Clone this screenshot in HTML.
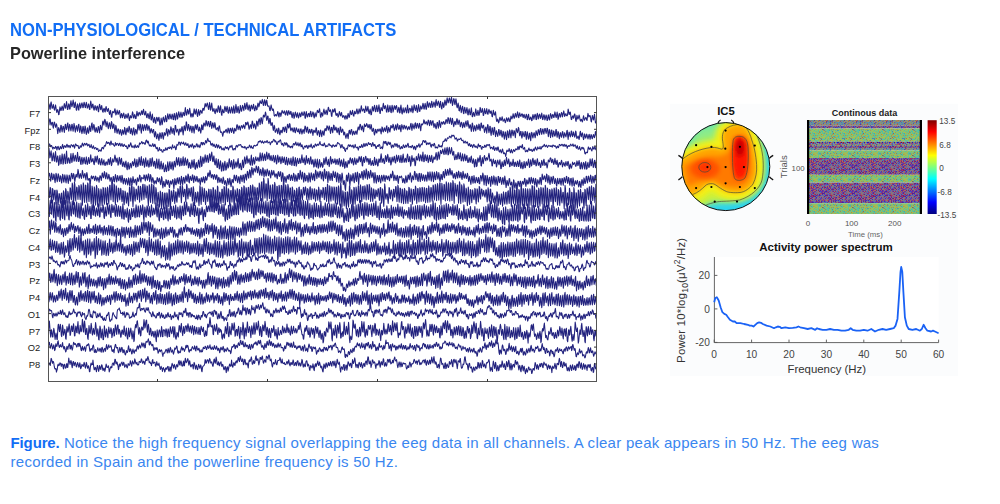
<!DOCTYPE html><html><head><meta charset="utf-8"><style>
*{margin:0;padding:0;box-sizing:border-box}
html,body{width:1000px;height:504px;background:#fff;overflow:hidden;font-family:"Liberation Sans",sans-serif}
.abs{position:absolute;white-space:nowrap}
#t1{left:10.3px;top:19.5px;font-size:17.6px;line-height:20px;font-weight:bold;color:#126ef5;transform:scaleX(0.944);transform-origin:0 0}
#t2{left:10.4px;top:44px;font-size:17px;line-height:20px;font-weight:bold;color:#262626;transform:scaleX(0.96);transform-origin:0 0}
#cap{left:10.6px;top:433px;font-size:15px;line-height:19.3px;color:#3a86f0;letter-spacing:0.27px}
#cap b{color:#126ef5;letter-spacing:-0.15px}
svg{position:absolute;left:0;top:0}
</style></head><body>
<div class="abs" id="t1">NON-PHYSIOLOGICAL / TECHNICAL ARTIFACTS</div><div class="abs" id="t2">Powerline interference</div><div class="abs" id="cap"><b>Figure.</b> Notice the high frequency signal overlapping the eeg data in all channels. A clear peak appears in 50 Hz. The eeg was<br>recorded in Spain and the powerline frequency is 50 Hz.</div>
<svg width="1000" height="504" viewBox="0 0 1000 504" font-family="Liberation Sans, sans-serif"><rect x="48.5" y="96.5" width="548.0" height="285.0" fill="#fff"/><clipPath id="ck"><rect x="48.5" y="96.5" width="548.0" height="285.0"/></clipPath><g clip-path="url(#ck)"><g transform="translate(48.5,0) scale(0.44,0.1)" fill="none" stroke="#22227e" stroke-width="1.05" stroke-linejoin="round"><path vector-effect="non-scaling-stroke" d="M0 1043l1 -5 1 13 1 39 1 3 1 -59 1 -15 1 27 1 37 1 -1 1 -19 1 -19 1 29 1 22 1 6 1 -33 1 -19 1 27 1 33 1 16 1 -21 1 -9 1 18 1 35 1 -4 1 -41 1 -35 1 13 1 26 1 -5 1 -25 1 -16 1 16 1 28 1 -8 1 -35 1 -26 1 16 1 30 1 -2 1 -35 1 -30 1 32 1 47 1 0 1 -33 1 -23 1 10 1 43 1 -2 1 -53 1 -29 1 29 1 32 1 -10 1 -30 1 -28 1 25 1 50 1 -1 1 -39 1 -14 1 35 1 42 1 5 1 -39 1 -26 1 18 1 40 1 5 1 -52 1 -19 1 21 1 30 1 -10 1 -29 1 -14 1 16 1 34 1 -3 1 -36 1 -17 1 19 1 30 1 5 1 -32 1 -21 1 20 1 38 1 -3 1 -17 1 -22 1 16 1 38 1 2 1 -50 1 -35 1 27 1 40 1 3 1 -35 1 -4 1 26 1 33 1 1 1 -34 1 -12 1 19 1 23 1 5 1 -37 1 -5 1 13 1 40 1 5 1 -55 1 -21 1 16 1 32 1 8 1 -29 1 -14 1 32 1 30 1 6 1 -26 1 -14 1 5 1 28 1 4 1 -40 1 -15 1 20 1 24 1 5 1 -20 1 -10 1 20 1 30 1 11 1 -23 1 -18 1 33 1 35 1 -1 1 -38 1 -19 1 5 1 7 1 3 1 -26 1 -16 1 22 1 41 1 -8 1 -16 1 -26 1 18 1 27 1 -7 1 -17 1 -16 1 17 1 46 1 11 1 -29 1 -15 1 12 1 31 1 -14 1 -21 1 -12 1 23 1 29 1 1 1 -24 1 -18 1 14 1 22 1 2 1 -26 1 -21 1 17 1 39 1 17 1 -28 1 -22 1 12 1 11 1 -5 1 -30 1 -26 1 14 1 44 1 5 1 -25 1 -12 1 18 1 24 1 -2 1 -39 1 -33 1 22 1 25 1 0 1 -27 1 -9 1 10 1 14 1 5 1 -18 1 -17 1 -9 1 37 1 -4 1 -30 1 -18 1 22 1 33 1 2 1 -14 1 -24 1 31 1 31 1 3 1 -30 1 -12 1 14 1 32 1 7 1 -40 1 -31 1 35 1 45 1 3 1 -34 1 -26 1 36 1 42 1 6 1 -34 1 -16 1 22 1 37 1 -1 1 -40 1 -20 1 6 1 31 1 3 1 -29 1 -11 1 30 1 48 1 1 1 -33 1 -38 1 26 1 42 1 -13 1 -51 1 -13 1 19 1 21 1 9 1 -37 1 -28 1 28 1 35 1 -6 1 -44 1 -31 1 24 1 28 1 2 1 -44 1 -7 1 17 1 28 1 5 1 -28 1 -21 1 11 1 41 1 3 1 -42 1 -20 1 27 1 38 1 0 1 -55 1 -17 1 26 1 38 1 -10 1 -42 1 -22 1 21 1 31 1 3 1 -31 1 -21 1 22 1 31 1 -2 1 -30 1 -19 1 8 1 25 1 3 1 -46 1 -36 1 34 1 39 1 2 1 -32 1 -25 1 15 1 31 1 -1 1 -39 1 -18 1 31 1 48 1 10 1 -21 1 -17 1 10 1 26 1 -7 1 -38 1 -36 1 18 1 33 1 2 1 -32 1 -18 1 29 1 34 1 11 1 -40 1 -29 1 22 1 34 1 -8 1 -34 1 -8 1 12 1 17 1 1 1 -32 1 -18 1 3 1 20 1 -15 1 -28 1 -27 1 11 1 23 1 -11 1 -18 1 -10 1 22 1 30 1 13 1 -34 1 -35 1 24 1 53 1 -9 1 -36 1 -27 1 37 1 41 1 5 1 -13 1 -17 1 21 1 25 1 6 1 -36 1 -12 1 12 1 21 1 1 1 -43 1 -22 1 16 1 43 1 9 1 -45 1 -23 1 35 1 51 1 11 1 -39 1 -22 1 18 1 17 1 0 1 -46 1 -19 1 14 1 34 1 4 1 -37 1 -15 1 26 1 37 1 7 1 -31 1 -31 1 25 1 31 1 3 1 -36 1 -25 1 17 1 37 1 9 1 -45 1 -29 1 36 1 38 1 -11 1 -44 1 -33 1 28 1 53 1 -2 1 -44 1 -14 1 31 1 35 1 -2 1 -36 1 -39 1 26 1 31 1 0 1 -34 1 -24 1 14 1 23 1 17 1 -40 1 -35 1 22 1 38 1 -6 1 -41 1 -19 1 29 1 39 1 6 1 -34 1 -17 1 20 1 42 1 -5 1 -42 1 -13 1 12 1 28 1 -3 1 -24 1 -22 1 29 1 33 1 4 1 -31 1 -20 1 21 1 21 1 -5 1 -37 1 -26 1 9 1 29 1 -13 1 -29 1 -20 1 13 1 12 1 3 1 -23 1 -18 1 24 1 32 1 4 1 -35 1 -22 1 12 1 45 1 -5 1 -37 1 -11 1 28 1 29 1 5 1 -1 1 -4 1 21 1 27 1 1 1 -36 1 -22 1 24 1 20 1 11 1 -15 1 3 1 27 1 37 1 5 1 -7 1 -8 1 2 1 11 1 -2 1 -22 1 -20 1 13 1 33 1 9 1 -36 1 -7 1 8 1 29 1 -18 1 -24 1 -18 1 10 1 17 1 1 1 -11 1 -13 1 17 1 22 1 2 1 -28 1 -14 1 4 1 42 1 -3 1 -27 1 -18 1 18 1 17 1 5 1 -27 1 -5 1 24 1 30 1 10 1 -35 1 -17 1 20 1 39 1 -12 1 -33 1 -19 1 17 1 25 1 10 1 -27 1 -18 1 26 1 27 1 -10 1 -23 1 -18 1 15 1 24 1 -8 1 -29 1 -11 1 16 1 19 1 -2 1 -18 1 -19 1 10 1 54 1 3 1 -43 1 -24 1 29 1 25 1 -3 1 -25 1 -8 1 2 1 30 1 1 1 -44 1 -11 1 27 1 28 1 -12 1 -18 1 -18 1 11 1 39 1 11 1 -34 1 -18 1 21 1 19 1 -14 1 -27 1 -24 1 6 1 15 1 2 1 -21 1 -18 1 30 1 47 1 10 1 -29 1 -19 1 13 1 22 1 -18 1 -35 1 -18 1 24 1 28 1 -1 1 -20 1 -20 1 14 1 33 1 -9 1 -43 1 -24 1 11 1 27 1 5 1 -9 1 -8 1 22 1 37 1 8 1 -46 1 -26 1 11 1 16 1 0 1 -29 1 -5 1 23 1 39 1 7 1 -16 1 -5 1 13 1 24 1 -6 1 -27 1 -23 1 12 1 26 1 6 1 -20 1 -15 1 25 1 20 1 5 1 -14 1 -4 1 6 1 19 1 11 1 -27 1 -10 1 12 1 22 1 -2 1 -35 1 -18 1 19 1 21 1 -3 1 -38 1 -26 1 16 1 23 1 -2 1 -21 1 -20 1 28 1 27 1 3 1 -28 1 -21 1 20 1 5 1 -3 1 -34 1 -11 1 21 1 30 1 -6 1 -22 1 -24 1 14 1 30 1 -15 1 -34 1 -26 1 26 1 28 1 -6 1 -8 1 -8 1 7 1 28 1 1 1 -35 1 -29 1 26 1 23 1 3 1 -31 1 -18 1 34 1 34 1 6 1 -30 1 -17 1 27 1 30 1 -3 1 -44 1 -35 1 14 1 31 1 -7 1 -35 1 -16 1 22 1 43 1 -3 1 -32 1 -30 1 24 1 40 1 -5 1 -36 1 -28 1 31 1 52 1 4 1 -39 1 -22 1 15 1 15 1 3 1 -46 1 -28 1 24 1 29 1 2 1 -27 1 -4 1 20 1 39 1 7 1 -34 1 -40 1 32 1 39 1 -5 1 -36 1 -23 1 22 1 43 1 5 1 -49 1 -25 1 27 1 42 1 -17 1 -28 1 -19 1 4 1 34 1 -5 1 -26 1 -9 1 23 1 44 1 -1 1 -26 1 -22 1 12 1 44 1 -1 1 -53 1 -25 1 34 1 47 1 9 1 -38 1 -24 1 29 1 20 1 -11 1 -20 1 -19 1 18 1 25 1 9 1 -45 1 -33 1 35 1 43 1 -6 1 -33 1 -8 1 2 1 25 1 11 1 -24 1 -38 1 23 1 47 1 -16 1 -35 1 -30 1 24 1 26 1 9 1 -23 1 -29 1 27 1 42 1 0 1 -48 1 -29 1 24 1 43 1 1 1 -29 1 -26 1 15 1 17 1 -5 1 -27 1 -26 1 12 1 45 1 1 1 -36 1 -22 1 24 1 35 1 1 1 -46 1 -31 1 28 1 26 1 2 1 -42 1 -1 1 9 1 34 1 3 1 -38 1 -25 1 26 1 34 1 -10 1 -26 1 -16 1 15 1 23 1 15 1 -54 1 -23 1 32 1 29 1 -8 1 -26 1 -12 1 15 1 34 1 15 1 -39 1 -24 1 33 1 37 1 8 1 -38 1 -29 1 17 1 34 1 -9 1 -37 1 -27 1 17 1 34 1 -3 1 -44 1 -27 1 20 1 31 1 -6 1 -27 1 -17 1 10 1 39 1 3 1 -34 1 -25 1 33 1 50 1 -13 1 -35 1 -22 1 7 1 46 1 10 1 -37 1 -23 1 29 1 49 1 12 1 -25 1 -22 1 27 1 48 1 3 1 -34 1 -22 1 26 1 48 1 -13 1 -33 1 -19 1 18 1 53 1 4 1 -42 1 -23 1 23 1 33 1 4 1 -37 1 -20 1 27 1 45 1 2 1 -44 1 -17 1 27 1 32 1 1 1 -39 1 -32 1 37 1 53 1 0 1 -31 1 -13 1 17 1 21 1 0 1 -40 1 -32 1 28 1 28 1 10 1 -29 1 -23 1 21 1 29 1 -3 1 -41 1 -35 1 15 1 37 1 -5 1 -8 1 -29 1 24 1 47 1 -3 1 -31 1 -36 1 23 1 25 1 5 1 -30 1 -22 1 29 1 25 1 3 1 -34 1 -16 1 14 1 20 1 7 1 -22 1 -3 1 20 1 36 1 2 1 -35 1 -30 1 23 1 24 1 1 1 -16 1 -17 1 49 1 37 1 12 1 -14 1 -11 1 21 1 18 1 -12 1 -27 1 -18 1 12 1 20 1 -1 1 -18 1 -18 1 22 1 23 1 -1 1 -9 1 -14 1 15 1 24 1 -6 1 -23 1 -20 1 10 1 20 1 6 1 -27 1 -9 1 13 1 24 1 2 1 -26 1 -30 1 8 1 21 1 -10 1 -17 1 -26 1 21 1 23 1 0 1 -30 1 -18 1 13 1 25 1 1 1 -33 1 -21 1 19 1 34 1 7 1 -34 1 -16 1 22 1 13 1 0 1 -20 1 -5 1 3 1 28 1 6 1 -27 1 -4 1 20 1 18 1 -1 1 -24 1 -15 1 18 1 37 1 -1 1 -40 1 -14 1 29 1 26 1 -2 1 -16 1 -9 1 11 1 26 1 -2 1 -39 1 -21 1 16 1 32 1 -16 1 -24 1 -11 1 14 1 38 1 2 1 -47 1 -16 1 18 1 38 1 -8 1 -28 1 -12 1 9 1 35 1 -6 1 -23 1 -25 1 29 1 36 1 -4 1 -31 1 -15 1 11 1 42 1 -8 1 -25 1 -16 1 16 1 38 1 -1 1 -29 1 -26 1 23 1 24 1 5 1 -48 1 -16 1 11 1 30 1 7 1 -28 1 -12 1 7 1 23 1 1 1 -34 1 -22 1 22 1 29 1 4 1 -26 1 -27 1 31 1 42 1 -12 1 -36 1 -12 1 12 1 26 1 -5 1 -31 1 -12 1 8 1 37 1 -14 1 -25 1 -21 1 22 1 33 1 -8 1 -14 1 -6 1 17 1 5 1 0 1 -28 1 -40 1 19 1 35 1 -1 1 -19 1 -3 1 37 1 37 1 1 1 -25 1 -11 1 -1 1 24 1 -6 1 -30 1 -8 1 18 1 43 1 14 1 -28 1 -33 1 18 1 20 1 -7 1 -19 1 -15 1 19 1 28 1 14 1 -13 1 -6 1 13 1 14 1 -9 1 -30 1 -23 1 21 1 25 1 -10 1 -9 1 -10 1 6 1 19 1 6 1 -43 1 -29 1 16 1 21 1 -6 1 -8 1 0 1 19 1 37 1 7 1 -35 1 -30 1 15 1 26 1 5 1 -38 1 -20 1 39 1 48 1 -2 1 -12"/><path vector-effect="non-scaling-stroke" d="M0 1224l1 26 1 -39 1 -22 1 4 1 46 1 13 1 -17 1 -12 1 2 1 38 1 19 1 -32 1 -30 1 5 1 30 1 18 1 -18 1 -17 1 16 1 46 1 36 1 -28 1 -33 1 9 1 22 1 19 1 -27 1 -45 1 0 1 43 1 23 1 -31 1 -25 1 1 1 35 1 25 1 -34 1 -46 1 -1 1 45 1 8 1 -19 1 -40 1 -8 1 49 1 33 1 -33 1 -34 1 11 1 34 1 20 1 -28 1 -39 1 4 1 45 1 22 1 -37 1 -42 1 21 1 40 1 26 1 -32 1 -29 1 -3 1 36 1 20 1 -35 1 -29 1 -7 1 57 1 26 1 -27 1 -39 1 11 1 45 1 21 1 -22 1 -49 1 1 1 43 1 25 1 -34 1 -40 1 9 1 55 1 20 1 -16 1 -41 1 -9 1 42 1 13 1 -21 1 -54 1 4 1 42 1 11 1 -33 1 -45 1 -8 1 51 1 21 1 -31 1 -26 1 13 1 47 1 18 1 -13 1 -34 1 8 1 31 1 11 1 -23 1 -36 1 1 1 38 1 24 1 -35 1 -41 1 12 1 27 1 7 1 -29 1 -50 1 -10 1 29 1 13 1 -36 1 -24 1 10 1 35 1 31 1 -29 1 -23 1 20 1 33 1 18 1 -28 1 -32 1 2 1 39 1 20 1 -28 1 -45 1 9 1 42 1 20 1 -15 1 -31 1 10 1 44 1 34 1 -32 1 -43 1 16 1 48 1 16 1 -26 1 -18 1 2 1 30 1 20 1 -15 1 -30 1 4 1 34 1 19 1 -13 1 -43 1 7 1 27 1 11 1 -25 1 -43 1 12 1 50 1 12 1 -30 1 -33 1 -5 1 37 1 6 1 -24 1 -36 1 7 1 40 1 26 1 -19 1 -33 1 13 1 42 1 11 1 -33 1 -38 1 2 1 53 1 17 1 -25 1 -32 1 4 1 27 1 14 1 -36 1 -55 1 -2 1 34 1 22 1 -28 1 -35 1 8 1 54 1 32 1 -41 1 -47 1 8 1 38 1 17 1 -31 1 -29 1 6 1 28 1 21 1 -26 1 -34 1 3 1 38 1 21 1 -27 1 -20 1 9 1 37 1 27 1 -19 1 -25 1 0 1 29 1 13 1 -16 1 -18 1 1 1 43 1 31 1 -21 1 -33 1 13 1 48 1 11 1 -22 1 -26 1 3 1 39 1 23 1 -31 1 -46 1 5 1 36 1 16 1 -23 1 -37 1 6 1 42 1 19 1 -29 1 -38 1 7 1 21 1 -3 1 -18 1 -41 1 -4 1 53 1 21 1 -33 1 -32 1 8 1 20 1 21 1 -36 1 -42 1 13 1 34 1 21 1 -22 1 -29 1 5 1 45 1 15 1 -40 1 -55 1 1 1 42 1 24 1 -12 1 -13 1 -4 1 35 1 25 1 -21 1 -38 1 -6 1 26 1 6 1 -11 1 -41 1 0 1 50 1 32 1 -36 1 -49 1 -5 1 33 1 16 1 -36 1 -55 1 10 1 50 1 27 1 -21 1 -39 1 7 1 39 1 22 1 -21 1 -30 1 0 1 41 1 25 1 -30 1 -35 1 6 1 39 1 24 1 -39 1 -33 1 -11 1 31 1 16 1 -24 1 -26 1 12 1 39 1 16 1 -5 1 -36 1 11 1 28 1 21 1 -25 1 -57 1 1 1 44 1 3 1 -36 1 -31 1 3 1 17 1 12 1 -21 1 -36 1 10 1 34 1 11 1 -19 1 -27 1 3 1 34 1 17 1 -18 1 -38 1 7 1 42 1 23 1 -22 1 -33 1 1 1 34 1 15 1 -18 1 -36 1 18 1 41 1 13 1 -6 1 -10 1 -5 1 19 1 15 1 -33 1 -19 1 10 1 37 1 17 1 2 1 -5 1 1 1 24 1 19 1 -21 1 -24 1 -7 1 11 1 0 1 -12 1 -12 1 -5 1 23 1 13 1 -17 1 -31 1 7 1 26 1 18 1 -26 1 -24 1 2 1 24 1 17 1 -21 1 -25 1 9 1 26 1 21 1 -15 1 -37 1 9 1 16 1 1 1 -26 1 -34 1 -2 1 28 1 22 1 -21 1 -18 1 6 1 26 1 11 1 -25 1 -17 1 -3 1 14 1 12 1 -14 1 -20 1 8 1 17 1 14 1 -25 1 -38 1 0 1 20 1 6 1 -19 1 -12 1 15 1 40 1 19 1 -16 1 -21 1 -9 1 19 1 20 1 -41 1 -34 1 6 1 42 1 21 1 -21 1 -22 1 9 1 29 1 17 1 -29 1 -52 1 3 1 31 1 17 1 -40 1 -25 1 -10 1 27 1 32 1 -37 1 -33 1 7 1 42 1 12 1 -33 1 -44 1 -9 1 17 1 2 1 -22 1 -28 1 14 1 45 1 25 1 -16 1 -28 1 3 1 51 1 23 1 -16 1 -37 1 7 1 50 1 14 1 -9 1 -21 1 10 1 45 1 25 1 -24 1 -28 1 13 1 53 1 4 1 -17 1 -10 1 -10 1 31 1 20 1 -27 1 -30 1 17 1 39 1 12 1 -22 1 -24 1 1 1 21 1 4 1 -26 1 -30 1 3 1 21 1 22 1 -27 1 -24 1 9 1 32 1 18 1 -41 1 -39 1 -4 1 30 1 9 1 -14 1 -32 1 10 1 48 1 15 1 -12 1 -16 1 1 1 23 1 15 1 -8 1 -34 1 2 1 41 1 8 1 -20 1 -31 1 7 1 20 1 12 1 3 1 -26 1 -4 1 36 1 13 1 -19 1 -28 1 -2 1 30 1 22 1 -16 1 -28 1 -1 1 21 1 17 1 -43 1 -30 1 5 1 31 1 24 1 -23 1 -27 1 4 1 47 1 11 1 -15 1 -25 1 1 1 30 1 7 1 -13 1 -26 1 5 1 33 1 24 1 -30 1 -22 1 3 1 17 1 5 1 -19 1 -31 1 5 1 53 1 17 1 -21 1 -26 1 6 1 21 1 34 1 -28 1 -38 1 7 1 39 1 21 1 -31 1 -22 1 -6 1 39 1 6 1 -27 1 -35 1 -6 1 19 1 4 1 -24 1 -27 1 9 1 15 1 21 1 -18 1 -25 1 12 1 37 1 27 1 -31 1 -31 1 1 1 33 1 21 1 -36 1 -41 1 3 1 41 1 8 1 -10 1 -22 1 6 1 37 1 13 1 -14 1 -32 1 4 1 44 1 19 1 -36 1 -45 1 6 1 39 1 12 1 -13 1 -21 1 6 1 25 1 29 1 -11 1 -18 1 22 1 20 1 20 1 -20 1 -23 1 -4 1 30 1 21 1 -42 1 -37 1 -6 1 30 1 10 1 -25 1 -20 1 -2 1 39 1 17 1 -16 1 -23 1 0 1 26 1 8 1 -13 1 -20 1 -4 1 22 1 12 1 -28 1 -30 1 -16 1 19 1 12 1 -33 1 -24 1 1 1 33 1 23 1 -14 1 -27 1 6 1 38 1 15 1 -31 1 -46 1 9 1 14 1 1 1 -10 1 -19 1 6 1 19 1 15 1 -3 1 -25 1 -2 1 30 1 15 1 -12 1 -35 1 11 1 50 1 9 1 -8 1 -23 1 7 1 45 1 15 1 -18 1 -40 1 2 1 29 1 7 1 -15 1 -21 1 -3 1 11 1 12 1 -11 1 -13 1 -1 1 28 1 22 1 -33 1 -37 1 8 1 37 1 6 1 -20 1 -18 1 -3 1 29 1 6 1 -19 1 -30 1 -7 1 51 1 20 1 -29 1 -26 1 9 1 30 1 7 1 -28 1 -36 1 2 1 19 1 3 1 -12 1 -26 1 13 1 33 1 16 1 -10 1 -31 1 -15 1 34 1 17 1 -31 1 -31 1 10 1 37 1 9 1 -3 1 -35 1 -1 1 46 1 18 1 -40 1 -32 1 14 1 15 1 18 1 -16 1 -25 1 5 1 21 1 12 1 -18 1 -13 1 8 1 19 1 13 1 -15 1 -12 1 -6 1 25 1 3 1 -23 1 -30 1 -7 1 44 1 27 1 -33 1 -33 1 16 1 23 1 11 1 -29 1 -27 1 -4 1 46 1 8 1 -27 1 -22 1 5 1 30 1 13 1 -17 1 -32 1 7 1 47 1 21 1 -44 1 -25 1 0 1 10 1 -11 1 -8 1 -32 1 5 1 30 1 6 1 -5 1 -17 1 1 1 19 1 13 1 -23 1 -26 1 3 1 33 1 20 1 -19 1 -32 1 1 1 35 1 11 1 -28 1 -15 1 -2 1 39 1 27 1 -13 1 -26 1 8 1 35 1 10 1 -22 1 -39 1 -3 1 30 1 28 1 -31 1 -46 1 10 1 44 1 15 1 -30 1 -20 1 -4 1 13 1 9 1 -13 1 -14 1 8 1 17 1 3 1 -13 1 -31 1 -3 1 16 1 23 1 -29 1 -30 1 7 1 30 1 23 1 -21 1 -35 1 1 1 41 1 22 1 -21 1 -41 1 23 1 41 1 21 1 -22 1 -26 1 -6 1 26 1 8 1 -31 1 -29 1 3 1 43 1 12 1 -21 1 -23 1 8 1 33 1 26 1 -24 1 -21 1 0 1 31 1 24 1 -18 1 -28 1 -6 1 41 1 6 1 -26 1 -26 1 -11 1 32 1 21 1 -23 1 -34 1 23 1 35 1 19 1 -11 1 -27 1 7 1 36 1 26 1 -41 1 -43 1 10 1 49 1 24 1 -21 1 -34 1 2 1 31 1 18 1 -20 1 -40 1 6 1 23 1 18 1 -13 1 -42 1 5 1 45 1 16 1 -33 1 -44 1 3 1 41 1 7 1 -9 1 -20 1 0 1 47 1 26 1 -18 1 -27 1 -10 1 29 1 34 1 -44 1 -43 1 4 1 48 1 29 1 -20 1 -45 1 3 1 63 1 26 1 -32 1 -44 1 2 1 44 1 24 1 -34 1 -41 1 4 1 57 1 32 1 -30 1 -29 1 18 1 21 1 18 1 -26 1 -42 1 -1 1 45 1 14 1 -19 1 -33 1 4 1 49 1 17 1 -17 1 -42 1 7 1 41 1 31 1 -33 1 -40 1 7 1 45 1 25 1 -34 1 -55 1 8 1 43 1 20 1 -29 1 -51 1 13 1 44 1 25 1 -37 1 -43 1 2 1 37 1 19 1 -25 1 -27 1 6 1 35 1 30 1 -47 1 -45 1 9 1 20 1 13 1 -23 1 -30 1 10 1 49 1 25 1 -10 1 -34 1 2 1 48 1 17 1 -23 1 -42 1 13 1 20 1 18 1 -10 1 -42 1 1 1 46 1 33 1 -43 1 -35 1 16 1 46 1 13 1 -19 1 -37 1 -6 1 54 1 24 1 -48 1 -37 1 7 1 33 1 17 1 -26 1 -24 1 -2 1 31 1 19 1 -24 1 -47 1 12 1 25 1 13 1 -25 1 -35 1 1 1 30 1 20 1 -32 1 -31 1 1 1 41 1 18 1 -25 1 -30 1 1 1 39 1 11 1 -33 1 -24 1 0 1 32 1 18 1 -19 1 -32 1 -1 1 47 1 38 1 -36 1 -35 1 4 1 46 1 30 1 -39 1 -36 1 0 1 56 1 12 1 -30 1 -30 1 9 1 36 1 8 1 -13 1 -52 1 -2 1 51 1 27 1 -30 1 -29 1 10 1 43 1 21 1 -29 1 -32 1 1 1 34 1 11 1 -24 1 -33 1 4 1 36 1 23 1 -24 1 -28 1 13 1 19 1 10 1 -22 1 -38 1 -6 1 56 1 36 1 -43 1 -31 1 7 1 29 1 12 1 -18 1 -41 1 2 1 41 1 13 1 -17 1 -30 1 13 1 24 1 16 1 -17 1 -45 1 10 1 49 1 16 1 -8 1 -13 1 -4 1 25 1 10 1 -27 1 -43 1 -13 1 41 1 15 1 -23 1 -17 1 11 1 38 1 19 1 -13 1 -44 1 4 1 26 1 13 1 -16 1 -25 1 8 1 22 1 19 1 -15 1 -26 1 -5 1 30 1 19 1 -27 1 -20 1 4 1 31 1 7 1 -19 1 -19 1 -4 1 26 1 4 1 -18 1 -43 1 12 1 30"/><path vector-effect="non-scaling-stroke" d="M0 1470l1 -20 1 -9 1 -1 1 27 1 -1 1 -10 1 -1 1 13 1 12 1 11 1 -18 1 0 1 5 1 6 1 1 1 -21 1 3 1 7 1 26 1 -15 1 -18 1 -4 1 18 1 16 1 -3 1 -17 1 -12 1 13 1 9 1 -2 1 -26 1 -15 1 17 1 25 1 -12 1 -12 1 -6 1 7 1 11 1 -2 1 -20 1 -9 1 11 1 18 1 -2 1 -16 1 1 1 9 1 14 1 -9 1 -17 1 -5 1 5 1 3 1 13 1 -12 1 -7 1 13 1 20 1 -12 1 -27 1 -2 1 6 1 11 1 -2 1 2 1 -5 1 17 1 16 1 -1 1 -10 1 -17 1 0 1 15 1 -7 1 -20 1 -15 1 10 1 19 1 -1 1 -19 1 -6 1 4 1 11 1 1 1 -14 1 -3 1 11 1 15 1 -8 1 1 1 -10 1 18 1 14 1 -1 1 -12 1 -15 1 21 1 11 1 5 1 -16 1 -9 1 14 1 18 1 -7 1 -6 1 -1 1 4 1 15 1 -7 1 4 1 -8 1 20 1 11 1 -8 1 -1 1 -8 1 10 1 4 1 -3 1 -29 1 -4 1 -2 1 12 1 3 1 -19 1 -13 1 -3 1 8 1 -14 1 -18 1 -14 1 8 1 11 1 -7 1 -4 1 8 1 -5 1 20 1 5 1 -25 1 -17 1 15 1 21 1 -4 1 -4 1 -2 1 13 1 8 1 6 1 -10 1 -27 1 16 1 11 1 -14 1 -5 1 3 1 3 1 16 1 -2 1 -17 1 -5 1 9 1 20 1 -2 1 -12 1 -12 1 16 1 12 1 2 1 -12 1 -10 1 9 1 5 1 8 1 -1 1 -5 1 13 1 16 1 -2 1 -18 1 -21 1 6 1 15 1 -12 1 -17 1 -11 1 19 1 22 1 4 1 -3 1 -13 1 11 1 4 1 7 1 -22 1 -10 1 20 1 8 1 -1 1 -11 1 -7 1 7 1 12 1 -6 1 -20 1 -20 1 14 1 -6 1 -6 1 -3 1 -13 1 7 1 16 1 -4 1 -8 1 3 1 1 1 14 1 -3 1 -26 1 -13 1 -1 1 19 1 9 1 -19 1 8 1 21 1 14 1 7 1 -10 1 1 1 11 1 0 1 0 1 -16 1 -10 1 14 1 16 1 -2 1 -19 1 -2 1 17 1 16 1 12 1 -5 1 -11 1 17 1 23 1 -5 1 -8 1 -24 1 15 1 14 1 -4 1 -1 1 -3 1 23 1 -1 1 3 1 -17 1 -8 1 6 1 4 1 -2 1 -25 1 1 1 16 1 4 1 -2 1 -20 1 -5 1 5 1 6 1 1 1 -16 1 1 1 6 1 10 1 6 1 -28 1 -16 1 22 1 8 1 -1 1 -7 1 -11 1 15 1 23 1 -3 1 -28 1 -22 1 8 1 1 1 -12 1 -21 1 0 1 5 1 21 1 5 1 -25 1 -5 1 7 1 6 1 4 1 -3 1 -15 1 18 1 13 1 -1 1 -16 1 -7 1 14 1 11 1 3 1 -12 1 -7 1 23 1 18 1 -1 1 -17 1 -12 1 8 1 12 1 3 1 -24 1 -7 1 13 1 19 1 12 1 -21 1 -5 1 8 1 4 1 -2 1 -24 1 -6 1 9 1 23 1 1 1 -8 1 -14 1 17 1 11 1 -14 1 -16 1 -22 1 2 1 16 1 7 1 -25 1 0 1 12 1 11 1 -5 1 -15 1 -21 1 5 1 19 1 -10 1 -23 1 -14 1 18 1 12 1 2 1 -4 1 -1 1 14 1 24 1 4 1 -12 1 -8 1 13 1 18 1 -5 1 -17 1 8 1 14 1 11 1 -2 1 -22 1 -7 1 14 1 22 1 -7 1 -22 1 3 1 15 1 16 1 -6 1 -14 1 2 1 13 1 19 1 -4 1 -4 1 -10 1 14 1 7 1 -5 1 -16 1 -14 1 13 1 -1 1 8 1 -14 1 -1 1 13 1 15 1 -13 1 -13 1 -9 1 -5 1 13 1 -2 1 -8 1 -9 1 29 1 16 1 2 1 -10 1 -6 1 0 1 15 1 -10 1 -29 1 -1 1 -5 1 17 1 -5 1 -10 1 -8 1 -1 1 6 1 -3 1 -5 1 2 1 14 1 7 1 8 1 -11 1 4 1 3 1 4 1 4 1 -16 1 7 1 1 1 18 1 2 1 -14 1 -7 1 5 1 1 1 0 1 -18 1 -8 1 12 1 10 1 8 1 -23 1 14 1 2 1 10 1 0 1 -23 1 -5 1 -3 1 5 1 2 1 -1 1 -5 1 -5 1 6 1 -9 1 -14 1 -16 1 2 1 1 1 -5 1 -8 1 5 1 10 1 8 1 -5 1 -16 1 15 1 -2 1 11 1 -6 1 -10 1 -3 1 5 1 7 1 -2 1 -13 1 -4 1 13 1 11 1 -5 1 -5 1 2 1 -1 1 26 1 -12 1 -8 1 -11 1 0 1 7 1 -10 1 -15 1 -4 1 5 1 11 1 9 1 -12 1 8 1 13 1 17 1 -3 1 -16 1 -14 1 1 1 8 1 -12 1 -5 1 -6 1 12 1 24 1 14 1 -11 1 -3 1 18 1 8 1 -4 1 -29 1 0 1 3 1 19 1 2 1 -23 1 5 1 12 1 26 1 -7 1 -13 1 11 1 1 1 12 1 2 1 -12 1 -3 1 1 1 16 1 -11 1 -23 1 -10 1 1 1 13 1 0 1 -17 1 -12 1 17 1 16 1 -1 1 -12 1 -13 1 19 1 14 1 -4 1 -19 1 -8 1 15 1 24 1 -2 1 -19 1 15 1 15 1 13 1 -1 1 -19 1 -6 1 -5 1 8 1 7 1 -17 1 -4 1 11 1 20 1 -2 1 -18 1 -11 1 8 1 8 1 1 1 -18 1 -12 1 24 1 13 1 5 1 -13 1 -13 1 9 1 7 1 -9 1 -20 1 -3 1 10 1 10 1 -4 1 -12 1 -3 1 9 1 3 1 -11 1 -16 1 -10 1 24 1 6 1 4 1 2 1 -9 1 12 1 3 1 -3 1 -18 1 -7 1 18 1 12 1 10 1 -13 1 1 1 6 1 -3 1 0 1 -21 1 0 1 -3 1 15 1 6 1 -7 1 3 1 7 1 13 1 -4 1 -21 1 -1 1 6 1 8 1 5 1 -6 1 -10 1 4 1 9 1 -11 1 -15 1 -13 1 2 1 7 1 3 1 0 1 7 1 9 1 26 1 -3 1 -21 1 -10 1 15 1 12 1 12 1 -13 1 4 1 24 1 8 1 8 1 -28 1 -5 1 0 1 10 1 -16 1 -23 1 -5 1 0 1 14 1 3 1 -16 1 4 1 5 1 8 1 4 1 -14 1 -6 1 13 1 18 1 -8 1 -11 1 -18 1 18 1 14 1 2 1 -1 1 -7 1 14 1 18 1 -17 1 -17 1 -5 1 1 1 11 1 -1 1 -18 1 -11 1 18 1 11 1 -6 1 -21 1 -13 1 15 1 16 1 -6 1 -18 1 -7 1 15 1 9 1 -5 1 -14 1 -13 1 4 1 15 1 0 1 -7 1 -2 1 9 1 19 1 -2 1 -26 1 -11 1 13 1 19 1 3 1 -15 1 1 1 14 1 23 1 2 1 -20 1 -2 1 -9 1 11 1 -4 1 -16 1 -1 1 8 1 33 1 -3 1 -2 1 -8 1 -4 1 20 1 -16 1 -46 1 -13 1 4 1 14 1 6 1 -23 1 1 1 20 1 16 1 2 1 -20 1 -14 1 9 1 13 1 3 1 -21 1 7 1 14 1 24 1 12 1 -21 1 -8 1 8 1 13 1 -5 1 -25 1 -5 1 1 1 15 1 12 1 -23 1 -4 1 11 1 26 1 -12 1 -6 1 -5 1 15 1 23 1 -4 1 -9 1 -12 1 15 1 4 1 -4 1 -26 1 -5 1 12 1 15 1 -1 1 -14 1 -11 1 7 1 13 1 -12 1 -14 1 -12 1 19 1 23 1 -3 1 -3 1 -4 1 2 1 11 1 -3 1 -15 1 -5 1 9 1 16 1 13 1 -21 1 -8 1 11 1 24 1 -8 1 -26 1 -10 1 4 1 12 1 -9 1 -12 1 -12 1 21 1 16 1 -11 1 -12 1 -7 1 -6 1 10 1 -18 1 -23 1 -1 1 2 1 12 1 5 1 -15 1 -3 1 11 1 28 1 1 1 -15 1 -3 1 1 1 13 1 -4 1 -5 1 -8 1 21 1 18 1 6 1 -26 1 -3 1 7 1 10 1 -1 1 -21 1 -3 1 12 1 33 1 -5 1 4 1 -8 1 6 1 5 1 -8 1 -16 1 -11 1 8 1 14 1 -1 1 -6 1 6 1 -9 1 13 1 -16 1 -26 1 -16 1 0 1 1 1 -4 1 -13 1 -9 1 16 1 8 1 -5 1 -20 1 -9 1 5 1 0 1 -5 1 -11 1 -5 1 6 1 6 1 5 1 -19 1 -9 1 5 1 6 1 -6 1 -4 1 10 1 10 1 19 1 -2 1 -5 1 -5 1 12 1 18 1 1 1 -19 1 2 1 0 1 2 1 -3 1 -7 1 -5 1 8 1 16 1 1 1 -1 1 -3 1 20 1 9 1 -2 1 -12 1 -5 1 8 1 14 1 -8 1 -5 1 -1 1 16 1 16 1 7 1 -13 1 -10 1 13 1 17 1 0 1 -18 1 3 1 11 1 16 1 -15 1 -13 1 -6 1 17 1 8 1 5 1 -14 1 3 1 9 1 5 1 6 1 -29 1 -14 1 14 1 15 1 -7 1 -7 1 0 1 19 1 17 1 2 1 -26 1 2 1 4 1 2 1 0 1 -21 1 -1 1 13 1 8 1 -9 1 -16 1 -3 1 6 1 5 1 -6 1 -4 1 -2 1 16 1 20 1 7 1 -13 1 -2 1 7 1 3 1 11 1 -25 1 -4 1 27 1 14 1 -11 1 -12 1 -7 1 9 1 20 1 -4 1 -30 1 1 1 25 1 18 1 6 1 -10 1 -13 1 14 1 18 1 -6 1 -23 1 -10 1 21 1 23 1 4 1 -11 1 6 1 8 1 23 1 -21 1 -28 1 -14 1 6 1 8 1 -2 1 -12 1 -16 1 20 1 12 1 11 1 -22 1 -12 1 20 1 15 1 -7 1 -15 1 -11 1 6 1 12 1 -4 1 -13 1 -9 1 2 1 7 1 1 1 -18 1 -15 1 8 1 23 1 -7 1 -28 1 0 1 4 1 10 1 3 1 -20 1 -12 1 27 1 18 1 -1 1 -8 1 -8 1 25 1 19 1 -3 1 -2 1 -12 1 5 1 12 1 -15 1 -13 1 -10 1 18 1 7 1 0 1 -10 1 -2 1 9 1 12 1 -1 1 -14 1 -10 1 11 1 9 1 -19 1 -12 1 -8 1 21 1 8 1 1 1 -17 1 -14 1 12 1 7 1 0 1 -5 1 -18 1 15 1 11 1 -3 1 -18 1 -7 1 8 1 -11 1 2 1 -11 1 -7 1 11 1 13 1 -7 1 -2 1 -8 1 12 1 11 1 -8 1 -6 1 -6 1 4 1 3 1 2 1 1 1 -8 1 3 1 9 1 3 1 -19 1 -2 1 7 1 2 1 5 1 -9 1 6 1 7 1 13 1 1 1 -17 1 -4 1 11 1 5 1 -14 1 -19 1 2 1 3 1 9 1 -3 1 -9 1 -3 1 3 1 13 1 3 1 -14 1 -6 1 9 1 14 1 -7 1 -11 1 4 1 16 1 16 1 -18 1 -6 1 -3 1 8 1 -5 1 3 1 -15 1 -6 1 10 1 3 1 5 1 -12 1 -8 1 15 1 11 1 -13 1 1 1 -5 1 11 1 18 1 6 1 -16 1 -10 1 23 1 13 1 -2 1 -9 1 -16 1 21 1 15 1 -5 1 -14 1 -9 1 -2 1 13 1 4 1 -11 1 11 1 17 1 28 1 6 1 -12 1 -7 1 7 1 0 1 -3 1 -37 1 -19 1 17 1 7 1 0 1 -16 1 1 1 13 1 11 1 8 1 -22 1 -23 1 11 1 15 1 1 1 -15 1 -13 1 19 1 15 1 -5"/><path vector-effect="non-scaling-stroke" d="M0 1506l1 -25 1 38 1 60 1 -12 1 -39 1 -20 1 45 1 57 1 -10 1 -42 1 -31 1 36 1 43 1 7 1 -68 1 -29 1 47 1 58 1 -3 1 -46 1 -13 1 36 1 59 1 -13 1 -59 1 -29 1 38 1 48 1 -4 1 -60 1 -36 1 40 1 64 1 -14 1 -62 1 -26 1 33 1 59 1 3 1 -79 1 -46 1 59 1 62 1 -10 1 -38 1 -6 1 20 1 33 1 0 1 -58 1 -38 1 45 1 45 1 -13 1 -56 1 -24 1 41 1 40 1 -11 1 -37 1 -13 1 26 1 34 1 1 1 -45 1 -46 1 43 1 50 1 0 1 -36 1 -15 1 28 1 48 1 4 1 -54 1 -18 1 28 1 41 1 -14 1 -42 1 -11 1 25 1 33 1 7 1 -39 1 -31 1 42 1 34 1 -9 1 -33 1 -28 1 30 1 30 1 -13 1 -46 1 -28 1 44 1 28 1 -5 1 -19 1 -12 1 28 1 27 1 7 1 -46 1 -37 1 28 1 31 1 -12 1 -41 1 -10 1 32 1 41 1 11 1 -46 1 -12 1 35 1 26 1 4 1 -46 1 -18 1 32 1 23 1 8 1 -38 1 -13 1 31 1 24 1 1 1 -27 1 -9 1 5 1 26 1 -6 1 -32 1 -21 1 8 1 48 1 -8 1 -45 1 -17 1 43 1 37 1 -11 1 -35 1 -22 1 24 1 9 1 -9 1 -37 1 -24 1 20 1 39 1 12 1 -33 1 -9 1 32 1 41 1 -12 1 -40 1 -28 1 18 1 51 1 -1 1 -45 1 -13 1 41 1 37 1 3 1 -33 1 -13 1 20 1 30 1 3 1 -46 1 -14 1 31 1 43 1 12 1 -55 1 -19 1 38 1 31 1 -7 1 -38 1 -15 1 16 1 31 1 -16 1 -32 1 -15 1 10 1 31 1 -8 1 -38 1 -24 1 37 1 46 1 1 1 -48 1 -29 1 46 1 26 1 -16 1 -44 1 -32 1 28 1 46 1 5 1 -60 1 -27 1 48 1 40 1 -5 1 -36 1 -26 1 31 1 54 1 -11 1 -60 1 -23 1 37 1 46 1 0 1 -45 1 -15 1 41 1 30 1 -7 1 -46 1 -35 1 35 1 45 1 -10 1 -65 1 -12 1 35 1 39 1 11 1 -40 1 -10 1 22 1 49 1 -2 1 -65 1 -27 1 36 1 54 1 3 1 -61 1 -31 1 55 1 48 1 -8 1 -47 1 -25 1 35 1 43 1 -5 1 -36 1 -20 1 42 1 46 1 -4 1 -31 1 -35 1 31 1 37 1 -10 1 -49 1 -39 1 39 1 50 1 -9 1 -65 1 -18 1 35 1 38 1 2 1 -51 1 -20 1 28 1 54 1 -15 1 -51 1 -23 1 25 1 33 1 -16 1 -41 1 -38 1 30 1 45 1 -2 1 -54 1 -19 1 40 1 46 1 -7 1 -45 1 -27 1 32 1 42 1 -8 1 -50 1 -31 1 44 1 45 1 -7 1 -57 1 -14 1 31 1 43 1 -4 1 -40 1 -17 1 26 1 62 1 -4 1 -44 1 -5 1 27 1 32 1 -6 1 -46 1 -32 1 23 1 48 1 0 1 -57 1 -21 1 47 1 48 1 3 1 -47 1 -20 1 33 1 23 1 -15 1 -39 1 -26 1 24 1 45 1 2 1 -80 1 -30 1 48 1 55 1 -11 1 -65 1 -19 1 21 1 43 1 -15 1 -39 1 -33 1 29 1 47 1 -12 1 -36 1 -23 1 34 1 38 1 -9 1 -46 1 -32 1 24 1 46 1 -21 1 -46 1 -20 1 39 1 53 1 5 1 -42 1 -16 1 48 1 37 1 6 1 -41 1 -24 1 42 1 48 1 0 1 -55 1 -28 1 47 1 51 1 -5 1 -53 1 -24 1 40 1 63 1 -2 1 -58 1 -24 1 25 1 56 1 -11 1 -64 1 -21 1 43 1 46 1 -3 1 -49 1 -24 1 25 1 31 1 -9 1 -60 1 -25 1 34 1 43 1 6 1 -39 1 -25 1 32 1 52 1 -1 1 -64 1 -30 1 42 1 46 1 -15 1 -32 1 -18 1 17 1 37 1 -13 1 -50 1 -24 1 46 1 50 1 -2 1 -38 1 -9 1 34 1 32 1 -5 1 -50 1 -43 1 25 1 51 1 -19 1 -64 1 -24 1 26 1 44 1 -11 1 -45 1 -25 1 30 1 43 1 -9 1 -26 1 -9 1 27 1 29 1 8 1 -60 1 -41 1 48 1 56 1 -14 1 -47 1 -17 1 32 1 33 1 -12 1 -42 1 -19 1 23 1 15 1 2 1 -22 1 -13 1 14 1 24 1 1 1 -45 1 -39 1 35 1 46 1 -13 1 -43 1 -22 1 33 1 43 1 -8 1 -35 1 -23 1 23 1 40 1 -5 1 -55 1 -23 1 32 1 36 1 1 1 -41 1 -17 1 22 1 41 1 7 1 -39 1 -7 1 33 1 19 1 -4 1 -30 1 -22 1 26 1 44 1 -5 1 -42 1 -20 1 37 1 48 1 -7 1 -53 1 -29 1 23 1 48 1 -6 1 -37 1 -12 1 23 1 48 1 -13 1 -36 1 -24 1 26 1 35 1 -5 1 -36 1 -14 1 34 1 38 1 1 1 -43 1 -29 1 38 1 41 1 -10 1 -42 1 -17 1 33 1 23 1 7 1 -34 1 -30 1 29 1 45 1 -15 1 -43 1 -30 1 34 1 54 1 1 1 -44 1 -37 1 37 1 50 1 -14 1 -50 1 -15 1 25 1 26 1 0 1 -24 1 -27 1 24 1 25 1 -5 1 -52 1 -27 1 40 1 35 1 4 1 -28 1 -21 1 24 1 45 1 -6 1 -51 1 -35 1 38 1 40 1 -11 1 -28 1 -12 1 26 1 34 1 -7 1 -52 1 -16 1 28 1 47 1 -1 1 -36 1 -9 1 30 1 45 1 -9 1 -44 1 -28 1 34 1 38 1 9 1 -51 1 -29 1 44 1 47 1 -9 1 -50 1 -28 1 29 1 47 1 -10 1 -23 1 -13 1 22 1 27 1 -11 1 -43 1 -36 1 24 1 36 1 -19 1 -41 1 -14 1 36 1 32 1 10 1 -25 1 -30 1 38 1 35 1 -21 1 -51 1 -28 1 25 1 49 1 -9 1 -35 1 -4 1 23 1 14 1 0 1 -16 1 -26 1 19 1 39 1 -8 1 -32 1 -13 1 22 1 34 1 -8 1 -34 1 -23 1 26 1 53 1 -9 1 -40 1 -14 1 27 1 33 1 7 1 -43 1 -34 1 43 1 51 1 -9 1 -50 1 -8 1 28 1 28 1 1 1 -39 1 -29 1 16 1 18 1 -13 1 -38 1 -10 1 14 1 36 1 3 1 -33 1 -13 1 29 1 35 1 -9 1 -38 1 -23 1 29 1 29 1 7 1 -39 1 -18 1 23 1 16 1 -9 1 -28 1 -23 1 11 1 29 1 12 1 -39 1 -15 1 42 1 49 1 4 1 -60 1 -25 1 28 1 23 1 -13 1 -40 1 -10 1 19 1 23 1 16 1 -32 1 -5 1 13 1 48 1 -3 1 -42 1 -14 1 34 1 35 1 -6 1 -21 1 -21 1 29 1 16 1 4 1 -42 1 -40 1 29 1 47 1 -4 1 -34 1 -21 1 32 1 37 1 -2 1 -43 1 -26 1 8 1 29 1 -6 1 -51 1 -31 1 34 1 54 1 -9 1 -22 1 -8 1 25 1 25 1 -7 1 -43 1 -30 1 16 1 42 1 -8 1 -44 1 -19 1 26 1 48 1 7 1 -33 1 -18 1 34 1 43 1 -12 1 -44 1 -24 1 21 1 28 1 -15 1 -28 1 -14 1 34 1 32 1 2 1 -49 1 -31 1 31 1 33 1 -14 1 -35 1 -11 1 29 1 34 1 7 1 -40 1 -32 1 34 1 40 1 -7 1 -54 1 -25 1 33 1 50 1 -5 1 -21 1 -15 1 11 1 30 1 -19 1 -42 1 -21 1 22 1 53 1 1 1 -27 1 -25 1 41 1 55 1 -21 1 -55 1 -30 1 28 1 33 1 -11 1 -20 1 -5 1 28 1 50 1 -7 1 -53 1 -34 1 27 1 9 1 0 1 -35 1 -28 1 32 1 40 1 -9 1 -32 1 -20 1 13 1 45 1 6 1 -54 1 -37 1 51 1 46 1 -4 1 -52 1 -16 1 21 1 38 1 3 1 -37 1 -20 1 36 1 39 1 -12 1 -39 1 -21 1 27 1 31 1 3 1 -45 1 -17 1 40 1 35 1 -13 1 -27 1 -20 1 9 1 17 1 -5 1 -42 1 -21 1 28 1 48 1 -8 1 -50 1 -25 1 31 1 43 1 -26 1 -37 1 -27 1 17 1 16 1 -5 1 -25 1 -15 1 17 1 27 1 11 1 -46 1 -22 1 30 1 35 1 -3 1 -50 1 -17 1 29 1 47 1 -4 1 -55 1 -17 1 34 1 32 1 -10 1 -26 1 -27 1 27 1 38 1 11 1 -26 1 -13 1 52 1 33 1 -3 1 -25 1 -24 1 17 1 32 1 -8 1 -45 1 -18 1 30 1 35 1 -1 1 -36 1 -25 1 39 1 43 1 -4 1 -37 1 -30 1 35 1 38 1 -10 1 -33 1 -27 1 24 1 43 1 -5 1 -38 1 -11 1 41 1 29 1 1 1 -29 1 -20 1 14 1 33 1 -4 1 -46 1 -12 1 32 1 36 1 4 1 -28 1 -17 1 32 1 50 1 -2 1 -62 1 -12 1 32 1 40 1 -9 1 -54 1 -24 1 12 1 30 1 -6 1 -41 1 -20 1 39 1 63 1 4 1 -53 1 -31 1 31 1 29 1 -23 1 -44 1 -14 1 24 1 21 1 8 1 -26 1 -6 1 11 1 13 1 -20 1 -24 1 -23 1 21 1 59 1 -4 1 -13 1 -5 1 27 1 41 1 -2 1 -51 1 -15 1 18 1 24 1 3 1 -16 1 -18 1 28 1 40 1 -12 1 -39 1 -18 1 21 1 14 1 11 1 -32 1 -18 1 43 1 47 1 -2 1 -46 1 -22 1 22 1 27 1 -1 1 -36 1 -29 1 20 1 36 1 -11 1 -47 1 -26 1 31 1 33 1 3 1 -29 1 -21 1 30 1 49 1 -5 1 -35 1 -9 1 17 1 21 1 -3 1 -34 1 -28 1 34 1 37 1 1 1 -39 1 -4 1 18 1 23 1 2 1 -35 1 -19 1 17 1 37 1 1 1 -40 1 -26 1 34 1 48 1 1 1 -45 1 -15 1 39 1 27 1 -9 1 -38 1 -27 1 34 1 30 1 -3 1 -45 1 -13 1 20 1 19 1 -8 1 -32 1 -25 1 29 1 55 1 -7 1 -41 1 -30 1 36 1 26 1 -17 1 -45 1 -15 1 24 1 38 1 1 1 -37 1 -8 1 29 1 30 1 -5 1 -43 1 -24 1 25 1 41 1 0 1 -22 1 -8 1 19 1 33 1 -4 1 -38 1 -29 1 23 1 26 1 0 1 -46 1 -15 1 24 1 38 1 -4 1 -14 1 -12 1 24 1 32 1 -15 1 -33 1 -33 1 9 1 11 1 -3 1 -34 1 -3 1 6 1 36 1 7 1 -28 1 -7 1 21 1 30 1 -4 1 -31 1 -26 1 26 1 29 1 7 1 -30 1 -12 1 35 1 35 1 -9 1 -32 1 -7 1 4 1 19 1 -5 1 -24 1 -17 1 19 1 48 1 -14 1 -15 1 -14 1 9 1 22 1 6 1 -29 1 -19 1 19 1 17 1 6 1 -39 1 -5 1 20 1 45 1 11 1 -35 1 -14 1 22 1 21 1 -9 1 -21 1 -32 1 10 1 14 1 -5 1 -6 1 -9 1 22 1 16 1 -1 1 -24 1 -29 1 16 1 31 1 -5 1 -31 1 -15 1 29 1 50 1 5 1 -47 1 -19 1 36 1 31 1 -14 1 -39 1 -13 1 9 1 49 1 9 1 -55 1 -21 1 38 1 40 1 -8 1 -45 1 -17 1 31 1 20 1 -1 1 -47 1 -37 1 30 1 40 1 -5 1 -50 1 -17 1 48 1 40 1 -9 1 -40 1 -24 1 27 1 49 1 -8 1 -71"/><path vector-effect="non-scaling-stroke" d="M0 1773l1 -16 1 -25 1 8 1 48 1 24 1 -34 1 -47 1 13 1 47 1 6 1 -20 1 -36 1 8 1 53 1 25 1 -38 1 -57 1 14 1 53 1 19 1 -43 1 -37 1 11 1 44 1 22 1 -30 1 -28 1 8 1 49 1 16 1 -42 1 -45 1 9 1 57 1 14 1 -37 1 -39 1 19 1 43 1 20 1 -40 1 -41 1 19 1 42 1 26 1 -40 1 -44 1 12 1 42 1 8 1 -37 1 -42 1 -1 1 35 1 20 1 -29 1 -23 1 13 1 50 1 16 1 -33 1 -26 1 -14 1 24 1 6 1 -35 1 -43 1 19 1 56 1 14 1 -27 1 -21 1 15 1 23 1 11 1 -38 1 -42 1 23 1 33 1 19 1 -24 1 -18 1 -1 1 39 1 25 1 -44 1 -31 1 16 1 49 1 12 1 -3 1 -15 1 2 1 40 1 10 1 -39 1 -31 1 -7 1 22 1 7 1 -18 1 -7 1 0 1 27 1 16 1 -15 1 -31 1 11 1 26 1 14 1 -19 1 -19 1 10 1 19 1 21 1 -41 1 -25 1 5 1 21 1 21 1 -33 1 -41 1 3 1 34 1 11 1 -24 1 -39 1 11 1 44 1 18 1 -26 1 -35 1 20 1 34 1 10 1 -15 1 -34 1 15 1 34 1 22 1 -19 1 -21 1 7 1 38 1 19 1 -34 1 -38 1 2 1 47 1 5 1 -31 1 -43 1 15 1 33 1 26 1 -27 1 -37 1 14 1 30 1 9 1 -21 1 -27 1 -3 1 46 1 20 1 -29 1 -42 1 19 1 48 1 21 1 -31 1 -27 1 6 1 31 1 24 1 -27 1 -31 1 12 1 28 1 24 1 -25 1 -46 1 13 1 55 1 15 1 -47 1 -35 1 13 1 42 1 10 1 -39 1 -39 1 21 1 41 1 -1 1 -18 1 -17 1 3 1 40 1 16 1 -33 1 -40 1 10 1 25 1 0 1 -28 1 -35 1 6 1 46 1 19 1 -31 1 -18 1 9 1 2 1 6 1 -7 1 -33 1 5 1 32 1 24 1 -32 1 -30 1 9 1 30 1 16 1 -30 1 -34 1 7 1 44 1 26 1 -33 1 -38 1 19 1 45 1 16 1 -32 1 -17 1 15 1 30 1 22 1 -20 1 -18 1 5 1 20 1 7 1 -32 1 -30 1 5 1 33 1 5 1 -16 1 -21 1 15 1 35 1 16 1 -32 1 -49 1 16 1 68 1 30 1 -39 1 -29 1 17 1 32 1 5 1 -24 1 -46 1 8 1 29 1 11 1 -21 1 -21 1 9 1 45 1 20 1 -34 1 -31 1 -1 1 29 1 2 1 -19 1 -27 1 5 1 56 1 33 1 -49 1 -54 1 12 1 47 1 2 1 -29 1 -30 1 -9 1 45 1 13 1 -30 1 -32 1 7 1 46 1 24 1 -41 1 -49 1 18 1 52 1 14 1 -43 1 -31 1 7 1 41 1 12 1 -37 1 -37 1 3 1 45 1 9 1 -31 1 -43 1 8 1 69 1 11 1 -39 1 -28 1 9 1 26 1 8 1 -17 1 -40 1 4 1 52 1 22 1 -42 1 -25 1 12 1 35 1 7 1 -17 1 -33 1 10 1 39 1 9 1 -11 1 -24 1 7 1 32 1 26 1 -42 1 -30 1 -1 1 38 1 4 1 -27 1 -25 1 5 1 46 1 10 1 -30 1 -35 1 17 1 21 1 -3 1 -27 1 -36 1 -7 1 25 1 13 1 -31 1 -32 1 22 1 27 1 25 1 -18 1 -15 1 7 1 24 1 15 1 -32 1 -14 1 7 1 25 1 18 1 -21 1 -25 1 7 1 49 1 23 1 -37 1 -19 1 10 1 38 1 2 1 -17 1 -22 1 9 1 31 1 11 1 -28 1 -35 1 15 1 38 1 20 1 -23 1 -15 1 16 1 32 1 6 1 -30 1 -44 1 4 1 39 1 18 1 -29 1 -37 1 20 1 48 1 19 1 -34 1 -38 1 0 1 24 1 8 1 -41 1 -37 1 7 1 35 1 16 1 -28 1 -27 1 11 1 45 1 18 1 -27 1 -33 1 1 1 47 1 21 1 -50 1 -33 1 9 1 35 1 20 1 -33 1 -33 1 2 1 48 1 27 1 -51 1 -36 1 3 1 37 1 20 1 -50 1 -38 1 9 1 42 1 18 1 -42 1 -43 1 7 1 49 1 24 1 -59 1 -46 1 17 1 45 1 15 1 -42 1 -24 1 8 1 14 1 16 1 -24 1 -38 1 8 1 32 1 29 1 -24 1 -39 1 14 1 50 1 23 1 -26 1 -33 1 7 1 37 1 20 1 -30 1 -49 1 9 1 57 1 25 1 -43 1 -29 1 14 1 45 1 4 1 -44 1 -25 1 10 1 38 1 18 1 -21 1 -29 1 19 1 36 1 17 1 -32 1 -45 1 14 1 33 1 1 1 -22 1 -23 1 23 1 32 1 11 1 -22 1 -11 1 3 1 32 1 15 1 -44 1 -23 1 -5 1 41 1 7 1 -13 1 -34 1 5 1 72 1 21 1 -40 1 -48 1 12 1 57 1 22 1 -25 1 -28 1 5 1 39 1 16 1 -29 1 -36 1 -2 1 27 1 8 1 -36 1 -15 1 9 1 37 1 17 1 -28 1 -26 1 9 1 38 1 7 1 -35 1 -37 1 11 1 45 1 26 1 -33 1 -33 1 17 1 40 1 6 1 -29 1 -48 1 -1 1 52 1 8 1 -43 1 -48 1 19 1 51 1 19 1 -29 1 -43 1 19 1 52 1 30 1 -33 1 -57 1 15 1 63 1 -1 1 -28 1 -26 1 1 1 47 1 21 1 -35 1 -59 1 16 1 57 1 17 1 -53 1 -39 1 15 1 37 1 21 1 -28 1 -35 1 4 1 59 1 8 1 -60 1 -47 1 10 1 54 1 21 1 -36 1 -33 1 17 1 34 1 5 1 -35 1 -26 1 4 1 38 1 36 1 -30 1 -42 1 10 1 64 1 17 1 -54 1 -65 1 9 1 76 1 11 1 -36 1 -35 1 6 1 65 1 41 1 -48 1 -64 1 20 1 50 1 20 1 -34 1 -37 1 7 1 50 1 15 1 -54 1 -41 1 15 1 39 1 10 1 -16 1 -40 1 15 1 57 1 27 1 -48 1 -41 1 10 1 56 1 32 1 -43 1 -40 1 7 1 57 1 16 1 -43 1 -51 1 17 1 56 1 44 1 -23 1 -18 1 26 1 49 1 23 1 -67 1 -79 1 -8 1 54 1 8 1 -45 1 -36 1 22 1 66 1 38 1 -45 1 -64 1 14 1 46 1 2 1 -39 1 -36 1 17 1 57 1 19 1 -42 1 -58 1 0 1 65 1 21 1 -47 1 -46 1 14 1 73 1 41 1 -66 1 -47 1 14 1 24 1 6 1 -29 1 -36 1 4 1 55 1 23 1 -39 1 -56 1 14 1 46 1 21 1 -42 1 -52 1 15 1 60 1 29 1 -37 1 -43 1 14 1 45 1 10 1 -37 1 -43 1 16 1 41 1 18 1 -21 1 -29 1 4 1 64 1 35 1 -50 1 -54 1 28 1 56 1 22 1 -32 1 -46 1 7 1 36 1 21 1 -29 1 -37 1 20 1 40 1 18 1 -32 1 -46 1 11 1 32 1 17 1 -35 1 -27 1 9 1 40 1 17 1 -34 1 -26 1 3 1 25 1 12 1 -18 1 -17 1 1 1 32 1 14 1 -28 1 -31 1 -8 1 36 1 1 1 -28 1 -39 1 15 1 49 1 32 1 -27 1 -29 1 18 1 21 1 16 1 -22 1 -26 1 -5 1 59 1 22 1 -39 1 -33 1 4 1 11 1 -6 1 -2 1 -9 1 11 1 28 1 27 1 -15 1 -25 1 4 1 36 1 7 1 -35 1 -41 1 15 1 50 1 -1 1 -32 1 -36 1 -3 1 36 1 12 1 -42 1 -28 1 14 1 48 1 31 1 -29 1 -34 1 7 1 25 1 8 1 -44 1 -42 1 6 1 48 1 30 1 -34 1 -26 1 11 1 57 1 10 1 -35 1 -42 1 -4 1 61 1 22 1 -40 1 -42 1 13 1 40 1 17 1 -27 1 -30 1 8 1 38 1 19 1 -29 1 -33 1 3 1 40 1 20 1 -35 1 -58 1 8 1 52 1 22 1 -40 1 -44 1 23 1 45 1 26 1 -40 1 -54 1 16 1 51 1 32 1 -46 1 -51 1 21 1 50 1 7 1 -40 1 -42 1 13 1 48 1 15 1 -22 1 -44 1 28 1 47 1 17 1 -34 1 -42 1 6 1 42 1 6 1 -39 1 -38 1 -4 1 53 1 11 1 -34 1 -52 1 18 1 33 1 12 1 -27 1 -35 1 9 1 35 1 15 1 -33 1 -37 1 9 1 47 1 11 1 -17 1 -28 1 18 1 37 1 22 1 -17 1 -29 1 3 1 37 1 12 1 -27 1 -39 1 1 1 42 1 16 1 -28 1 -42 1 14 1 38 1 15 1 -21 1 -35 1 11 1 47 1 15 1 -36 1 -47 1 18 1 45 1 7 1 -22 1 -22 1 11 1 28 1 7 1 -19 1 -33 1 16 1 42 1 24 1 -28 1 -23 1 24 1 34 1 23 1 -41 1 -41 1 1 1 50 1 20 1 -36 1 -42 1 27 1 44 1 4 1 -25 1 -32 1 9 1 30 1 14 1 -16 1 -36 1 12 1 51 1 1 1 -40 1 -43 1 3 1 22 1 31 1 -40 1 -41 1 17 1 62 1 40 1 -50 1 -45 1 6 1 62 1 34 1 -55 1 -47 1 23 1 44 1 19 1 -42 1 -23 1 -3 1 54 1 38 1 -48 1 -53 1 12 1 51 1 17 1 -32 1 -53 1 14 1 47 1 30 1 -35 1 -44 1 21 1 46 1 17 1 -33 1 -57 1 2 1 47 1 14 1 -30 1 -25 1 14 1 39 1 20 1 -27 1 -40 1 -1 1 46 1 22 1 -42 1 -42 1 29 1 46 1 40 1 -32 1 -41 1 11 1 33 1 11 1 -33 1 -39 1 1 1 45 1 18 1 -4 1 -26 1 6 1 67 1 30 1 -65 1 -61 1 11 1 57 1 18 1 -26 1 -29 1 8 1 36 1 20 1 -43 1 -37 1 5 1 28 1 20 1 -30 1 -25 1 5 1 50 1 2 1 -26 1 -24 1 -4 1 22 1 7 1 -23 1 -35 1 5 1 56 1 19 1 -30 1 -35 1 7 1 34 1 -1 1 -14 1 -48 1 2 1 43 1 18 1 -33 1 -35 1 12 1 37 1 12 1 -25 1 -27 1 12 1 39 1 19 1 -25 1 -42 1 18 1 51 1 17 1 -43 1 -30 1 13 1 18 1 14 1 -26 1 -40 1 2 1 50 1 19 1 -53 1 -53 1 19 1 38 1 -6 1 -11 1 -23 1 5 1 33 1 21 1 -31 1 -46 1 7 1 52 1 31 1 -33 1 -42 1 19 1 54 1 17 1 -32 1 -44 1 4 1 44 1 17 1 -45 1 -27 1 10 1 36 1 28 1 -15 1 -35 1 13 1 48 1 15 1 -33 1 -47 1 18 1 36 1 3 1 -21 1 -34 1 7 1 44 1 17 1 -36 1 -33 1 4 1 41 1 25 1 -51 1 -27 1 9 1 34 1 9 1 -31 1 -33 1 4 1 44 1 24 1 -25 1 -36 1 12 1 47 1 20 1 -37 1 -32 1 -1 1 52 1 26 1 -42 1 -42 1 20 1 53 1 11 1 -22 1 -32 1 5 1 24 1 5 1 -17 1 -20 1 15 1 31 1 19 1 -17 1 -39 1 8 1 42 1 13 1 -34 1 -44 1 -1 1 36 1 22 1 -31 1 -45 1 14 1 42 1 0 1 -31 1 -39 1 -3 1 49 1 19 1 -33 1 -37 1 10 1 30 1 18 1 -24 1 -43 1 14 1 52 1 18 1 -35 1 -37 1 5 1 49 1 12 1 -36 1 -39 1 -2 1 47 1 16"/><path vector-effect="non-scaling-stroke" d="M0 1835l1 106 1 37 1 -43 1 -61 1 8 1 101 1 48 1 -59 1 -87 1 9 1 73 1 33 1 -51 1 -47 1 1 1 86 1 52 1 -58 1 -83 1 13 1 102 1 30 1 -61 1 -49 1 6 1 54 1 38 1 -41 1 -57 1 -5 1 108 1 42 1 -69 1 -104 1 16 1 96 1 27 1 -68 1 -92 1 13 1 83 1 50 1 -57 1 -62 1 19 1 68 1 32 1 -52 1 -102 1 5 1 79 1 35 1 -69 1 -97 1 20 1 118 1 81 1 -96 1 -134 1 28 1 126 1 35 1 -84 1 -55 1 5 1 70 1 50 1 -62 1 -79 1 14 1 94 1 36 1 -59 1 -93 1 15 1 120 1 71 1 -97 1 -126 1 28 1 121 1 46 1 -79 1 -95 1 5 1 113 1 59 1 -78 1 -120 1 12 1 129 1 46 1 -81 1 -104 1 15 1 131 1 62 1 -69 1 -109 1 25 1 132 1 63 1 -96 1 -116 1 19 1 102 1 63 1 -85 1 -114 1 18 1 139 1 59 1 -94 1 -90 1 25 1 97 1 53 1 -72 1 -98 1 9 1 111 1 46 1 -90 1 -93 1 8 1 115 1 45 1 -76 1 -89 1 11 1 105 1 52 1 -79 1 -95 1 13 1 107 1 48 1 -91 1 -96 1 0 1 97 1 50 1 -80 1 -99 1 18 1 118 1 61 1 -79 1 -99 1 15 1 128 1 66 1 -91 1 -99 1 28 1 93 1 41 1 -56 1 -84 1 9 1 80 1 31 1 -60 1 -58 1 21 1 74 1 41 1 -28 1 -84 1 5 1 106 1 30 1 -66 1 -70 1 15 1 67 1 39 1 -33 1 -72 1 7 1 89 1 36 1 -84 1 -103 1 5 1 85 1 49 1 -68 1 -100 1 23 1 131 1 69 1 -87 1 -109 1 26 1 90 1 25 1 -54 1 -66 1 6 1 64 1 35 1 -50 1 -86 1 6 1 101 1 55 1 -72 1 -88 1 19 1 89 1 33 1 -65 1 -92 1 -3 1 102 1 49 1 -70 1 -78 1 28 1 71 1 34 1 -44 1 -76 1 10 1 128 1 64 1 -99 1 -115 1 21 1 115 1 41 1 -74 1 -111 1 7 1 129 1 59 1 -93 1 -89 1 19 1 111 1 57 1 -73 1 -90 1 22 1 108 1 50 1 -62 1 -72 1 21 1 78 1 51 1 -60 1 -101 1 15 1 116 1 48 1 -77 1 -90 1 23 1 95 1 50 1 -68 1 -93 1 3 1 99 1 55 1 -78 1 -81 1 12 1 80 1 47 1 -54 1 -120 1 9 1 140 1 51 1 -92 1 -93 1 13 1 67 1 27 1 -51 1 -65 1 9 1 89 1 39 1 -49 1 -68 1 2 1 84 1 18 1 -69 1 -68 1 8 1 62 1 17 1 -45 1 -65 1 1 1 99 1 64 1 -82 1 -91 1 22 1 66 1 25 1 -35 1 -40 1 0 1 71 1 56 1 -68 1 -109 1 18 1 95 1 35 1 -49 1 -59 1 13 1 43 1 26 1 -29 1 -56 1 -2 1 80 1 56 1 -56 1 -90 1 25 1 115 1 50 1 -60 1 -75 1 12 1 61 1 26 1 -42 1 -61 1 10 1 74 1 56 1 -56 1 -144 1 13 1 131 1 42 1 -86 1 -87 1 25 1 79 1 41 1 -48 1 -84 1 20 1 97 1 46 1 -62 1 -75 1 19 1 45 1 40 1 -45 1 -78 1 5 1 99 1 71 1 -85 1 -89 1 17 1 91 1 47 1 -72 1 -99 1 9 1 127 1 57 1 -76 1 -96 1 14 1 118 1 63 1 -89 1 -142 1 12 1 149 1 48 1 -80 1 -69 1 9 1 75 1 31 1 -54 1 -90 1 1 1 95 1 39 1 -69 1 -94 1 13 1 114 1 58 1 -80 1 -105 1 19 1 93 1 41 1 -48 1 -82 1 19 1 107 1 48 1 -73 1 -81 1 -2 1 71 1 45 1 -61 1 -99 1 14 1 135 1 66 1 -91 1 -86 1 20 1 64 1 30 1 -57 1 -70 1 15 1 76 1 46 1 -42 1 -87 1 11 1 106 1 52 1 -91 1 -100 1 16 1 90 1 53 1 -69 1 -105 1 11 1 121 1 46 1 -78 1 -81 1 13 1 80 1 30 1 -48 1 -78 1 4 1 96 1 45 1 -68 1 -96 1 15 1 93 1 40 1 -72 1 -81 1 22 1 77 1 50 1 -47 1 -81 1 23 1 89 1 34 1 -59 1 -78 1 -1 1 74 1 47 1 -63 1 -105 1 18 1 115 1 42 1 -74 1 -109 1 -6 1 123 1 73 1 -105 1 -128 1 28 1 125 1 49 1 -59 1 -85 1 3 1 114 1 53 1 -101 1 -123 1 31 1 119 1 54 1 -60 1 -78 1 30 1 106 1 42 1 -72 1 -108 1 2 1 124 1 57 1 -80 1 -127 1 23 1 150 1 56 1 -86 1 -105 1 4 1 101 1 62 1 -77 1 -100 1 20 1 118 1 53 1 -83 1 -106 1 4 1 103 1 44 1 -87 1 -121 1 14 1 158 1 61 1 -86 1 -95 1 24 1 100 1 42 1 -69 1 -103 1 20 1 93 1 42 1 -57 1 -63 1 8 1 114 1 54 1 -79 1 -105 1 17 1 103 1 22 1 -50 1 -61 1 10 1 81 1 63 1 -75 1 -98 1 18 1 93 1 32 1 -61 1 -89 1 -4 1 108 1 62 1 -79 1 -67 1 15 1 58 1 31 1 -50 1 -70 1 -5 1 63 1 14 1 -47 1 -36 1 18 1 56 1 52 1 -44 1 -64 1 10 1 76 1 27 1 -55 1 -69 1 -6 1 93 1 36 1 -60 1 -52 1 16 1 55 1 33 1 -33 1 -68 1 -1 1 96 1 29 1 -56 1 -59 1 4 1 56 1 44 1 -51 1 -81 1 29 1 84 1 33 1 -60 1 -57 1 4 1 42 1 29 1 -43 1 -57 1 8 1 76 1 40 1 -46 1 -75 1 -4 1 98 1 43 1 -76 1 -97 1 18 1 114 1 63 1 -71 1 -107 1 26 1 100 1 28 1 -63 1 -82 1 14 1 75 1 46 1 -51 1 -83 1 14 1 98 1 52 1 -66 1 -95 1 3 1 121 1 46 1 -76 1 -106 1 21 1 103 1 70 1 -86 1 -138 1 34 1 143 1 67 1 -90 1 -75 1 20 1 88 1 44 1 -49 1 -92 1 6 1 110 1 52 1 -69 1 -101 1 9 1 102 1 43 1 -98 1 -114 1 11 1 114 1 54 1 -55 1 -86 1 15 1 121 1 61 1 -95 1 -126 1 7 1 116 1 47 1 -82 1 -90 1 27 1 85 1 24 1 -48 1 -102 1 2 1 105 1 61 1 -82 1 -94 1 27 1 95 1 47 1 -68 1 -84 1 -3 1 95 1 35 1 -64 1 -71 1 22 1 79 1 41 1 -61 1 -93 1 11 1 92 1 45 1 -62 1 -89 1 20 1 101 1 51 1 -55 1 -82 1 21 1 76 1 39 1 -56 1 -69 1 20 1 66 1 13 1 -30 1 -59 1 8 1 48 1 13 1 -38 1 -43 1 3 1 64 1 51 1 -56 1 -73 1 2 1 119 1 35 1 -55 1 -88 1 18 1 105 1 53 1 -90 1 -136 1 32 1 100 1 21 1 -39 1 -16 1 5 1 56 1 37 1 -57 1 -103 1 8 1 84 1 23 1 -60 1 -30 1 15 1 47 1 47 1 -42 1 -74 1 0 1 67 1 12 1 -45 1 -62 1 4 1 85 1 62 1 -61 1 -105 1 22 1 108 1 42 1 -69 1 -73 1 6 1 84 1 60 1 -59 1 -81 1 14 1 94 1 40 1 -69 1 -85 1 14 1 94 1 42 1 -52 1 -74 1 7 1 90 1 30 1 -70 1 -92 1 8 1 98 1 39 1 -58 1 -73 1 20 1 91 1 43 1 -73 1 -73 1 -1 1 66 1 42 1 -56 1 -85 1 18 1 109 1 46 1 -65 1 -84 1 2 1 87 1 45 1 -64 1 -79 1 11 1 85 1 42 1 -60 1 -82 1 11 1 79 1 51 1 -60 1 -78 1 14 1 103 1 36 1 -57 1 -89 1 4 1 102 1 37 1 -66 1 -100 1 25 1 91 1 46 1 -70 1 -75 1 1 1 88 1 47 1 -70 1 -91 1 8 1 105 1 36 1 -68 1 -89 1 15 1 90 1 59 1 -78 1 -94 1 21 1 96 1 49 1 -67 1 -107 1 4 1 138 1 76 1 -109 1 -103 1 32 1 90 1 39 1 -75 1 -76 1 8 1 108 1 51 1 -87 1 -105 1 26 1 109 1 51 1 -70 1 -107 1 19 1 108 1 57 1 -83 1 -101 1 9 1 110 1 60 1 -88 1 -113 1 21 1 141 1 67 1 -103 1 -98 1 22 1 79 1 27 1 -53 1 -59 1 0 1 108 1 75 1 -78 1 -137 1 21 1 144 1 54 1 -86 1 -102 1 21 1 93 1 61 1 -73 1 -112 1 22 1 122 1 36 1 -65 1 -73 1 18 1 97 1 61 1 -69 1 -117 1 30 1 106 1 38 1 -70 1 -78 1 8 1 81 1 43 1 -65 1 -65 1 29 1 51 1 19 1 -30 1 -83 1 9 1 104 1 43 1 -71 1 -81 1 11 1 81 1 40 1 -66 1 -90 1 8 1 96 1 23 1 -55 1 -45 1 2 1 47 1 22 1 -22 1 -36 1 19 1 35 1 14 1 -22 1 -52 1 0 1 71 1 50 1 -63 1 -79 1 26 1 71 1 38 1 -42 1 -79 1 4 1 90 1 51 1 -63 1 -44 1 20 1 57 1 19 1 -27 1 -28 1 -12 1 52 1 24 1 -51 1 -65 1 8 1 85 1 47 1 -58 1 -59 1 25 1 53 1 25 1 -35 1 -71 1 4 1 73 1 47 1 -65 1 -79 1 26 1 68 1 29 1 -48 1 -71 1 1 1 89 1 29 1 -52 1 -76 1 -6 1 82 1 46 1 -59 1 -106 1 22 1 119 1 53 1 -77 1 -82 1 19 1 73 1 38 1 -60 1 -77 1 5 1 89 1 60 1 -66 1 -112 1 25 1 131 1 55 1 -80 1 -110 1 11 1 116 1 62 1 -95 1 -135 1 16 1 134 1 50 1 -75 1 -93 1 14 1 114 1 73 1 -85 1 -117 1 19 1 106 1 47 1 -80 1 -89 1 25 1 99 1 64 1 -73 1 -116 1 20 1 95 1 50 1 -84 1 -113 1 9 1 129 1 80 1 -87 1 -125 1 29 1 130 1 47 1 -75 1 -92 1 6 1 106 1 66 1 -81 1 -117 1 19 1 129 1 33 1 -91 1 -98 1 16 1 95 1 56 1 -63 1 -99 1 11 1 127 1 59 1 -99 1 -123 1 22 1 131 1 64 1 -78 1 -110 1 33 1 113 1 58 1 -87 1 -104 1 9 1 79 1 34 1 -52 1 -76 1 13 1 110 1 64 1 -86 1 -109 1 10 1 88 1 39 1 -61 1 -83 1 18 1 109 1 51 1 -59 1 -96 1 13 1 93 1 53 1 -76 1 -104 1 28 1 101 1 26 1 -61 1 -47 1 3 1 81 1 81 1 -93 1 -141 1 36 1 137 1 37 1 -71 1 -58 1 -7 1 69 1 54 1 -61 1 -107 1 26 1 127 1 48 1 -57 1 -103 1 4 1 109 1 52 1 -88 1 -124 1 29 1 117 1 61 1 -70 1 -87 1 12 1 99 1 44 1 -80 1 -101 1 9 1 102 1 49 1 -76 1 -92 1 30 1 78 1 29 1 -53 1 -51 1 1 1 105 1 50 1 -80 1 -109 1 11 1 116 1 38 1 -90 1 -86 1 8 1 55 1 53 1 -55 1 -75 1 5 1 110 1 57 1 -88 1 -93 1 28 1 83 1 37 1 -49 1 -84 1 14 1 88 1 51 1 -74 1 -110 1 20"/><path vector-effect="non-scaling-stroke" d="M0 2029l1 121 1 16 1 -109 1 -57 1 53 1 84 1 6 1 -79 1 -64 1 38 1 119 1 21 1 -93 1 -61 1 58 1 116 1 16 1 -120 1 -73 1 47 1 89 1 10 1 -73 1 -51 1 30 1 117 1 12 1 -118 1 -72 1 62 1 98 1 14 1 -95 1 -86 1 62 1 119 1 13 1 -121 1 -75 1 51 1 84 1 22 1 -80 1 -67 1 63 1 117 1 6 1 -104 1 -75 1 49 1 83 1 8 1 -90 1 -61 1 58 1 65 1 9 1 -62 1 -53 1 35 1 91 1 15 1 -91 1 -57 1 53 1 91 1 14 1 -79 1 -66 1 46 1 102 1 3 1 -100 1 -54 1 47 1 68 1 13 1 -48 1 -29 1 34 1 70 1 10 1 -83 1 -62 1 42 1 76 1 -4 1 -77 1 -51 1 43 1 57 1 14 1 -46 1 -41 1 25 1 98 1 0 1 -93 1 -45 1 23 1 76 1 5 1 -61 1 -31 1 39 1 57 1 7 1 -52 1 -31 1 18 1 47 1 12 1 -63 1 -55 1 49 1 83 1 -3 1 -71 1 -25 1 21 1 26 1 6 1 -39 1 -36 1 30 1 91 1 15 1 -67 1 -48 1 41 1 50 1 -8 1 -66 1 -53 1 27 1 60 1 21 1 -58 1 -35 1 44 1 74 1 9 1 -80 1 -53 1 23 1 59 1 -1 1 -44 1 -24 1 25 1 67 1 16 1 -61 1 -57 1 32 1 80 1 5 1 -66 1 -40 1 23 1 66 1 18 1 -57 1 -45 1 34 1 73 1 19 1 -78 1 -72 1 53 1 98 1 3 1 -71 1 -27 1 31 1 44 1 4 1 -53 1 -39 1 40 1 87 1 15 1 -87 1 -41 1 43 1 58 1 -4 1 -59 1 -49 1 27 1 55 1 -6 1 -49 1 -30 1 27 1 58 1 12 1 -72 1 -59 1 37 1 86 1 -2 1 -67 1 -42 1 36 1 71 1 4 1 -59 1 -56 1 31 1 55 1 4 1 -56 1 -42 1 37 1 96 1 28 1 -93 1 -45 1 27 1 71 1 3 1 -74 1 -39 1 18 1 67 1 12 1 -51 1 -39 1 36 1 66 1 2 1 -72 1 -50 1 36 1 68 1 1 1 -37 1 -34 1 17 1 44 1 -2 1 -47 1 -64 1 30 1 89 1 22 1 -69 1 -58 1 58 1 96 1 12 1 -71 1 -54 1 38 1 52 1 0 1 -50 1 -37 1 33 1 70 1 7 1 -69 1 -57 1 37 1 70 1 7 1 -74 1 -61 1 48 1 90 1 22 1 -83 1 -43 1 36 1 66 1 8 1 -80 1 -52 1 38 1 57 1 -2 1 -55 1 -40 1 27 1 66 1 21 1 -71 1 -54 1 52 1 88 1 -8 1 -70 1 -41 1 30 1 70 1 11 1 -71 1 -53 1 36 1 93 1 11 1 -94 1 -42 1 22 1 64 1 11 1 -74 1 -64 1 30 1 89 1 9 1 -81 1 -46 1 38 1 46 1 13 1 -26 1 -28 1 25 1 71 1 5 1 -71 1 -57 1 39 1 67 1 4 1 -62 1 -61 1 54 1 78 1 10 1 -72 1 -38 1 37 1 54 1 9 1 -35 1 -43 1 24 1 117 1 16 1 -101 1 -48 1 33 1 29 1 -3 1 -37 1 -37 1 26 1 86 1 24 1 -80 1 -32 1 30 1 42 1 -2 1 -59 1 -49 1 12 1 49 1 -4 1 -36 1 -19 1 15 1 24 1 19 1 -58 1 -63 1 32 1 82 1 6 1 -68 1 -31 1 33 1 68 1 5 1 -53 1 -43 1 40 1 41 1 0 1 -42 1 -35 1 29 1 71 1 13 1 -55 1 -34 1 31 1 51 1 -4 1 -44 1 -47 1 33 1 70 1 20 1 -84 1 -41 1 53 1 100 1 20 1 -89 1 -35 1 34 1 68 1 5 1 -70 1 -73 1 34 1 93 1 3 1 -90 1 -55 1 43 1 78 1 1 1 -63 1 -39 1 17 1 72 1 1 1 -72 1 -47 1 32 1 79 1 6 1 -80 1 -81 1 43 1 109 1 8 1 -115 1 -74 1 55 1 74 1 16 1 -76 1 -68 1 49 1 104 1 10 1 -86 1 -53 1 40 1 78 1 4 1 -88 1 -75 1 57 1 110 1 12 1 -88 1 -44 1 47 1 68 1 12 1 -76 1 -59 1 37 1 100 1 19 1 -87 1 -69 1 60 1 127 1 12 1 -115 1 -87 1 57 1 111 1 6 1 -113 1 -61 1 54 1 84 1 9 1 -68 1 -47 1 40 1 78 1 15 1 -84 1 -72 1 51 1 87 1 7 1 -75 1 -38 1 41 1 67 1 10 1 -68 1 -57 1 45 1 102 1 4 1 -85 1 -55 1 51 1 91 1 13 1 -100 1 -70 1 56 1 83 1 -1 1 -79 1 -52 1 38 1 81 1 9 1 -81 1 -62 1 54 1 96 1 3 1 -75 1 -67 1 37 1 103 1 9 1 -101 1 -70 1 45 1 94 1 9 1 -82 1 -45 1 33 1 84 1 11 1 -72 1 -69 1 37 1 117 1 0 1 -95 1 -64 1 52 1 85 1 21 1 -77 1 -74 1 66 1 103 1 -1 1 -84 1 -56 1 41 1 56 1 12 1 -64 1 -69 1 51 1 93 1 16 1 -84 1 -74 1 55 1 101 1 -3 1 -95 1 -81 1 46 1 96 1 15 1 -84 1 -71 1 52 1 105 1 16 1 -86 1 -64 1 49 1 91 1 7 1 -82 1 -68 1 49 1 123 1 13 1 -111 1 -63 1 39 1 94 1 8 1 -86 1 -70 1 54 1 120 1 18 1 -93 1 -62 1 56 1 81 1 3 1 -67 1 -57 1 31 1 98 1 11 1 -95 1 -69 1 49 1 83 1 9 1 -81 1 -54 1 47 1 78 1 7 1 -65 1 -48 1 32 1 83 1 12 1 -102 1 -65 1 59 1 94 1 9 1 -77 1 -36 1 26 1 64 1 6 1 -73 1 -56 1 43 1 75 1 4 1 -63 1 -50 1 46 1 71 1 9 1 -73 1 -53 1 46 1 74 1 15 1 -65 1 -66 1 47 1 77 1 3 1 -80 1 -50 1 37 1 59 1 13 1 -66 1 -50 1 56 1 82 1 8 1 -58 1 -52 1 34 1 66 1 15 1 -89 1 -54 1 51 1 73 1 7 1 -57 1 -30 1 37 1 92 1 13 1 -64 1 -32 1 23 1 45 1 11 1 -69 1 -56 1 39 1 85 1 8 1 -77 1 -55 1 30 1 69 1 -8 1 -79 1 -49 1 33 1 73 1 16 1 -70 1 -34 1 44 1 88 1 12 1 -91 1 -68 1 46 1 92 1 -8 1 -81 1 -58 1 30 1 89 1 12 1 -102 1 -65 1 51 1 82 1 17 1 -66 1 -52 1 39 1 98 1 20 1 -108 1 -62 1 48 1 78 1 5 1 -74 1 -51 1 36 1 95 1 3 1 -78 1 -42 1 39 1 60 1 3 1 -61 1 -46 1 41 1 82 1 1 1 -79 1 -52 1 27 1 80 1 15 1 -85 1 -57 1 70 1 91 1 3 1 -65 1 -50 1 32 1 84 1 22 1 -99 1 -71 1 65 1 80 1 2 1 -47 1 -32 1 19 1 47 1 14 1 -48 1 -40 1 26 1 63 1 6 1 -74 1 -52 1 33 1 83 1 5 1 -61 1 -31 1 26 1 68 1 12 1 -71 1 -69 1 34 1 90 1 7 1 -79 1 -34 1 29 1 45 1 11 1 -48 1 -36 1 20 1 51 1 12 1 -58 1 -55 1 46 1 78 1 -1 1 -62 1 -35 1 31 1 48 1 16 1 -49 1 -44 1 42 1 65 1 7 1 -60 1 -26 1 27 1 27 1 2 1 -29 1 -19 1 11 1 46 1 17 1 -50 1 -55 1 33 1 76 1 11 1 -89 1 -62 1 56 1 74 1 14 1 -67 1 -53 1 35 1 79 1 13 1 -78 1 -58 1 47 1 82 1 5 1 -89 1 -50 1 44 1 77 1 18 1 -85 1 -53 1 50 1 94 1 0 1 -80 1 -60 1 38 1 56 1 -1 1 -54 1 -55 1 42 1 83 1 14 1 -74 1 -49 1 41 1 62 1 -7 1 -47 1 -39 1 38 1 55 1 9 1 -65 1 -59 1 31 1 71 1 9 1 -87 1 -63 1 59 1 103 1 22 1 -81 1 -80 1 70 1 101 1 4 1 -89 1 -44 1 41 1 61 1 22 1 -72 1 -70 1 40 1 92 1 0 1 -88 1 -45 1 38 1 79 1 14 1 -80 1 -55 1 39 1 95 1 6 1 -92 1 -62 1 49 1 80 1 0 1 -80 1 -41 1 32 1 56 1 -4 1 -39 1 -22 1 12 1 66 1 6 1 -54 1 -52 1 35 1 72 1 -7 1 -54 1 -35 1 23 1 55 1 22 1 -54 1 -56 1 46 1 97 1 11 1 -77 1 -36 1 49 1 53 1 -3 1 -36 1 -40 1 18 1 67 1 3 1 -84 1 -64 1 44 1 83 1 12 1 -53 1 -42 1 43 1 72 1 -4 1 -61 1 -56 1 23 1 60 1 8 1 -70 1 -43 1 44 1 73 1 -5 1 -41 1 -35 1 6 1 63 1 -3 1 -51 1 -50 1 55 1 56 1 5 1 -46 1 -49 1 40 1 72 1 21 1 -80 1 -49 1 43 1 59 1 0 1 -32 1 -36 1 12 1 56 1 13 1 -67 1 -69 1 51 1 83 1 5 1 -78 1 -67 1 42 1 97 1 -3 1 -104 1 -55 1 32 1 61 1 -1 1 -69 1 -57 1 45 1 98 1 21 1 -74 1 -49 1 40 1 74 1 17 1 -85 1 -77 1 44 1 104 1 13 1 -78 1 -63 1 55 1 105 1 14 1 -88 1 -43 1 49 1 56 1 12 1 -56 1 -36 1 32 1 76 1 26 1 -84 1 -79 1 47 1 118 1 7 1 -113 1 -68 1 53 1 76 1 3 1 -53 1 -54 1 34 1 89 1 13 1 -95 1 -46 1 41 1 71 1 8 1 -85 1 -68 1 41 1 114 1 -6 1 -97 1 -66 1 58 1 101 1 4 1 -83 1 -67 1 51 1 98 1 15 1 -95 1 -77 1 57 1 98 1 -10 1 -81 1 -39 1 31 1 35 1 4 1 -46 1 -54 1 49 1 123 1 15 1 -100 1 -55 1 52 1 68 1 -9 1 -85 1 -59 1 42 1 69 1 12 1 -46 1 -42 1 51 1 87 1 17 1 -94 1 -81 1 55 1 91 1 4 1 -88 1 -64 1 54 1 96 1 3 1 -66 1 -52 1 37 1 55 1 14 1 -62 1 -69 1 40 1 96 1 -2 1 -77 1 -29 1 32 1 39 1 3 1 -50 1 -73 1 52 1 104 1 5 1 -105 1 -38 1 29 1 47 1 13 1 -47 1 -51 1 50 1 106 1 11 1 -75 1 -64 1 41 1 58 1 10 1 -87 1 -48 1 44 1 95 1 11 1 -79 1 -56 1 49 1 77 1 -10 1 -55 1 -42 1 21 1 50 1 13 1 -53 1 -43 1 39 1 73 1 3 1 -47 1 -28 1 28 1 27 1 14 1 -38 1 -32 1 16 1 59 1 15 1 -65 1 -52 1 32 1 79 1 0 1 -95 1 -71 1 50 1 68 1 13 1 -56 1 -46 1 40 1 98 1 13 1 -92 1 -67 1 43 1 56 1 -8 1 -57 1 -40 1 36 1 83 1 22 1 -72 1 -26 1 40 1 45 1 10 1 -42 1 -48 1 33 1 83 1 3 1 -75 1 -56 1 32 1 88 1 3 1 -81 1 -53 1 56 1 76 1 8 1 -61 1 -39 1 31 1 55 1 14 1 -91 1 -70 1 55 1 94 1 14 1 -80 1 -82 1 59 1 98 1 -1 1 -112 1 -81 1 53 1 105 1 11 1 -79 1 -45 1 47 1 80 1 2 1 -79 1 -77 1 40"/><path vector-effect="non-scaling-stroke" d="M0 2300l1 -64 1 -27 1 63 1 70 1 -44 1 -85 1 -14 1 61 1 34 1 -18 1 -46 1 -20 1 45 1 68 1 -25 1 -73 1 6 1 49 1 45 1 -18 1 -30 1 -11 1 27 1 38 1 -22 1 -54 1 -7 1 52 1 44 1 -6 1 -43 1 -9 1 42 1 40 1 -29 1 -43 1 -12 1 26 1 44 1 -19 1 -51 1 -9 1 30 1 29 1 -15 1 -56 1 -19 1 37 1 34 1 -26 1 -48 1 -17 1 46 1 28 1 -16 1 -29 1 -14 1 45 1 44 1 -7 1 -58 1 6 1 31 1 13 1 -17 1 -29 1 -12 1 32 1 50 1 -23 1 -32 1 -11 1 50 1 40 1 -19 1 -43 1 -12 1 34 1 34 1 -13 1 -47 1 -8 1 38 1 14 1 -16 1 -34 1 -20 1 32 1 35 1 -9 1 -77 1 -7 1 57 1 36 1 -17 1 -33 1 1 1 10 1 29 1 -6 1 -45 1 -18 1 36 1 45 1 -13 1 -67 1 -16 1 58 1 45 1 -14 1 -62 1 -11 1 44 1 27 1 -16 1 -56 1 -8 1 42 1 41 1 -15 1 -39 1 -3 1 33 1 45 1 -23 1 -62 1 -9 1 41 1 44 1 -28 1 -34 1 -7 1 30 1 44 1 -21 1 -53 1 -22 1 54 1 42 1 -25 1 -53 1 -14 1 38 1 63 1 -27 1 -62 1 -4 1 54 1 44 1 -17 1 -41 1 -12 1 43 1 49 1 -30 1 -72 1 2 1 29 1 41 1 -5 1 -41 1 -17 1 50 1 40 1 -21 1 -70 1 -22 1 44 1 51 1 -16 1 -71 1 -1 1 56 1 48 1 -32 1 -54 1 -23 1 44 1 32 1 -15 1 -44 1 -9 1 47 1 50 1 -20 1 -74 1 -13 1 47 1 55 1 -27 1 -38 1 -14 1 33 1 49 1 -20 1 -64 1 -37 1 61 1 59 1 -31 1 -68 1 -15 1 50 1 39 1 -19 1 -51 1 -20 1 50 1 38 1 -25 1 -69 1 -29 1 62 1 49 1 -38 1 -68 1 -13 1 36 1 52 1 -23 1 -53 1 -2 1 48 1 51 1 -15 1 -67 1 -27 1 60 1 81 1 -37 1 -93 1 7 1 53 1 29 1 -6 1 -38 1 -23 1 57 1 67 1 -12 1 -68 1 -11 1 46 1 41 1 -20 1 -38 1 -21 1 32 1 36 1 -15 1 -35 1 -13 1 52 1 42 1 -16 1 -76 1 -16 1 61 1 50 1 -23 1 -57 1 -22 1 40 1 47 1 -23 1 -61 1 -20 1 53 1 37 1 -20 1 -31 1 -16 1 35 1 21 1 -13 1 -47 1 -18 1 38 1 16 1 -6 1 -40 1 -8 1 43 1 56 1 -22 1 -53 1 2 1 40 1 32 1 -8 1 -21 1 -10 1 23 1 23 1 -23 1 -44 1 -22 1 22 1 38 1 -24 1 -48 1 0 1 45 1 30 1 -24 1 -26 1 -30 1 16 1 31 1 -30 1 -35 1 -9 1 41 1 32 1 -7 1 -37 1 -2 1 14 1 24 1 5 1 -35 1 0 1 30 1 33 1 -14 1 -42 1 -10 1 40 1 28 1 -9 1 -30 1 -9 1 29 1 33 1 -16 1 -41 1 -18 1 32 1 48 1 -18 1 -54 1 0 1 49 1 45 1 -19 1 -67 1 -21 1 45 1 47 1 -23 1 -52 1 -11 1 32 1 39 1 -26 1 -73 1 -25 1 53 1 51 1 -33 1 -52 1 -3 1 50 1 45 1 -14 1 -59 1 -15 1 30 1 32 1 -4 1 -58 1 -19 1 74 1 72 1 -23 1 -88 1 -20 1 53 1 43 1 -25 1 -54 1 1 1 55 1 60 1 -26 1 -51 1 -13 1 44 1 58 1 -27 1 -97 1 -15 1 67 1 67 1 -20 1 -76 1 -18 1 53 1 59 1 -40 1 -70 1 -18 1 63 1 63 1 -9 1 -68 1 -19 1 63 1 48 1 -37 1 -74 1 -30 1 57 1 82 1 -29 1 -88 1 -15 1 76 1 53 1 -22 1 -78 1 -29 1 64 1 31 1 -12 1 -58 1 -19 1 51 1 32 1 -7 1 -54 1 -16 1 51 1 40 1 -25 1 -50 1 -17 1 36 1 37 1 -27 1 -79 1 -28 1 62 1 73 1 -38 1 -73 1 -4 1 56 1 61 1 -32 1 -76 1 -29 1 52 1 45 1 -29 1 -56 1 -19 1 54 1 53 1 -24 1 -62 1 -17 1 58 1 40 1 -16 1 -55 1 -20 1 45 1 47 1 -22 1 -73 1 -19 1 44 1 46 1 -18 1 -67 1 -12 1 57 1 47 1 -16 1 -71 1 -24 1 48 1 42 1 -29 1 -68 1 -14 1 57 1 45 1 -16 1 -62 1 -8 1 51 1 46 1 -14 1 -51 1 -26 1 52 1 70 1 -23 1 -75 1 -20 1 69 1 53 1 -16 1 -78 1 -20 1 51 1 57 1 -32 1 -68 1 -16 1 46 1 52 1 -16 1 -76 1 -29 1 93 1 52 1 -28 1 -54 1 -14 1 59 1 54 1 -15 1 -87 1 -12 1 80 1 50 1 -28 1 -69 1 -17 1 30 1 53 1 -27 1 -82 1 -19 1 74 1 68 1 -17 1 -56 1 -21 1 50 1 53 1 -40 1 -69 1 -23 1 38 1 51 1 -11 1 -67 1 -24 1 70 1 44 1 -24 1 -55 1 -5 1 35 1 40 1 -14 1 -49 1 -25 1 70 1 59 1 -38 1 -55 1 -16 1 47 1 41 1 -16 1 -57 1 -17 1 66 1 74 1 -30 1 -50 1 -15 1 46 1 42 1 -19 1 -73 1 -22 1 46 1 34 1 -20 1 -58 1 -10 1 46 1 42 1 -11 1 -39 1 -12 1 52 1 31 1 -18 1 -46 1 -20 1 33 1 31 1 -16 1 -70 1 -17 1 67 1 45 1 -7 1 -65 1 -1 1 43 1 36 1 -10 1 -71 1 -9 1 28 1 42 1 -16 1 -52 1 -9 1 35 1 49 1 -14 1 -54 1 -19 1 37 1 46 1 -14 1 -58 1 -12 1 47 1 27 1 -9 1 -43 1 -16 1 44 1 39 1 -23 1 -69 1 -21 1 53 1 44 1 -20 1 -65 1 -20 1 60 1 47 1 -20 1 -70 1 -17 1 45 1 49 1 -12 1 -59 1 -4 1 54 1 55 1 -14 1 -56 1 -19 1 48 1 61 1 -23 1 -69 1 -19 1 60 1 42 1 -15 1 -62 1 -17 1 79 1 56 1 -21 1 -46 1 -6 1 51 1 45 1 -20 1 -66 1 -36 1 62 1 53 1 -27 1 -69 1 -11 1 47 1 44 1 -16 1 -76 1 -19 1 59 1 50 1 -21 1 -58 1 -17 1 55 1 45 1 -22 1 -84 1 -37 1 56 1 44 1 -24 1 -53 1 -14 1 47 1 61 1 -14 1 -92 1 -17 1 49 1 41 1 -28 1 -60 1 1 1 43 1 50 1 -15 1 -54 1 -33 1 44 1 46 1 -34 1 -59 1 -10 1 55 1 50 1 -11 1 -33 1 -10 1 38 1 57 1 -35 1 -84 1 -20 1 54 1 49 1 -26 1 -51 1 -8 1 38 1 32 1 -6 1 -44 1 -11 1 46 1 31 1 -13 1 -45 1 -13 1 45 1 34 1 -16 1 -38 1 -22 1 64 1 48 1 -23 1 -60 1 -15 1 35 1 28 1 -26 1 -66 1 -17 1 69 1 59 1 -28 1 -34 1 -10 1 23 1 21 1 -12 1 -83 1 -42 1 74 1 54 1 -32 1 -48 1 -7 1 41 1 43 1 -15 1 -69 1 -19 1 61 1 41 1 -16 1 -44 1 -16 1 40 1 60 1 -27 1 -69 1 -19 1 72 1 57 1 -15 1 -42 1 -18 1 40 1 36 1 -27 1 -54 1 -3 1 44 1 51 1 -22 1 -42 1 -26 1 43 1 50 1 -27 1 -57 1 -28 1 59 1 47 1 -22 1 -57 1 -22 1 44 1 60 1 -27 1 -78 1 -24 1 75 1 76 1 -36 1 -76 1 -11 1 46 1 37 1 -28 1 -72 1 -4 1 57 1 41 1 -13 1 -46 1 -23 1 60 1 51 1 -24 1 -71 1 -16 1 62 1 34 1 -5 1 -43 1 -27 1 46 1 66 1 -38 1 -97 1 -9 1 59 1 36 1 -4 1 -25 1 -5 1 29 1 42 1 -26 1 -70 1 -25 1 41 1 33 1 -24 1 -43 1 -19 1 44 1 42 1 -23 1 -74 1 -21 1 50 1 53 1 -24 1 -47 1 -10 1 33 1 29 1 -19 1 -47 1 -24 1 50 1 55 1 -10 1 -64 1 -7 1 66 1 48 1 -31 1 -39 1 -5 1 22 1 36 1 -15 1 -60 1 -14 1 48 1 37 1 -18 1 -64 1 -12 1 38 1 32 1 -6 1 -62 1 -3 1 48 1 28 1 -9 1 -40 1 -10 1 23 1 38 1 -15 1 -51 1 -14 1 39 1 23 1 -21 1 -26 1 -5 1 41 1 45 1 -6 1 -55 1 -10 1 45 1 29 1 -25 1 -63 1 -14 1 41 1 50 1 -1 1 -53 1 -5 1 45 1 40 1 -19 1 -55 1 -22 1 38 1 39 1 -15 1 -39 1 -5 1 46 1 34 1 -5 1 -51 1 -19 1 43 1 37 1 -16 1 -60 1 -10 1 47 1 29 1 -9 1 -31 1 -7 1 20 1 27 1 4 1 -55 1 -22 1 48 1 48 1 -31 1 -52 1 -32 1 31 1 42 1 -20 1 -45 1 -23 1 64 1 39 1 -21 1 -40 1 0 1 21 1 30 1 -13 1 -53 1 -5 1 29 1 36 1 -23 1 -51 1 -17 1 40 1 53 1 -19 1 -68 1 -17 1 51 1 54 1 -28 1 -65 1 -8 1 44 1 35 1 -16 1 -25 1 -10 1 39 1 42 1 -12 1 -60 1 -25 1 43 1 30 1 -15 1 -45 1 -1 1 63 1 48 1 -12 1 -50 1 -16 1 44 1 35 1 -9 1 -64 1 -20 1 53 1 50 1 -28 1 -75 1 -13 1 35 1 26 1 -9 1 -26 1 -15 1 45 1 49 1 -12 1 -45 1 -21 1 37 1 37 1 -35 1 -61 1 -31 1 60 1 69 1 -37 1 -71 1 -9 1 40 1 28 1 -20 1 -40 1 -4 1 32 1 40 1 -13 1 -35 1 -10 1 31 1 38 1 -15 1 -64 1 -8 1 50 1 40 1 -20 1 -31 1 -1 1 19 1 17 1 -15 1 -36 1 -20 1 53 1 56 1 -21 1 -68 1 -9 1 50 1 63 1 -31 1 -77 1 -6 1 57 1 29 1 -22 1 -12 1 -15 1 41 1 38 1 -18 1 -37 1 -18 1 41 1 45 1 -30 1 -43 1 -5 1 27 1 32 1 -11 1 -47 1 -22 1 33 1 37 1 -20 1 -50 1 -9 1 31 1 27 1 -13 1 -46 1 -20 1 41 1 48 1 -21 1 -59 1 -7 1 39 1 27 1 -8 1 -39 1 -8 1 37 1 33 1 -12 1 -41 1 -12 1 47 1 47 1 -24 1 -35 1 -15 1 43 1 45 1 -28 1 -57 1 -20 1 47 1 39 1 -19 1 -54 1 -18 1 44 1 37 1 -20 1 -43 1 -24 1 48 1 40 1 -22 1 -48 1 -14 1 66 1 48 1 -20 1 -55 1 -21 1 36 1 37 1 -23 1 -70 1 -22 1 51 1 37 1 -16 1 -46 1 -16 1 53 1 50 1 -15 1 -65 1 -23 1 71 1 60 1 -32 1 -62 1 -18 1 31 1 40 1 -21 1 -59 1 -9 1 62 1 54 1 -16 1 -59 1 -19 1 62 1 65 1 -44 1 -92 1 -17 1 66 1 64 1 -17 1 -65 1 -22 1 71 1 62 1 -31 1 -87 1 -10 1 45 1 37 1 -8 1 -64 1 -10 1 49 1 62 1 -21 1 -69 1 -14 1 53 1 56 1 -26 1 -76 1 -31 1 64 1 58 1 -41 1 -75 1 -20 1 62 1 53 1 -22 1 -57 1 -6 1 50 1 38 1 -12 1 -70 1 -29 1 60 1 50 1 -24 1 -58 1 -10 1 43 1 36 1 -10"/><path vector-effect="non-scaling-stroke" d="M0 2432l1 61 1 -10 1 -67 1 -26 1 69 1 45 1 -7 1 -67 1 -29 1 52 1 45 1 -17 1 -48 1 -22 1 52 1 61 1 -11 1 -67 1 -32 1 68 1 42 1 -14 1 -53 1 -20 1 47 1 61 1 -17 1 -81 1 -21 1 57 1 56 1 -16 1 -76 1 -27 1 77 1 76 1 -23 1 -81 1 -12 1 38 1 28 1 -9 1 -58 1 -52 1 56 1 96 1 -24 1 -121 1 -26 1 81 1 51 1 -25 1 -65 1 -41 1 48 1 67 1 -26 1 -100 1 -31 1 71 1 64 1 -22 1 -72 1 -7 1 49 1 78 1 -20 1 -92 1 -37 1 83 1 82 1 -33 1 -100 1 -36 1 78 1 77 1 -12 1 -76 1 -9 1 70 1 69 1 -11 1 -87 1 -52 1 84 1 94 1 -40 1 -120 1 -29 1 83 1 71 1 -23 1 -88 1 -42 1 83 1 81 1 -40 1 -71 1 -24 1 47 1 46 1 -12 1 -69 1 -45 1 91 1 108 1 -31 1 -135 1 -52 1 104 1 78 1 -35 1 -104 1 -24 1 67 1 50 1 -10 1 -60 1 -34 1 77 1 78 1 -23 1 -84 1 -37 1 63 1 75 1 -28 1 -91 1 -21 1 80 1 70 1 -28 1 -52 1 -44 1 66 1 56 1 -25 1 -99 1 -40 1 72 1 55 1 -13 1 -63 1 -13 1 47 1 56 1 -17 1 -59 1 -33 1 42 1 51 1 -25 1 -81 1 -20 1 58 1 62 1 -27 1 -40 1 -14 1 27 1 56 1 -17 1 -87 1 -37 1 81 1 70 1 -14 1 -62 1 -4 1 42 1 45 1 -15 1 -37 1 -14 1 43 1 48 1 -19 1 -66 1 -17 1 44 1 36 1 -13 1 -53 1 -21 1 43 1 58 1 -21 1 -59 1 -23 1 56 1 62 1 -28 1 -76 1 -42 1 55 1 74 1 -40 1 -71 1 -12 1 52 1 45 1 -17 1 -48 1 -30 1 39 1 62 1 -27 1 -87 1 -29 1 54 1 38 1 -33 1 -41 1 -14 1 42 1 51 1 -3 1 -69 1 -17 1 68 1 70 1 -20 1 -79 1 -26 1 65 1 89 1 -24 1 -110 1 -51 1 85 1 56 1 -21 1 -71 1 -29 1 72 1 57 1 -9 1 -69 1 -25 1 63 1 68 1 -22 1 -96 1 -32 1 70 1 86 1 -24 1 -118 1 -21 1 83 1 74 1 -15 1 -85 1 -37 1 77 1 92 1 -25 1 -79 1 -18 1 57 1 52 1 -13 1 -78 1 -22 1 72 1 77 1 -23 1 -81 1 -22 1 55 1 63 1 -26 1 -90 1 -59 1 79 1 103 1 -27 1 -118 1 -20 1 70 1 54 1 -21 1 -77 1 -33 1 46 1 73 1 -33 1 -77 1 -31 1 74 1 60 1 -21 1 -85 1 -42 1 77 1 58 1 -27 1 -72 1 -23 1 56 1 66 1 -22 1 -72 1 -28 1 65 1 69 1 -25 1 -78 1 -17 1 50 1 43 1 -16 1 -55 1 -34 1 47 1 68 1 -21 1 -64 1 -20 1 57 1 65 1 -9 1 -73 1 -23 1 45 1 51 1 -16 1 -60 1 -23 1 45 1 51 1 -19 1 -58 1 -18 1 54 1 54 1 -10 1 -81 1 -41 1 65 1 84 1 -19 1 -89 1 -14 1 60 1 45 1 -2 1 -65 1 -31 1 58 1 65 1 -35 1 -106 1 -37 1 59 1 68 1 -25 1 -75 1 -34 1 74 1 78 1 -15 1 -68 1 -28 1 58 1 67 1 -18 1 -82 1 -19 1 54 1 55 1 -16 1 -59 1 -26 1 39 1 72 1 -14 1 -96 1 -34 1 81 1 83 1 -29 1 -86 1 -39 1 66 1 92 1 -31 1 -98 1 -31 1 80 1 82 1 -20 1 -69 1 -35 1 56 1 75 1 -32 1 -105 1 -38 1 68 1 74 1 -21 1 -79 1 -23 1 67 1 71 1 -21 1 -94 1 -36 1 71 1 75 1 -17 1 -100 1 -40 1 80 1 63 1 -19 1 -70 1 -44 1 61 1 79 1 -29 1 -119 1 -41 1 84 1 73 1 -25 1 -55 1 -8 1 62 1 78 1 -16 1 -99 1 -50 1 69 1 81 1 -29 1 -101 1 -37 1 86 1 100 1 -32 1 -94 1 -31 1 61 1 51 1 -28 1 -61 1 -22 1 61 1 77 1 -6 1 -99 1 -30 1 67 1 77 1 -31 1 -114 1 -21 1 69 1 79 1 -14 1 -63 1 -18 1 44 1 43 1 -26 1 -86 1 -46 1 56 1 92 1 -7 1 -117 1 -22 1 85 1 91 1 -41 1 -106 1 -37 1 64 1 97 1 -29 1 -105 1 -26 1 82 1 70 1 -20 1 -112 1 -56 1 91 1 109 1 -28 1 -131 1 -32 1 91 1 82 1 -26 1 -96 1 -40 1 70 1 100 1 -35 1 -97 1 -28 1 81 1 86 1 -36 1 -79 1 -32 1 62 1 82 1 -25 1 -109 1 -41 1 73 1 75 1 -9 1 -74 1 -49 1 94 1 135 1 -27 1 -156 1 -55 1 105 1 94 1 -40 1 -114 1 -34 1 70 1 83 1 -6 1 -104 1 -35 1 82 1 73 1 -26 1 -112 1 -34 1 75 1 82 1 -30 1 -97 1 -33 1 76 1 98 1 -26 1 -115 1 -27 1 83 1 66 1 -25 1 -71 1 -27 1 55 1 69 1 -28 1 -86 1 -39 1 76 1 97 1 -24 1 -113 1 -29 1 73 1 71 1 -39 1 -61 1 -12 1 32 1 65 1 -7 1 -65 1 -26 1 72 1 65 1 -18 1 -57 1 -20 1 36 1 51 1 -14 1 -76 1 -26 1 61 1 59 1 -23 1 -63 1 -26 1 54 1 67 1 -21 1 -57 1 -15 1 40 1 43 1 -18 1 -60 1 -45 1 54 1 55 1 -24 1 -57 1 -22 1 49 1 40 1 -16 1 -45 1 -26 1 30 1 59 1 -10 1 -63 1 -24 1 54 1 65 1 -25 1 -63 1 -18 1 36 1 41 1 -10 1 -69 1 -18 1 51 1 39 1 -7 1 -61 1 -11 1 37 1 61 1 0 1 -80 1 -21 1 59 1 62 1 -23 1 -77 1 -22 1 54 1 62 1 -16 1 -66 1 -10 1 38 1 36 1 -10 1 -70 1 -38 1 63 1 86 1 -24 1 -83 1 -17 1 70 1 62 1 -32 1 -77 1 -26 1 55 1 55 1 -17 1 -63 1 -9 1 62 1 79 1 -9 1 -114 1 -37 1 73 1 42 1 -15 1 -35 1 -9 1 43 1 64 1 -8 1 -100 1 -44 1 65 1 55 1 -32 1 -88 1 -32 1 70 1 97 1 -10 1 -126 1 -26 1 76 1 74 1 -25 1 -75 1 -19 1 43 1 77 1 -22 1 -85 1 -29 1 60 1 48 1 -29 1 -64 1 -19 1 50 1 58 1 -14 1 -89 1 -24 1 73 1 61 1 -20 1 -50 1 -14 1 38 1 44 1 -14 1 -66 1 -40 1 56 1 58 1 -15 1 -59 1 -13 1 55 1 40 1 3 1 -52 1 -34 1 39 1 43 1 -19 1 -66 1 -20 1 44 1 50 1 -12 1 -58 1 -30 1 41 1 53 1 -29 1 -59 1 -28 1 61 1 94 1 -15 1 -77 1 -24 1 58 1 48 1 -24 1 -45 1 -13 1 46 1 36 1 -12 1 -47 1 -21 1 33 1 23 1 2 1 -59 1 -31 1 60 1 60 1 -12 1 -65 1 -12 1 36 1 45 1 -13 1 -77 1 -29 1 63 1 75 1 -26 1 -41 1 -3 1 18 1 28 1 -8 1 -74 1 -49 1 86 1 89 1 -30 1 -93 1 -17 1 55 1 43 1 -14 1 -65 1 -37 1 57 1 76 1 -17 1 -107 1 -33 1 85 1 74 1 -25 1 -90 1 -19 1 66 1 56 1 -11 1 -65 1 -43 1 65 1 81 1 -24 1 -108 1 -34 1 61 1 62 1 -14 1 -92 1 -28 1 76 1 71 1 -21 1 -56 1 -19 1 47 1 74 1 -25 1 -107 1 -35 1 72 1 81 1 -38 1 -81 1 -9 1 60 1 63 1 -17 1 -87 1 -45 1 67 1 73 1 -34 1 -106 1 -39 1 95 1 85 1 -31 1 -71 1 -18 1 46 1 45 1 -9 1 -78 1 -34 1 80 1 79 1 -27 1 -81 1 -38 1 59 1 77 1 -28 1 -108 1 -31 1 74 1 65 1 -2 1 -70 1 -20 1 46 1 56 1 -16 1 -80 1 -22 1 56 1 43 1 -6 1 -45 1 -29 1 56 1 65 1 -21 1 -83 1 -25 1 55 1 54 1 -16 1 -50 1 -19 1 34 1 43 1 -9 1 -72 1 -41 1 77 1 93 1 -21 1 -92 1 -23 1 55 1 45 1 -32 1 -67 1 -32 1 54 1 76 1 0 1 -92 1 -27 1 72 1 63 1 -19 1 -71 1 -28 1 48 1 77 1 -29 1 -78 1 -21 1 64 1 40 1 -24 1 -47 1 -32 1 45 1 72 1 -12 1 -88 1 -36 1 64 1 65 1 -38 1 -80 1 -31 1 56 1 80 1 -10 1 -77 1 -21 1 67 1 79 1 -18 1 -101 1 -49 1 83 1 84 1 -31 1 -82 1 -16 1 57 1 55 1 -11 1 -81 1 -39 1 66 1 82 1 -35 1 -85 1 -22 1 75 1 89 1 -30 1 -102 1 -30 1 76 1 65 1 -31 1 -64 1 -19 1 59 1 70 1 -13 1 -109 1 -43 1 71 1 82 1 -37 1 -108 1 -38 1 77 1 83 1 -33 1 -77 1 -31 1 50 1 32 1 -4 1 -51 1 -26 1 50 1 72 1 -20 1 -118 1 -37 1 86 1 98 1 -37 1 -101 1 -20 1 77 1 74 1 -39 1 -92 1 -20 1 49 1 59 1 -20 1 -60 1 -17 1 58 1 79 1 -9 1 -78 1 -24 1 75 1 68 1 -3 1 -61 1 -13 1 48 1 42 1 -7 1 -75 1 -29 1 57 1 70 1 -16 1 -102 1 -35 1 90 1 82 1 -31 1 -104 1 -38 1 74 1 68 1 -35 1 -76 1 -15 1 50 1 75 1 -17 1 -93 1 -37 1 70 1 74 1 -18 1 -90 1 -30 1 60 1 68 1 -20 1 -83 1 -27 1 58 1 86 1 -28 1 -84 1 -36 1 66 1 79 1 -33 1 -109 1 -33 1 72 1 72 1 -23 1 -80 1 -22 1 66 1 77 1 -24 1 -91 1 -40 1 77 1 74 1 -17 1 -98 1 -38 1 84 1 93 1 -27 1 -119 1 -32 1 76 1 68 1 -14 1 -86 1 -33 1 77 1 115 1 -25 1 -128 1 -29 1 79 1 62 1 -29 1 -64 1 -26 1 69 1 68 1 -11 1 -86 1 -45 1 70 1 69 1 -25 1 -109 1 -47 1 88 1 84 1 -15 1 -87 1 -42 1 83 1 83 1 -36 1 -105 1 -36 1 62 1 77 1 -25 1 -111 1 -36 1 83 1 79 1 -27 1 -75 1 -26 1 59 1 82 1 -13 1 -103 1 -37 1 94 1 89 1 -36 1 -94 1 -18 1 64 1 67 1 -24 1 -74 1 -27 1 62 1 65 1 -18 1 -71 1 -37 1 68 1 75 1 -29 1 -102 1 -21 1 74 1 80 1 -14 1 -68 1 -23 1 49 1 37 1 -35 1 -60 1 -43 1 42 1 74 1 -12 1 -108 1 -22 1 90 1 68 1 -26 1 -76 1 -22 1 50 1 68 1 -4 1 -75 1 -29 1 67 1 76 1 -29 1 -91 1 -39 1 50 1 69 1 -22 1 -68 1 -15 1 56 1 40 1 -13 1 -34 1 -22 1 35 1 49 1 -14 1 -82 1 -26 1 64 1 62 1 -23 1 -67 1 -21 1 37 1 55 1 -18 1 -50 1 -18 1 53 1 69 1 -16 1 -63 1 -25 1 46 1 36 1 -22 1 -58 1 -27 1 34 1 42 1 -8 1 -66 1 -33 1 55 1 56 1 -14 1 -60 1 -21 1 49 1 65 1 -11 1 -81 1 -31 1 57 1 52 1 -16 1 -67 1 -23 1 52 1 37 1 -12 1 -56 1 -16 1 36"/><path vector-effect="non-scaling-stroke" d="M0 2573l1 13 1 -10 1 -7 1 0 1 13 1 11 1 -12 1 -22 1 18 1 20 1 17 1 -13 1 5 1 10 1 0 1 12 1 -10 1 -9 1 0 1 24 1 14 1 3 1 -6 1 6 1 11 1 8 1 -18 1 -28 1 -8 1 6 1 17 1 -2 1 -23 1 7 1 19 1 2 1 -20 1 -18 1 -2 1 12 1 17 1 -18 1 -5 1 0 1 0 1 -1 1 -14 1 -30 1 -7 1 23 1 12 1 6 1 10 1 26 1 17 1 16 1 0 1 -17 1 -12 1 -4 1 4 1 -24 1 -10 1 -7 1 29 1 26 1 -21 1 -18 1 0 1 23 1 18 1 -13 1 -23 1 9 1 5 1 13 1 -18 1 -14 1 4 1 14 1 19 1 -12 1 -11 1 -3 1 14 1 11 1 -20 1 -19 1 3 1 13 1 15 1 -13 1 -5 1 17 1 31 1 12 1 -10 1 -12 1 4 1 3 1 -2 1 -5 1 -12 1 2 1 5 1 9 1 -4 1 -19 1 -12 1 32 1 21 1 -15 1 -17 1 0 1 15 1 6 1 -9 1 -24 1 -10 1 15 1 22 1 -11 1 -18 1 16 1 6 1 14 1 -11 1 -32 1 0 1 13 1 6 1 -9 1 -16 1 -1 1 36 1 17 1 -15 1 -19 1 -2 1 11 1 7 1 -10 1 -22 1 0 1 17 1 14 1 -15 1 -34 1 -2 1 14 1 17 1 -1 1 6 1 9 1 22 1 29 1 -9 1 -20 1 -14 1 9 1 -6 1 -19 1 -13 1 -2 1 17 1 21 1 -5 1 -26 1 11 1 15 1 9 1 -8 1 -17 1 19 1 26 1 7 1 -2 1 -12 1 -4 1 15 1 -2 1 -24 1 -17 1 -2 1 15 1 22 1 -14 1 -5 1 6 1 24 1 13 1 -12 1 -10 1 -9 1 11 1 -7 1 -13 1 -21 1 2 1 8 1 12 1 -6 1 -26 1 12 1 19 1 10 1 -5 1 -30 1 -12 1 5 1 -9 1 -15 1 -21 1 -7 1 32 1 20 1 -14 1 -5 1 11 1 15 1 2 1 -15 1 -14 1 -7 1 3 1 20 1 -14 1 4 1 0 1 17 1 12 1 -15 1 -2 1 -23 1 12 1 18 1 -10 1 -21 1 15 1 23 1 16 1 11 1 -2 1 13 1 9 1 1 1 -20 1 -24 1 -10 1 7 1 11 1 -20 1 -3 1 2 1 6 1 33 1 -8 1 -18 1 -1 1 16 1 3 1 -11 1 1 1 -5 1 6 1 21 1 -13 1 -35 1 4 1 20 1 5 1 -15 1 -10 1 11 1 26 1 21 1 -12 1 -14 1 -4 1 8 1 13 1 -4 1 -19 1 5 1 25 1 8 1 0 1 -6 1 -16 1 9 1 -5 1 -18 1 -11 1 -8 1 12 1 7 1 -11 1 -15 1 7 1 5 1 5 1 -20 1 -22 1 5 1 18 1 11 1 -7 1 -2 1 6 1 5 1 -6 1 1 1 -12 1 -8 1 5 1 14 1 -8 1 -8 1 9 1 18 1 13 1 -2 1 -12 1 -1 1 22 1 -1 1 -26 1 -26 1 -14 1 12 1 7 1 -12 1 -13 1 16 1 42 1 25 1 7 1 -20 1 -6 1 16 1 9 1 -20 1 -23 1 -11 1 26 1 14 1 -18 1 -5 1 -8 1 7 1 0 1 -11 1 -35 1 -5 1 31 1 11 1 -11 1 -20 1 3 1 12 1 3 1 -16 1 -21 1 -5 1 27 1 21 1 1 1 4 1 4 1 22 1 13 1 -29 1 -36 1 -8 1 9 1 9 1 -22 1 -8 1 18 1 23 1 26 1 -2 1 -24 1 -2 1 22 1 15 1 -20 1 -21 1 2 1 22 1 16 1 -16 1 -9 1 -8 1 15 1 1 1 -19 1 -25 1 -4 1 27 1 15 1 -5 1 -9 1 16 1 32 1 21 1 -17 1 -16 1 -4 1 10 1 -2 1 -24 1 -37 1 3 1 26 1 12 1 -2 1 -17 1 12 1 16 1 15 1 -18 1 -13 1 -8 1 8 1 16 1 -24 1 -18 1 -19 1 18 1 -3 1 -15 1 -18 1 -7 1 22 1 22 1 -8 1 -27 1 6 1 17 1 7 1 -15 1 -13 1 -8 1 16 1 0 1 1 1 -18 1 -12 1 25 1 0 1 -31 1 -23 1 6 1 18 1 9 1 -1 1 -4 1 5 1 36 1 7 1 -22 1 -26 1 -12 1 -1 1 5 1 -25 1 -6 1 19 1 21 1 32 1 -7 1 -16 1 6 1 20 1 2 1 -23 1 -20 1 9 1 6 1 -4 1 -7 1 -6 1 0 1 0 1 10 1 -6 1 -10 1 1 1 12 1 18 1 -17 1 -16 1 -3 1 25 1 12 1 -8 1 -12 1 6 1 40 1 14 1 -5 1 -19 1 -5 1 14 1 9 1 -33 1 -19 1 5 1 25 1 13 1 -5 1 -3 1 7 1 39 1 13 1 -16 1 -31 1 7 1 13 1 7 1 -4 1 -25 1 8 1 23 1 21 1 -10 1 -24 1 1 1 13 1 18 1 -20 1 -24 1 5 1 9 1 24 1 -11 1 -27 1 4 1 3 1 7 1 -9 1 -28 1 -4 1 17 1 13 1 -6 1 -24 1 1 1 29 1 12 1 -8 1 -12 1 -3 1 14 1 11 1 3 1 -18 1 8 1 18 1 26 1 -10 1 -43 1 11 1 10 1 1 1 -22 1 -9 1 -8 1 12 1 16 1 3 1 -6 1 -5 1 27 1 19 1 -2 1 -19 1 15 1 26 1 1 1 -7 1 -22 1 -5 1 12 1 1 1 -22 1 -24 1 -4 1 10 1 12 1 -2 1 11 1 8 1 28 1 18 1 -3 1 -19 1 -1 1 12 1 -6 1 -17 1 -38 1 2 1 16 1 8 1 -4 1 2 1 13 1 14 1 14 1 2 1 -8 1 -6 1 -4 1 -3 1 -11 1 -19 1 -2 1 17 1 4 1 -5 1 -17 1 -6 1 26 1 3 1 -2 1 -7 1 -10 1 6 1 11 1 -24 1 -22 1 -12 1 2 1 18 1 -21 1 -15 1 15 1 16 1 17 1 -2 1 -7 1 -7 1 8 1 -5 1 -23 1 -19 1 -8 1 24 1 23 1 5 1 1 1 11 1 16 1 27 1 -22 1 -21 1 -8 1 24 1 20 1 -19 1 -7 1 4 1 25 1 3 1 -20 1 -18 1 -8 1 4 1 9 1 -13 1 -12 1 -1 1 29 1 15 1 -10 1 -9 1 -7 1 15 1 17 1 -13 1 -6 1 -4 1 23 1 13 1 -18 1 -12 1 -18 1 15 1 13 1 -19 1 -33 1 26 1 17 1 11 1 -5 1 -22 1 4 1 9 1 4 1 -20 1 -36 1 -6 1 20 1 10 1 -6 1 -29 1 3 1 18 1 22 1 -11 1 -26 1 -1 1 31 1 4 1 -14 1 -16 1 -8 1 20 1 20 1 -15 1 -22 1 6 1 14 1 13 1 -16 1 -14 1 2 1 21 1 17 1 -5 1 -17 1 -1 1 30 1 24 1 -18 1 -25 1 -13 1 19 1 3 1 -14 1 -13 1 10 1 33 1 11 1 -7 1 -9 1 1 1 0 1 15 1 -16 1 -12 1 -3 1 26 1 21 1 1 1 -31 1 -12 1 14 1 -1 1 -17 1 -36 1 6 1 2 1 14 1 -8 1 -20 1 2 1 19 1 10 1 -19 1 -13 1 -3 1 17 1 11 1 -2 1 -19 1 -7 1 25 1 1 1 -22 1 -28 1 -3 1 13 1 11 1 -7 1 -11 1 13 1 17 1 19 1 -5 1 -13 1 -12 1 12 1 0 1 -23 1 -27 1 -10 1 20 1 12 1 -7 1 -14 1 14 1 19 1 15 1 -5 1 -20 1 -2 1 19 1 -5 1 -17 1 -13 1 1 1 25 1 7 1 -7 1 -5 1 3 1 9 1 25 1 -32 1 -25 1 9 1 12 1 11 1 -7 1 -4 1 -4 1 14 1 -1 1 -10 1 -23 1 13 1 33 1 22 1 -5 1 -7 1 16 1 21 1 0 1 -31 1 -14 1 -18 1 4 1 2 1 -5 1 -7 1 7 1 30 1 20 1 -2 1 -20 1 -5 1 4 1 -5 1 -14 1 -25 1 -9 1 29 1 14 1 -14 1 -2 1 -3 1 6 1 1 1 -10 1 -23 1 -14 1 17 1 9 1 -12 1 -20 1 18 1 11 1 16 1 -8 1 -10 1 7 1 24 1 23 1 -25 1 -4 1 3 1 13 1 2 1 -10 1 -3 1 2 1 12 1 13 1 1 1 -17 1 4 1 13 1 -10 1 0 1 -28 1 -4 1 7 1 -5 1 -12 1 -27 1 2 1 6 1 5 1 -10 1 -12 1 9 1 9 1 12 1 -2 1 -27 1 16 1 22 1 16 1 -14 1 -17 1 18 1 21 1 14 1 -15 1 -15 1 6 1 16 1 22 1 -6 1 -12 1 9 1 22 1 15 1 -14 1 -6 1 -18 1 12 1 13 1 -20 1 -22 1 2 1 14 1 13 1 -5 1 -14 1 0 1 22 1 14 1 -16 1 -24 1 -1 1 32 1 4 1 5 1 -8 1 2 1 20 1 21 1 -5 1 -31 1 -23 1 20 1 0 1 -22 1 2 1 3 1 31 1 14 1 -2 1 -14 1 -1 1 8 1 6 1 -6 1 -23 1 -11 1 25 1 23 1 -6 1 -18 1 2 1 13 1 0 1 -19 1 -30 1 -10 1 12 1 3 1 -17 1 -15 1 -9 1 25 1 13 1 -13 1 -24 1 6 1 14 1 18 1 2 1 -14 1 6 1 6 1 11 1 -14 1 -25 1 0 1 2 1 12 1 3 1 -16 1 12 1 18 1 24 1 0 1 -9 1 -2 1 39 1 6 1 -19 1 -5 1 -8 1 19 1 0 1 -18 1 -14 1 -15 1 11 1 21 1 -28 1 -27 1 -2 1 18 1 -3 1 7 1 -14 1 3 1 15 1 9 1 -5 1 -23 1 8 1 3 1 26 1 -33 1 -13 1 6 1 19 1 34 1 -15 1 0 1 8 1 28 1 18 1 -28 1 -33 1 0 1 19 1 -5 1 -12 1 -1 1 4 1 19 1 26 1 -8 1 -15 1 13 1 4 1 3 1 -18 1 -11 1 -1 1 2 1 23 1 -15 1 -18 1 4 1 14 1 10 1 7 1 -18 1 -8 1 10 1 -5 1 6 1 -48 1 -10 1 28 1 12 1 -12 1 -8 1 14 1 23 1 21 1 -16 1 -1 1 -10 1 8 1 4 1 -24 1 -16 1 -7 1 25 1 24 1 -15 1 -7 1 10 1 8 1 6 1 -6 1 -30 1 -4 1 13 1 7 1 -9 1 -22 1 13 1 6 1 19 1 -15 1 -22 1 3 1 7 1 6 1 1 1 -7 1 2 1 13 1 10 1 6 1 -10 1 4 1 24 1 18 1 -1 1 -8 1 1 1 12 1 -4 1 -4 1 -25 1 -9 1 -7 1 0 1 -3 1 -7 1 -2 1 25 1 28 1 -6 1 -1 1 3 1 9 1 -8 1 0 1 -28 1 -1 1 9 1 13 1 -7 1 -15 1 9 1 13 1 -2 1 -22 1 -16 1 -22 1 13 1 0 1 -12 1 -16 1 8 1 32 1 35 1 -9 1 -4 1 14 1 16 1 4 1 -23 1 -16 1 -16 1 0 1 1 1 -8 1 -12 1 9 1 20 1 8 1 -1 1 -10 1 1 1 21 1 -3 1 12 1 -10 1 13 1 25 1 0 1 -10 1 -25 1 -3 1 3 1 -2 1 -11 1 0 1 10 1 25 1 23 1 -4 1 -28 1 -1 1 -3 1 -3 1 -27 1 -11 1 13 1 25 1 26 1 -17 1 -4 1 -10 1 6 1 -7 1 -35 1 -28 1 -6 1 20 1 9 1 1 1 -1 1 19 1 18 1 -1 1 -18 1 -24 1 -14 1 3 1 7 1 -1 1 6 1 -3 1 20 1 5 1 -5 1 -20 1 -11 1 16"/><path vector-effect="non-scaling-stroke" d="M0 2817l1 -18 1 -62 1 -6 1 50 1 44 1 -15 1 -63 1 -8 1 46 1 34 1 -28 1 -81 1 -16 1 77 1 58 1 -26 1 -61 1 -2 1 64 1 53 1 -33 1 -67 1 -11 1 55 1 41 1 -20 1 -53 1 -11 1 49 1 39 1 -28 1 -56 1 -19 1 36 1 44 1 -20 1 -74 1 -11 1 82 1 53 1 -33 1 -58 1 2 1 38 1 32 1 -8 1 -73 1 -23 1 62 1 56 1 -31 1 -75 1 -12 1 66 1 55 1 -30 1 -60 1 -10 1 57 1 36 1 -22 1 -74 1 -32 1 56 1 52 1 -30 1 -70 1 1 1 73 1 74 1 -28 1 -66 1 -11 1 54 1 31 1 -33 1 -64 1 -26 1 48 1 54 1 -24 1 -72 1 -10 1 79 1 64 1 -25 1 -60 1 -13 1 56 1 64 1 -31 1 -103 1 -8 1 70 1 43 1 -34 1 -38 1 1 1 36 1 34 1 -10 1 -47 1 -12 1 43 1 28 1 -15 1 -33 1 -12 1 30 1 48 1 -22 1 -60 1 -24 1 46 1 40 1 -31 1 -60 1 -1 1 49 1 44 1 -7 1 -57 1 -12 1 58 1 55 1 -30 1 -65 1 -17 1 51 1 44 1 -37 1 -47 1 -21 1 35 1 33 1 -33 1 -46 1 -24 1 57 1 49 1 -21 1 -58 1 -6 1 41 1 40 1 -16 1 -48 1 -1 1 35 1 30 1 -18 1 -45 1 -19 1 49 1 26 1 -17 1 -29 1 -4 1 34 1 37 1 -10 1 -57 1 -9 1 63 1 42 1 -31 1 -46 1 -15 1 48 1 46 1 -17 1 -61 1 -12 1 59 1 44 1 -29 1 -45 1 -8 1 28 1 37 1 -15 1 -72 1 -24 1 67 1 40 1 -30 1 -47 1 -3 1 35 1 40 1 -24 1 -71 1 -25 1 47 1 44 1 -38 1 -57 1 -10 1 51 1 52 1 -18 1 -48 1 -21 1 41 1 37 1 -30 1 -66 1 -33 1 86 1 44 1 -28 1 -57 1 -14 1 59 1 26 1 -19 1 -57 1 -9 1 42 1 42 1 -9 1 -47 1 -9 1 57 1 39 1 -23 1 -55 1 -7 1 45 1 43 1 -18 1 -59 1 -10 1 65 1 53 1 -37 1 -70 1 -22 1 65 1 53 1 -14 1 -56 1 -1 1 53 1 31 1 -20 1 -48 1 -17 1 41 1 53 1 -15 1 -63 1 -2 1 69 1 32 1 -17 1 -47 1 0 1 11 1 8 1 -11 1 -49 1 -11 1 36 1 44 1 -20 1 -52 1 -3 1 43 1 36 1 -12 1 -56 1 -9 1 45 1 36 1 -24 1 -61 1 -20 1 26 1 33 1 -22 1 -59 1 -15 1 59 1 46 1 -14 1 -56 1 -20 1 55 1 23 1 -15 1 -28 1 -1 1 23 1 23 1 -12 1 -48 1 -10 1 22 1 30 1 -20 1 -41 1 6 1 19 1 21 1 3 1 -52 1 -25 1 58 1 56 1 -27 1 -70 1 -7 1 51 1 32 1 -11 1 -38 1 -15 1 33 1 26 1 -13 1 -42 1 -18 1 61 1 46 1 -13 1 -43 1 -15 1 37 1 24 1 -16 1 -56 1 -14 1 41 1 40 1 -4 1 -46 1 -18 1 44 1 41 1 -25 1 -49 1 -14 1 43 1 27 1 -11 1 -23 1 -4 1 39 1 39 1 -24 1 -52 1 -4 1 45 1 36 1 -26 1 -44 1 -20 1 23 1 33 1 -28 1 -76 1 -19 1 62 1 57 1 -24 1 -59 1 -1 1 49 1 53 1 -13 1 -71 1 -19 1 45 1 36 1 -15 1 -46 1 -13 1 62 1 58 1 -18 1 -69 1 -23 1 67 1 46 1 -37 1 -69 1 -5 1 39 1 43 1 -17 1 -52 1 -3 1 44 1 49 1 -30 1 -60 1 -19 1 63 1 41 1 -27 1 -44 1 -11 1 37 1 30 1 -10 1 -61 1 -20 1 53 1 48 1 -23 1 -62 1 -33 1 51 1 36 1 -25 1 -64 1 -27 1 57 1 31 1 -25 1 -62 1 -24 1 46 1 53 1 -22 1 -63 1 7 1 68 1 51 1 -13 1 -59 1 -20 1 51 1 43 1 -37 1 -56 1 -10 1 41 1 40 1 -21 1 -39 1 -10 1 41 1 34 1 -30 1 -52 1 -19 1 49 1 41 1 -27 1 -45 1 -8 1 38 1 42 1 -15 1 -61 1 -18 1 45 1 41 1 -41 1 -52 1 -22 1 40 1 38 1 -18 1 -32 1 0 1 50 1 24 1 -7 1 -52 1 -17 1 30 1 49 1 -18 1 -79 1 -12 1 56 1 43 1 -27 1 -43 1 -15 1 26 1 38 1 -14 1 -44 1 3 1 44 1 28 1 -1 1 -25 1 -21 1 43 1 42 1 -30 1 -58 1 -5 1 42 1 38 1 -23 1 -49 1 -8 1 42 1 49 1 -18 1 -62 1 -13 1 55 1 46 1 -25 1 -56 1 -5 1 34 1 33 1 -5 1 -48 1 -4 1 61 1 28 1 -7 1 -29 1 -13 1 19 1 17 1 -22 1 -60 1 -5 1 56 1 41 1 -14 1 -30 1 -12 1 26 1 26 1 -25 1 -58 1 -25 1 50 1 53 1 -27 1 -48 1 -14 1 33 1 28 1 -34 1 -57 1 -25 1 43 1 48 1 -19 1 -48 1 -10 1 71 1 48 1 -38 1 -47 1 -16 1 37 1 41 1 -19 1 -39 1 -12 1 57 1 39 1 -19 1 -48 1 -21 1 36 1 26 1 -14 1 -42 1 12 1 27 1 35 1 -10 1 -39 1 -9 1 47 1 59 1 -24 1 -60 1 -17 1 67 1 31 1 -20 1 -47 1 -13 1 33 1 31 1 -21 1 -63 1 -10 1 46 1 51 1 -26 1 -47 1 3 1 36 1 41 1 -10 1 -58 1 -9 1 39 1 40 1 -21 1 -52 1 5 1 37 1 45 1 -33 1 -45 1 1 1 27 1 29 1 -20 1 -27 1 -17 1 36 1 27 1 -8 1 -38 1 -7 1 42 1 21 1 -22 1 -54 1 -12 1 41 1 29 1 -17 1 -30 1 -15 1 19 1 22 1 -22 1 -58 1 -4 1 30 1 5 1 -4 1 -7 1 -3 1 16 1 27 1 -13 1 -54 1 -14 1 28 1 19 1 2 1 -8 1 -1 1 25 1 27 1 -5 1 -38 1 -5 1 41 1 32 1 -15 1 -33 1 -3 1 44 1 36 1 -13 1 -16 1 0 1 33 1 38 1 2 1 -34 1 12 1 11 1 19 1 -14 1 -50 1 -11 1 16 1 21 1 -21 1 -28 1 -18 1 35 1 19 1 -18 1 -15 1 -9 1 9 1 21 1 -8 1 -29 1 -24 1 30 1 37 1 -19 1 -51 1 -7 1 41 1 22 1 -11 1 -39 1 -8 1 7 1 13 1 -20 1 -53 1 -19 1 47 1 35 1 -13 1 -21 1 -3 1 46 1 41 1 -30 1 -66 1 -16 1 54 1 34 1 -15 1 -45 1 -11 1 67 1 48 1 -27 1 -70 1 -23 1 52 1 22 1 -16 1 -29 1 -21 1 52 1 44 1 -20 1 -60 1 -15 1 48 1 42 1 -31 1 -45 1 -7 1 50 1 47 1 -20 1 -51 1 -24 1 42 1 24 1 -20 1 -43 1 -7 1 34 1 50 1 -15 1 -49 1 -14 1 40 1 45 1 -25 1 -60 1 -16 1 51 1 50 1 -13 1 -53 1 -10 1 43 1 33 1 -23 1 -61 1 -21 1 63 1 56 1 -24 1 -55 1 -13 1 52 1 49 1 -30 1 -49 1 -25 1 56 1 39 1 -20 1 -48 1 -31 1 50 1 27 1 -19 1 -61 1 -17 1 48 1 31 1 -7 1 -35 1 -14 1 25 1 31 1 -14 1 -44 1 -5 1 35 1 43 1 -20 1 -46 1 -13 1 48 1 57 1 -28 1 -70 1 -16 1 63 1 44 1 -17 1 -34 1 -2 1 43 1 43 1 -27 1 -69 1 -24 1 46 1 22 1 -27 1 -34 1 -6 1 29 1 38 1 -4 1 -61 1 -9 1 58 1 49 1 -33 1 -66 1 -14 1 50 1 55 1 -22 1 -62 1 -7 1 49 1 34 1 -11 1 -69 1 -37 1 64 1 55 1 -49 1 -72 1 -7 1 44 1 34 1 -10 1 -33 1 -18 1 60 1 55 1 -30 1 -78 1 -20 1 50 1 36 1 -16 1 -73 1 -18 1 76 1 65 1 -33 1 -54 1 7 1 33 1 37 1 0 1 -54 1 -19 1 56 1 58 1 -38 1 -75 1 -17 1 55 1 68 1 -47 1 -77 1 -13 1 74 1 76 1 -29 1 -67 1 -17 1 48 1 28 1 -34 1 -82 1 -28 1 48 1 51 1 -23 1 -68 1 -9 1 57 1 58 1 -25 1 -80 1 -21 1 78 1 52 1 -34 1 -53 1 -13 1 40 1 35 1 -20 1 -59 1 -23 1 64 1 65 1 -29 1 -68 1 -4 1 59 1 40 1 -29 1 -53 1 -18 1 62 1 58 1 -19 1 -58 1 -12 1 70 1 39 1 -24 1 -71 1 -31 1 55 1 47 1 -25 1 -62 1 -3 1 58 1 34 1 -16 1 -61 1 -3 1 36 1 25 1 -13 1 -34 1 -7 1 29 1 48 1 -15 1 -55 1 -24 1 50 1 54 1 -18 1 -63 1 -6 1 42 1 37 1 -19 1 -52 1 -26 1 54 1 46 1 -36 1 -60 1 -10 1 53 1 40 1 -20 1 -69 1 -13 1 50 1 24 1 -27 1 -35 1 -18 1 41 1 30 1 -12 1 -35 1 2 1 32 1 34 1 -9 1 -45 1 -17 1 45 1 48 1 -34 1 -52 1 -19 1 53 1 16 1 -14 1 -33 1 -23 1 41 1 41 1 -26 1 -66 1 -14 1 57 1 49 1 -21 1 -51 1 -4 1 56 1 52 1 -27 1 -77 1 -18 1 50 1 41 1 -26 1 -55 1 -5 1 51 1 50 1 -13 1 -60 1 -5 1 49 1 33 1 -26 1 -52 1 -25 1 32 1 44 1 -21 1 -62 1 3 1 47 1 42 1 -12 1 -54 1 -3 1 35 1 35 1 -25 1 -45 1 -9 1 59 1 53 1 -23 1 -60 1 -10 1 53 1 38 1 -38 1 -63 1 -22 1 39 1 45 1 -28 1 -42 1 2 1 60 1 47 1 -18 1 -47 1 -21 1 35 1 35 1 -19 1 -51 1 -4 1 53 1 45 1 -17 1 -51 1 -26 1 57 1 45 1 -44 1 -44 1 -20 1 64 1 56 1 -30 1 -63 1 -21 1 54 1 34 1 -24 1 -53 1 -13 1 46 1 45 1 -14 1 -60 1 -10 1 43 1 46 1 -17 1 -83 1 -5 1 67 1 51 1 -25 1 -46 1 -9 1 22 1 19 1 -18 1 -54 1 -22 1 63 1 53 1 -19 1 -50 1 -11 1 43 1 43 1 -28 1 -73 1 -18 1 54 1 45 1 -13 1 -44 1 -10 1 46 1 55 1 -25 1 -79 1 -14 1 71 1 51 1 -29 1 -54 1 -10 1 53 1 34 1 -26 1 -62 1 -26 1 60 1 55 1 -33 1 -70 1 5 1 56 1 51 1 -13 1 -51 1 -13 1 31 1 50 1 -37 1 -73 1 -17 1 53 1 40 1 -20 1 -59 1 -7 1 50 1 40 1 -19 1 -52 1 -14 1 47 1 57 1 -30 1 -74 1 -12 1 51 1 34 1 -15 1 -61 1 -18 1 48 1 56 1 -38 1 -50 1 -7 1 35 1 42 1 -17 1 -53 1 -19 1 54 1 46 1 -17 1 -47 1 9 1 20 1 43 1 -8 1 -72 1 -20 1 77 1 69 1 -39 1 -50 1 -9 1 43 1 41 1 -27 1 -50 1 -8 1 48 1 25 1 -13 1 -34 1 -12 1 43 1 33 1 -14 1 -58 1 -18 1 33 1 35 1 -33 1 -67 1 -20 1 59 1 39 1 -19 1 -43 1 -4 1 43 1 27 1 -16 1 -56 1 -24 1 40 1 45 1 -34 1 -51 1 -10 1 46 1 45 1 -18 1 -30 1 -9 1 30 1 40"/><path vector-effect="non-scaling-stroke" d="M0 2972l1 47 1 -26 1 -54 1 -15 1 46 1 33 1 -21 1 -41 1 -14 1 49 1 45 1 -20 1 -43 1 0 1 40 1 22 1 -18 1 -48 1 -3 1 34 1 19 1 -22 1 -62 1 -9 1 42 1 28 1 -22 1 -51 1 -17 1 56 1 57 1 -35 1 -57 1 -10 1 43 1 43 1 -24 1 -62 1 -20 1 70 1 51 1 -13 1 -46 1 -18 1 51 1 51 1 -32 1 -74 1 -17 1 43 1 56 1 -29 1 -66 1 -2 1 71 1 47 1 -18 1 -50 1 -2 1 65 1 29 1 -9 1 -56 1 -14 1 41 1 40 1 -42 1 -67 1 -19 1 35 1 59 1 -30 1 -72 1 -9 1 65 1 33 1 -20 1 -44 1 -5 1 35 1 42 1 -21 1 -66 1 -11 1 53 1 49 1 -23 1 -70 1 -21 1 55 1 67 1 -29 1 -80 1 4 1 60 1 54 1 -34 1 -66 1 -16 1 52 1 31 1 -13 1 -62 1 -13 1 67 1 47 1 -16 1 -52 1 5 1 37 1 36 1 -18 1 -57 1 -33 1 59 1 53 1 -30 1 -61 1 4 1 59 1 47 1 -18 1 -51 1 -16 1 42 1 34 1 -27 1 -37 1 -13 1 28 1 28 1 -18 1 -49 1 -7 1 39 1 23 1 -15 1 -31 1 -19 1 48 1 44 1 -35 1 -59 1 -1 1 24 1 25 1 -14 1 -45 1 -22 1 47 1 59 1 -37 1 -64 1 -7 1 52 1 38 1 -16 1 -49 1 -4 1 34 1 33 1 -14 1 -40 1 -18 1 37 1 50 1 -13 1 -49 1 2 1 33 1 23 1 0 1 -44 1 -24 1 62 1 55 1 -26 1 -39 1 -20 1 42 1 36 1 -25 1 -78 1 -24 1 58 1 38 1 -21 1 -35 1 -7 1 30 1 37 1 -30 1 -54 1 -15 1 35 1 36 1 -26 1 -43 1 0 1 49 1 38 1 -27 1 -63 1 -18 1 45 1 29 1 -21 1 -52 1 -9 1 58 1 54 1 -29 1 -66 1 -26 1 48 1 39 1 -17 1 -65 1 -18 1 75 1 64 1 -29 1 -81 1 3 1 42 1 40 1 -21 1 -42 1 -2 1 48 1 53 1 -9 1 -49 1 -20 1 50 1 36 1 -41 1 -63 1 -10 1 42 1 36 1 -20 1 -66 1 -14 1 82 1 56 1 -38 1 -58 1 1 1 40 1 45 1 -18 1 -65 1 -16 1 53 1 50 1 -37 1 -55 1 2 1 46 1 51 1 -15 1 -60 1 -22 1 50 1 53 1 -35 1 -73 1 -12 1 57 1 55 1 -11 1 -88 1 -25 1 72 1 43 1 -25 1 -56 1 -16 1 67 1 58 1 -13 1 -73 1 -25 1 58 1 41 1 -36 1 -72 1 -11 1 40 1 66 1 -19 1 -58 1 -5 1 38 1 36 1 -21 1 -41 1 -21 1 37 1 37 1 -11 1 -61 1 -28 1 59 1 48 1 -45 1 -94 1 -18 1 64 1 46 1 -18 1 -30 1 -5 1 39 1 55 1 -29 1 -85 1 -12 1 54 1 31 1 -24 1 -40 1 -5 1 41 1 38 1 -3 1 -43 1 -10 1 54 1 41 1 -14 1 -59 1 -11 1 52 1 42 1 -20 1 -50 1 -5 1 36 1 31 1 -21 1 -61 1 -23 1 68 1 50 1 -32 1 -63 1 -4 1 61 1 39 1 -14 1 -49 1 -12 1 34 1 28 1 -25 1 -50 1 -26 1 36 1 50 1 -22 1 -44 1 2 1 46 1 25 1 -17 1 -37 1 -16 1 12 1 36 1 -19 1 -51 1 1 1 49 1 50 1 -23 1 -44 1 -5 1 19 1 29 1 -17 1 -46 1 -7 1 31 1 63 1 -16 1 -59 1 10 1 43 1 30 1 -9 1 -44 1 -19 1 44 1 43 1 -38 1 -72 1 -17 1 51 1 41 1 -28 1 -51 1 -2 1 41 1 29 1 -8 1 -34 1 -11 1 40 1 54 1 -38 1 -55 1 -11 1 37 1 26 1 -11 1 -29 1 0 1 26 1 13 1 -4 1 -59 1 -7 1 33 1 32 1 -20 1 -47 1 -20 1 55 1 40 1 -25 1 -34 1 -11 1 47 1 38 1 -21 1 -51 1 -18 1 42 1 53 1 -37 1 -65 1 -18 1 53 1 38 1 -22 1 -40 1 -6 1 41 1 20 1 -22 1 -47 1 -2 1 24 1 22 1 -6 1 -39 1 -14 1 42 1 48 1 -24 1 -55 1 -6 1 38 1 30 1 -22 1 -48 1 -12 1 44 1 36 1 -15 1 -34 1 -5 1 33 1 30 1 -15 1 -54 1 -12 1 40 1 36 1 -29 1 -55 1 2 1 27 1 33 1 -4 1 -50 1 -13 1 43 1 46 1 -23 1 -76 1 -3 1 55 1 40 1 -19 1 -35 1 0 1 38 1 36 1 -26 1 -38 1 -20 1 33 1 34 1 -24 1 -47 1 -8 1 48 1 60 1 -18 1 -64 1 2 1 37 1 34 1 -7 1 -50 1 -6 1 52 1 34 1 -27 1 -46 1 -19 1 25 1 29 1 -4 1 -44 1 -27 1 62 1 43 1 -17 1 -53 1 -1 1 37 1 29 1 -21 1 -61 1 -8 1 47 1 47 1 -37 1 -43 1 -12 1 38 1 26 1 -27 1 -46 1 -17 1 44 1 45 1 -23 1 -55 1 -13 1 49 1 53 1 -39 1 -41 1 -4 1 41 1 51 1 -20 1 -45 1 1 1 41 1 26 1 -7 1 -45 1 -31 1 72 1 61 1 -45 1 -62 1 -10 1 46 1 23 1 -21 1 -27 1 -15 1 40 1 48 1 -15 1 -47 1 -24 1 49 1 25 1 -25 1 -37 1 -22 1 46 1 32 1 -12 1 -44 1 2 1 42 1 17 1 -19 1 -51 1 -22 1 55 1 26 1 -17 1 -18 1 -16 1 51 1 41 1 -29 1 -52 1 -14 1 41 1 42 1 -21 1 -68 1 -18 1 68 1 43 1 -28 1 -53 1 -6 1 37 1 14 1 -7 1 -32 1 -4 1 34 1 10 1 -13 1 -25 1 -11 1 24 1 34 1 -8 1 -53 1 -2 1 24 1 20 1 -11 1 -53 1 -15 1 33 1 33 1 -14 1 -38 1 -3 1 57 1 43 1 -31 1 -49 1 -17 1 42 1 24 1 -20 1 -35 1 5 1 36 1 30 1 -1 1 -60 1 -7 1 37 1 45 1 -21 1 -42 1 0 1 33 1 30 1 -21 1 -49 1 -15 1 55 1 47 1 -14 1 -53 1 -3 1 56 1 34 1 -19 1 -42 1 -21 1 30 1 22 1 -8 1 -57 1 -12 1 52 1 51 1 -25 1 -82 1 -23 1 59 1 52 1 -40 1 -66 1 -12 1 54 1 42 1 -16 1 -57 1 -4 1 43 1 49 1 -31 1 -50 1 -7 1 46 1 54 1 -26 1 -50 1 -18 1 57 1 32 1 -28 1 -77 1 -21 1 58 1 31 1 -22 1 -42 1 -12 1 47 1 35 1 -14 1 -63 1 -27 1 77 1 64 1 -20 1 -74 1 -5 1 76 1 58 1 -40 1 -87 1 -26 1 65 1 45 1 -36 1 -40 1 -11 1 32 1 27 1 -1 1 -42 1 -21 1 38 1 42 1 -17 1 -54 1 -10 1 63 1 50 1 -30 1 -60 1 -33 1 51 1 29 1 -23 1 -63 1 -6 1 42 1 31 1 -5 1 -52 1 2 1 39 1 24 1 -27 1 -38 1 -11 1 26 1 33 1 -16 1 -50 1 -5 1 47 1 44 1 -10 1 -43 1 4 1 40 1 42 1 -18 1 -39 1 -9 1 20 1 35 1 -38 1 -44 1 -15 1 36 1 46 1 -25 1 -25 1 -6 1 45 1 29 1 -15 1 -26 1 -5 1 15 1 30 1 -14 1 -64 1 -6 1 35 1 38 1 -19 1 -46 1 -6 1 38 1 40 1 -12 1 -39 1 4 1 26 1 9 1 -3 1 -39 1 -14 1 33 1 47 1 -13 1 -40 1 7 1 17 1 25 1 -10 1 -63 1 -24 1 62 1 53 1 -36 1 -52 1 7 1 34 1 33 1 -28 1 -64 1 -10 1 50 1 42 1 -29 1 -63 1 -15 1 50 1 36 1 -32 1 -55 1 -9 1 30 1 40 1 -8 1 -34 1 0 1 47 1 55 1 -28 1 -86 1 -20 1 58 1 55 1 -29 1 -53 1 -2 1 49 1 49 1 -24 1 -58 1 -16 1 60 1 52 1 -24 1 -65 1 2 1 59 1 54 1 -22 1 -72 1 -15 1 38 1 29 1 -28 1 -70 1 -15 1 72 1 39 1 -24 1 -48 1 -13 1 36 1 41 1 -17 1 -74 1 -25 1 74 1 46 1 -31 1 -55 1 -1 1 30 1 28 1 -8 1 -65 1 -3 1 52 1 50 1 -21 1 -52 1 -1 1 45 1 36 1 -16 1 -56 1 -24 1 62 1 33 1 -24 1 -45 1 -19 1 38 1 27 1 -17 1 -39 1 -8 1 46 1 43 1 -14 1 -53 1 -10 1 44 1 11 1 -20 1 -49 1 -18 1 38 1 32 1 -11 1 -50 1 5 1 34 1 16 1 -3 1 -20 1 -13 1 19 1 22 1 -5 1 -37 1 -9 1 46 1 42 1 4 1 -47 1 -1 1 44 1 25 1 -14 1 -44 1 1 1 23 1 39 1 -6 1 -54 1 -3 1 51 1 26 1 -28 1 -26 1 -22 1 12 1 20 1 -19 1 -43 1 -10 1 49 1 40 1 -26 1 -44 1 -6 1 31 1 17 1 -11 1 -47 1 -7 1 53 1 30 1 -14 1 -63 1 -5 1 34 1 10 1 -32 1 -42 1 -10 1 25 1 34 1 -4 1 -34 1 1 1 36 1 37 1 -6 1 -65 1 -9 1 56 1 49 1 -14 1 -61 1 -6 1 66 1 38 1 -22 1 -58 1 -9 1 38 1 41 1 -22 1 -71 1 -7 1 60 1 49 1 -31 1 -55 1 -11 1 52 1 39 1 -21 1 -67 1 -17 1 43 1 28 1 -26 1 -62 1 -6 1 53 1 48 1 -11 1 -55 1 -9 1 64 1 42 1 -24 1 -54 1 -13 1 60 1 64 1 -31 1 -62 1 -6 1 50 1 44 1 -39 1 -77 1 -16 1 58 1 55 1 -24 1 -61 1 6 1 44 1 32 1 -20 1 -51 1 -22 1 44 1 52 1 -29 1 -72 1 -19 1 56 1 44 1 -12 1 -81 1 -28 1 76 1 64 1 -36 1 -71 1 -8 1 51 1 43 1 -32 1 -58 1 -8 1 35 1 35 1 -10 1 -49 1 -3 1 52 1 46 1 -38 1 -61 1 -8 1 36 1 26 1 -20 1 -35 1 -25 1 68 1 60 1 -28 1 -65 1 -12 1 47 1 30 1 -13 1 -75 1 -12 1 46 1 36 1 -13 1 -42 1 1 1 59 1 49 1 -16 1 -49 1 -25 1 56 1 49 1 -35 1 -89 1 -23 1 58 1 68 1 -30 1 -87 1 -13 1 57 1 45 1 -20 1 -35 1 -13 1 46 1 53 1 -26 1 -71 1 -24 1 64 1 54 1 -48 1 -59 1 -24 1 62 1 55 1 -28 1 -40 1 -5 1 49 1 30 1 -24 1 -53 1 -29 1 46 1 70 1 -35 1 -77 1 -8 1 69 1 51 1 -17 1 -68 1 -17 1 66 1 43 1 -22 1 -70 1 -22 1 61 1 59 1 -34 1 -94 1 -20 1 72 1 53 1 -30 1 -62 1 -10 1 49 1 54 1 -24 1 -56 1 -20 1 48 1 48 1 -30 1 -47 1 -1 1 51 1 46 1 -21 1 -77 1 -17 1 57 1 40 1 -15 1 -62 1 -4 1 55 1 41 1 -12 1 -64 1 -19 1 47 1 59 1 -37 1 -62 1 -11 1 39 1 46 1 -10 1 -71 1 -14 1 68 1 35 1 -15 1 -54 1 5 1 35 1 26 1 -4 1 -52 1 -20 1 45 1 32 1 -18 1 -50 1 -7 1 41 1 30 1 -11 1 -65 1 -23 1 52 1 48 1 -26 1 -66 1 -16 1 64 1 39 1 -22 1 -45 1 -7 1 54"/><path vector-effect="non-scaling-stroke" d="M0 3139l1 -34 1 -13 1 1 1 15 1 0 1 -3 1 2 1 28 1 34 1 9 1 -32 1 -14 1 9 1 17 1 2 1 -12 1 -18 1 11 1 20 1 -8 1 -13 1 -21 1 18 1 -3 1 4 1 -5 1 -30 1 14 1 28 1 -3 1 -31 1 -13 1 21 1 20 1 7 1 -8 1 -12 1 19 1 18 1 8 1 -1 1 -17 1 19 1 3 1 -16 1 -28 1 -17 1 18 1 16 1 -5 1 -14 1 12 1 -3 1 -3 1 -10 1 -16 1 -19 1 13 1 27 1 -7 1 0 1 5 1 9 1 31 1 -10 1 -27 1 -11 1 0 1 11 1 -3 1 -11 1 5 1 29 1 0 1 17 1 -20 1 -24 1 26 1 -8 1 -1 1 -7 1 5 1 41 1 1 1 15 1 -12 1 -27 1 7 1 -8 1 -17 1 -39 1 -8 1 6 1 25 1 47 1 -26 1 7 1 21 1 1 1 4 1 -40 1 -27 1 1 1 19 1 -7 1 -3 1 1 1 33 1 22 1 2 1 -18 1 -25 1 20 1 12 1 -6 1 -20 1 -11 1 20 1 18 1 10 1 -8 1 -8 1 30 1 3 1 9 1 -25 1 -2 1 24 1 1 1 3 1 -21 1 -33 1 6 1 -1 1 -16 1 -9 1 -9 1 42 1 40 1 11 1 -6 1 -12 1 -6 1 9 1 -39 1 -26 1 -9 1 13 1 10 1 9 1 10 1 0 1 12 1 4 1 3 1 -67 1 -21 1 -4 1 -5 1 1 1 -11 1 24 1 2 1 26 1 2 1 1 1 -1 1 -12 1 30 1 -8 1 -9 1 -18 1 30 1 28 1 -12 1 -4 1 -33 1 13 1 8 1 -19 1 11 1 4 1 8 1 31 1 1 1 -7 1 -5 1 4 1 -12 1 3 1 -28 1 -17 1 27 1 18 1 3 1 -16 1 -8 1 -9 1 17 1 -17 1 -35 1 -24 1 3 1 -4 1 2 1 -29 1 -16 1 50 1 23 1 0 1 -19 1 -2 1 1 1 12 1 -8 1 -6 1 -4 1 26 1 9 1 7 1 -16 1 -28 1 20 1 -5 1 10 1 -27 1 4 1 23 1 19 1 9 1 -5 1 8 1 10 1 21 1 2 1 -25 1 -25 1 14 1 25 1 5 1 -11 1 10 1 12 1 8 1 -2 1 -22 1 -20 1 -1 1 21 1 -7 1 -27 1 0 1 30 1 29 1 -12 1 -18 1 -21 1 21 1 24 1 -5 1 -21 1 9 1 27 1 -8 1 5 1 -15 1 -23 1 12 1 18 1 -20 1 -24 1 -3 1 36 1 4 1 2 1 -12 1 -15 1 24 1 30 1 -8 1 -31 1 7 1 -6 1 20 1 -8 1 -29 1 -20 1 24 1 22 1 -4 1 -9 1 -9 1 32 1 11 1 11 1 -44 1 -31 1 14 1 7 1 -2 1 -18 1 15 1 -1 1 26 1 3 1 -36 1 -20 1 -2 1 14 1 4 1 -38 1 -6 1 38 1 30 1 5 1 -25 1 -5 1 9 1 36 1 -30 1 -17 1 1 1 10 1 35 1 -3 1 -27 1 5 1 13 1 -4 1 12 1 -10 1 1 1 15 1 14 1 -3 1 2 1 -35 1 14 1 32 1 -16 1 -30 1 3 1 21 1 6 1 15 1 -18 1 -23 1 -1 1 17 1 -19 1 -35 1 -2 1 14 1 22 1 12 1 -15 1 -4 1 29 1 5 1 -19 1 -12 1 -7 1 -7 1 -3 1 3 1 -11 1 -1 1 1 1 14 1 13 1 -17 1 -18 1 21 1 31 1 -13 1 -47 1 -3 1 2 1 17 1 21 1 -28 1 5 1 29 1 35 1 5 1 -22 1 -30 1 23 1 23 1 -18 1 -36 1 -15 1 29 1 38 1 3 1 -21 1 0 1 25 1 21 1 -10 1 -24 1 8 1 7 1 4 1 11 1 -42 1 -10 1 -8 1 17 1 -10 1 -48 1 -9 1 33 1 38 1 -8 1 -17 1 -20 1 9 1 33 1 -6 1 -34 1 -10 1 21 1 36 1 0 1 -20 1 -23 1 -6 1 12 1 -18 1 -29 1 -6 1 22 1 35 1 8 1 -13 1 -28 1 28 1 17 1 -18 1 -45 1 -35 1 40 1 15 1 0 1 -23 1 -7 1 44 1 30 1 -22 1 -44 1 -4 1 16 1 38 1 3 1 -41 1 -3 1 34 1 23 1 -21 1 -38 1 -36 1 28 1 10 1 5 1 -2 1 -26 1 33 1 30 1 -18 1 -42 1 -21 1 18 1 17 1 -13 1 -11 1 -17 1 25 1 23 1 -4 1 -20 1 -19 1 16 1 12 1 -24 1 -11 1 -17 1 29 1 30 1 5 1 -6 1 -14 1 44 1 13 1 2 1 -40 1 3 1 16 1 11 1 7 1 -28 1 17 1 16 1 4 1 28 1 -16 1 -9 1 13 1 15 1 -1 1 -49 1 -14 1 17 1 10 1 -14 1 -19 1 -14 1 21 1 23 1 -9 1 -15 1 -3 1 5 1 22 1 -10 1 -12 1 -26 1 16 1 20 1 -16 1 -21 1 -17 1 14 1 19 1 -11 1 -24 1 24 1 -3 1 43 1 2 1 -10 1 4 1 15 1 11 1 0 1 -28 1 -16 1 28 1 5 1 -1 1 -32 1 -4 1 5 1 19 1 -15 1 -27 1 -19 1 21 1 34 1 -5 1 -15 1 0 1 13 1 34 1 -17 1 -52 1 10 1 -6 1 12 1 -1 1 -25 1 19 1 33 1 37 1 25 1 -32 1 -7 1 27 1 -9 1 -9 1 -34 1 -19 1 29 1 21 1 4 1 -19 1 11 1 47 1 19 1 -9 1 -30 1 -17 1 10 1 6 1 -7 1 -19 1 -3 1 0 1 38 1 9 1 -33 1 4 1 0 1 2 1 -4 1 -31 1 4 1 14 1 22 1 22 1 -33 1 4 1 14 1 13 1 -5 1 -27 1 -13 1 16 1 12 1 -4 1 -16 1 -15 1 12 1 26 1 -6 1 -37 1 -11 1 22 1 26 1 -13 1 -7 1 -18 1 16 1 -6 1 -4 1 -24 1 -22 1 19 1 21 1 3 1 -26 1 10 1 -8 1 25 1 12 1 -14 1 -9 1 15 1 38 1 -17 1 -11 1 5 1 12 1 12 1 -15 1 -2 1 -28 1 4 1 26 1 0 1 -15 1 -5 1 21 1 21 1 6 1 -35 1 -5 1 21 1 2 1 1 1 -8 1 -18 1 14 1 12 1 -8 1 -25 1 -11 1 0 1 11 1 12 1 -19 1 3 1 34 1 25 1 -6 1 -30 1 -23 1 10 1 3 1 -17 1 -23 1 -1 1 34 1 8 1 14 1 -3 1 -5 1 5 1 -20 1 -9 1 -17 1 -8 1 6 1 38 1 8 1 -16 1 -13 1 24 1 18 1 -7 1 -27 1 -26 1 26 1 13 1 -3 1 -18 1 5 1 9 1 20 1 -11 1 -22 1 -4 1 8 1 31 1 -16 1 -36 1 -14 1 -1 1 15 1 -17 1 -27 1 -15 1 40 1 19 1 14 1 1 1 -10 1 44 1 11 1 -10 1 -36 1 -21 1 -1 1 35 1 -17 1 -22 1 9 1 2 1 21 1 -7 1 -19 1 -10 1 25 1 27 1 8 1 1 1 -8 1 4 1 12 1 -13 1 -34 1 -10 1 -8 1 22 1 5 1 -32 1 0 1 10 1 30 1 -25 1 -16 1 -25 1 13 1 15 1 -10 1 -7 1 5 1 20 1 13 1 12 1 -40 1 13 1 14 1 28 1 0 1 -11 1 2 1 21 1 2 1 5 1 -13 1 -27 1 21 1 0 1 -6 1 -24 1 6 1 17 1 11 1 5 1 -15 1 -10 1 7 1 24 1 1 1 -26 1 2 1 13 1 21 1 -16 1 -7 1 -21 1 10 1 26 1 -5 1 -25 1 -18 1 24 1 26 1 2 1 -38 1 -13 1 6 1 31 1 -35 1 -6 1 6 1 14 1 11 1 -7 1 2 1 -12 1 12 1 18 1 -1 1 -19 1 11 1 11 1 30 1 -4 1 -26 1 -15 1 18 1 -15 1 -9 1 -22 1 -15 1 32 1 15 1 18 1 -18 1 -14 1 5 1 14 1 -14 1 -34 1 -13 1 13 1 17 1 -12 1 -4 1 -1 1 4 1 30 1 -21 1 -6 1 -16 1 16 1 19 1 2 1 -14 1 -20 1 45 1 -1 1 3 1 -16 1 -3 1 1 1 13 1 2 1 -39 1 11 1 20 1 35 1 13 1 -29 1 4 1 12 1 -2 1 -11 1 -22 1 -13 1 1 1 11 1 -13 1 -22 1 -7 1 16 1 20 1 -13 1 -20 1 -2 1 1 1 33 1 8 1 -14 1 -2 1 19 1 24 1 -21 1 -18 1 -9 1 2 1 16 1 10 1 -15 1 -6 1 23 1 30 1 -16 1 -18 1 -21 1 -21 1 29 1 -8 1 -29 1 -5 1 24 1 46 1 11 1 -27 1 -15 1 10 1 3 1 -16 1 -24 1 -15 1 30 1 26 1 -3 1 -13 1 -8 1 27 1 5 1 -11 1 -22 1 -5 1 30 1 17 1 17 1 -23 1 -1 1 29 1 17 1 -7 1 -36 1 -8 1 8 1 7 1 0 1 -9 1 -9 1 16 1 31 1 -5 1 -36 1 -14 1 12 1 33 1 -8 1 -42 1 -8 1 18 1 2 1 -1 1 -10 1 -21 1 12 1 10 1 13 1 -42 1 -11 1 25 1 7 1 5 1 -26 1 21 1 14 1 13 1 5 1 -20 1 -6 1 5 1 17 1 -8 1 -34 1 -17 1 -19 1 9 1 -4 1 -18 1 4 1 3 1 31 1 -6 1 5 1 -12 1 11 1 37 1 2 1 -13 1 -15 1 27 1 22 1 -11 1 -13 1 6 1 -6 1 27 1 13 1 -13 1 0 1 12 1 15 1 -1 1 -19 1 -25 1 23 1 22 1 -34 1 -7 1 7 1 6 1 23 1 -9 1 -17 1 -22 1 20 1 14 1 -11 1 -28 1 -20 1 7 1 -1 1 -2 1 -8 1 1 1 -1 1 23 1 3 1 -19 1 0 1 13 1 27 1 9 1 -9 1 -9 1 4 1 10 1 -8 1 -25 1 -4 1 10 1 11 1 7 1 -7 1 0 1 20 1 26 1 -7 1 -7 1 -10 1 9 1 9 1 -9 1 -16 1 -2 1 20 1 -4 1 11 1 -7 1 -6 1 14 1 27 1 -24 1 -15 1 2 1 11 1 35 1 -11 1 -28 1 -7 1 18 1 -1 1 -1 1 -27 1 -19 1 9 1 15 1 -32 1 -5 1 -4 1 -4 1 35 1 -1 1 -4 1 -20 1 19 1 26 1 -15 1 -19 1 -8 1 10 1 12 1 -9 1 -15 1 -2 1 22 1 24 1 -4 1 -2 1 -5 1 -9 1 14 1 -8 1 -32 1 -3 1 28 1 25 1 12 1 -13 1 -7 1 29 1 15 1 -16 1 -26 1 -7 1 -10 1 15 1 -9 1 -24 1 1 1 18 1 21 1 0 1 -28 1 -20 1 15 1 -6 1 -4 1 -23 1 -22 1 37 1 48 1 -9 1 5 1 -1 1 12 1 11 1 -12 1 -28 1 -25 1 13 1 6 1 16 1 -30 1 11 1 24 1 21 1 3 1 -14 1 -21 1 -4 1 22 1 -23 1 -6 1 4 1 15 1 21 1 4 1 -25 1 -17 1 9 1 30 1 -11 1 -25 1 -1 1 1 1 8 1 -3 1 -29 1 -11 1 25 1 21 1 5 1 -14 1 -4 1 22 1 33 1 -23 1 -8 1 3 1 -5 1 -4 1 11 1 -28 1 -8 1 26 1 16 1 25 1 -40 1 -6 1 12 1 24 1 -12 1 -30 1 -10 1 9 1 35 1 -4 1 -24 1 -15 1 11 1 3 1 -3 1 -18 1 -19 1 22 1 20 1 -3 1 -33 1 -7 1 11 1 14 1 -4 1 -37 1 5 1 8 1 32 1 -3 1 -1 1 5 1 2 1 35 1 0"/><path vector-effect="non-scaling-stroke" d="M0 3319l1 -76 1 -33 1 59 1 57 1 45 1 -44 1 -30 1 32 1 41 1 -1 1 -51 1 -35 1 20 1 54 1 38 1 -32 1 -33 1 19 1 43 1 3 1 -96 1 -53 1 -3 1 50 1 24 1 -47 1 -27 1 33 1 74 1 16 1 -45 1 -70 1 30 1 72 1 -15 1 -17 1 -29 1 25 1 67 1 8 1 -74 1 -53 1 24 1 33 1 -11 1 -47 1 -25 1 46 1 70 1 -9 1 -42 1 -43 1 -1 1 52 1 3 1 -49 1 -29 1 42 1 78 1 2 1 -52 1 -47 1 9 1 55 1 4 1 -69 1 -44 1 63 1 53 1 8 1 -30 1 -55 1 37 1 27 1 -8 1 -50 1 -67 1 28 1 91 1 9 1 -79 1 -32 1 37 1 95 1 3 1 -48 1 -15 1 40 1 58 1 14 1 -70 1 -68 1 37 1 39 1 1 1 -54 1 -46 1 33 1 67 1 17 1 -29 1 -37 1 17 1 40 1 0 1 -57 1 -58 1 32 1 56 1 49 1 -41 1 -35 1 39 1 69 1 4 1 -92 1 -47 1 21 1 91 1 8 1 -45 1 -45 1 42 1 65 1 -1 1 -56 1 -83 1 39 1 62 1 12 1 -51 1 -30 1 31 1 38 1 20 1 -60 1 -47 1 30 1 31 1 4 1 -36 1 -21 1 20 1 77 1 -19 1 -27 1 -33 1 -12 1 76 1 -4 1 -65 1 -45 1 26 1 46 1 26 1 -61 1 -31 1 -3 1 70 1 21 1 -49 1 14 1 16 1 51 1 -5 1 -43 1 -25 1 1 1 39 1 4 1 -38 1 -45 1 41 1 48 1 11 1 -26 1 -54 1 47 1 53 1 10 1 -44 1 -67 1 28 1 60 1 -21 1 -36 1 -31 1 32 1 40 1 38 1 -31 1 -50 1 32 1 75 1 -16 1 -96 1 -32 1 -27 1 33 1 -12 1 -48 1 -11 1 40 1 46 1 49 1 -23 1 -44 1 30 1 54 1 -5 1 -65 1 -20 1 9 1 23 1 -3 1 -49 1 -53 1 32 1 53 1 -15 1 -40 1 -21 1 -4 1 91 1 30 1 -61 1 -19 1 31 1 75 1 -1 1 -34 1 -32 1 17 1 62 1 -4 1 -21 1 -23 1 7 1 46 1 7 1 -26 1 -36 1 10 1 67 1 31 1 -70 1 -51 1 38 1 35 1 -9 1 -48 1 -14 1 11 1 30 1 28 1 -58 1 -44 1 37 1 64 1 -1 1 -69 1 4 1 -2 1 11 1 49 1 -48 1 -23 1 10 1 59 1 15 1 -59 1 -24 1 23 1 52 1 2 1 -65 1 -33 1 30 1 25 1 14 1 -26 1 -38 1 -8 1 71 1 36 1 -59 1 -46 1 72 1 44 1 9 1 -25 1 -43 1 9 1 25 1 12 1 -69 1 -46 1 5 1 49 1 12 1 -58 1 -29 1 54 1 42 1 26 1 -43 1 -47 1 25 1 43 1 -13 1 -61 1 3 1 -5 1 40 1 17 1 -55 1 -23 1 24 1 44 1 14 1 -34 1 -25 1 10 1 42 1 20 1 -45 1 -32 1 16 1 47 1 30 1 -52 1 -34 1 34 1 27 1 17 1 -45 1 -23 1 42 1 15 1 14 1 -27 1 -42 1 19 1 51 1 2 1 -60 1 -24 1 21 1 19 1 14 1 -23 1 -20 1 41 1 40 1 11 1 -17 1 -40 1 10 1 40 1 -9 1 -64 1 -44 1 6 1 25 1 -7 1 -49 1 -41 1 31 1 58 1 3 1 3 1 -18 1 10 1 79 1 6 1 -63 1 -36 1 28 1 31 1 5 1 -22 1 -51 1 30 1 59 1 17 1 -39 1 -28 1 8 1 38 1 -5 1 -27 1 13 1 2 1 70 1 15 1 -33 1 -20 1 5 1 34 1 3 1 -74 1 -41 1 20 1 41 1 11 1 -69 1 -45 1 61 1 74 1 9 1 -40 1 -62 1 45 1 27 1 10 1 -58 1 -58 1 20 1 44 1 7 1 -38 1 -38 1 29 1 106 1 -12 1 -42 1 -12 1 -2 1 64 1 -16 1 -54 1 -26 1 33 1 78 1 16 1 -56 1 -60 1 39 1 4 1 33 1 -64 1 -61 1 31 1 97 1 38 1 -83 1 -29 1 13 1 70 1 -40 1 -51 1 -51 1 46 1 61 1 -7 1 -27 1 -27 1 26 1 50 1 37 1 -77 1 -43 1 29 1 54 1 0 1 -71 1 -42 1 39 1 76 1 -18 1 -42 1 -58 1 34 1 41 1 -14 1 -32 1 -44 1 47 1 54 1 43 1 -56 1 -32 1 28 1 72 1 -5 1 -70 1 -42 1 8 1 49 1 3 1 -46 1 -51 1 32 1 64 1 40 1 -48 1 -28 1 17 1 62 1 22 1 -64 1 -23 1 31 1 52 1 7 1 -58 1 -36 1 12 1 31 1 -5 1 -33 1 -31 1 39 1 57 1 7 1 -27 1 -39 1 43 1 39 1 17 1 -66 1 -50 1 63 1 13 1 -2 1 -12 1 -36 1 14 1 16 1 13 1 -44 1 -40 1 17 1 42 1 10 1 -30 1 -22 1 24 1 25 1 0 1 -35 1 -51 1 37 1 38 1 10 1 -48 1 18 1 18 1 28 1 9 1 -58 1 -33 1 39 1 39 1 -11 1 -33 1 -32 1 41 1 6 1 19 1 -25 1 -19 1 16 1 30 1 -14 1 -12 1 -15 1 -33 1 35 1 0 1 -38 1 -30 1 40 1 32 1 16 1 31 1 8 1 -4 1 42 1 4 1 -48 1 -48 1 -18 1 35 1 -7 1 -41 1 -10 1 38 1 23 1 29 1 0 1 -67 1 44 1 51 1 -11 1 -51 1 -33 1 3 1 42 1 20 1 -42 1 -15 1 21 1 75 1 -30 1 -52 1 -37 1 15 1 32 1 25 1 -38 1 -24 1 53 1 24 1 24 1 -53 1 -20 1 12 1 67 1 12 1 -42 1 -17 1 29 1 67 1 -12 1 -58 1 -43 1 3 1 35 1 8 1 -53 1 -29 1 14 1 20 1 8 1 -44 1 -60 1 14 1 43 1 15 1 -40 1 -31 1 56 1 110 1 25 1 -75 1 -49 1 23 1 42 1 1 1 -53 1 -49 1 41 1 66 1 23 1 -76 1 -53 1 21 1 43 1 19 1 -70 1 -39 1 39 1 115 1 0 1 -43 1 -6 1 -13 1 49 1 -9 1 -70 1 -67 1 59 1 56 1 13 1 -34 1 -51 1 23 1 42 1 15 1 -68 1 -53 1 56 1 112 1 37 1 -44 1 -22 1 18 1 17 1 -26 1 -78 1 -91 1 14 1 59 1 8 1 -18 1 -23 1 37 1 59 1 23 1 -52 1 -14 1 16 1 59 1 -2 1 -59 1 -36 1 19 1 69 1 -25 1 -60 1 -61 1 36 1 67 1 4 1 -67 1 -36 1 58 1 81 1 14 1 -46 1 -34 1 11 1 49 1 1 1 -58 1 -38 1 0 1 34 1 2 1 -15 1 -27 1 38 1 49 1 29 1 -52 1 -60 1 37 1 21 1 19 1 -72 1 -25 1 12 1 106 1 -6 1 -55 1 7 1 5 1 40 1 9 1 -31 1 -31 1 24 1 53 1 39 1 -52 1 -52 1 6 1 41 1 -18 1 -37 1 -62 1 46 1 55 1 8 1 -33 1 -17 1 19 1 29 1 -7 1 -60 1 -35 1 13 1 68 1 -9 1 -16 1 -40 1 23 1 67 1 6 1 -81 1 -60 1 45 1 65 1 -20 1 -38 1 -32 1 15 1 59 1 4 1 -54 1 -26 1 51 1 64 1 35 1 -43 1 -5 1 20 1 2 1 -18 1 -48 1 -59 1 -10 1 63 1 20 1 -32 1 0 1 26 1 71 1 18 1 -71 1 -43 1 29 1 38 1 -11 1 -36 1 -50 1 25 1 55 1 15 1 -44 1 -47 1 50 1 51 1 21 1 -47 1 -38 1 45 1 55 1 7 1 -61 1 -60 1 1 1 86 1 11 1 -58 1 -39 1 28 1 63 1 -9 1 -52 1 -33 1 8 1 45 1 11 1 -40 1 -20 1 41 1 67 1 -20 1 -68 1 -58 1 15 1 46 1 -19 1 -43 1 -32 1 45 1 84 1 39 1 -35 1 -28 1 50 1 10 1 0 1 -66 1 -51 1 20 1 51 1 0 1 -68 1 -3 1 28 1 61 1 19 1 -65 1 -38 1 28 1 35 1 17 1 -49 1 -18 1 22 1 41 1 2 1 -16 1 -28 1 6 1 84 1 7 1 -56 1 -63 1 28 1 63 1 -8 1 -82 1 -34 1 11 1 40 1 10 1 -62 1 -20 1 25 1 74 1 21 1 -75 1 -44 1 36 1 46 1 9 1 -38 1 -22 1 21 1 91 1 6 1 -55 1 -8 1 25 1 62 1 -32 1 -26 1 -51 1 15 1 64 1 -16 1 -35 1 -34 1 12 1 69 1 2 1 -67 1 -23 1 12 1 64 1 22 1 -54 1 -40 1 39 1 58 1 -3 1 -48 1 -34 1 16 1 81 1 14 1 -42 1 -35 1 20 1 54 1 -14 1 -66 1 -38 1 0 1 53 1 15 1 -35 1 -13 1 33 1 70 1 -16 1 -35 1 -86 1 28 1 56 1 -27 1 -67 1 -23 1 29 1 57 1 26 1 -59 1 -37 1 59 1 86 1 10 1 -42 1 -65 1 43 1 18 1 7 1 -89 1 -48 1 43 1 64 1 43 1 -52 1 -25 1 40 1 82 1 1 1 -71 1 -60 1 33 1 22 1 5 1 -21 1 -29 1 33 1 42 1 23 1 -58 1 -56 1 21 1 41 1 30 1 -72 1 -43 1 41 1 79 1 8 1 -80 1 -32 1 6 1 77 1 11 1 -59 1 -26 1 52 1 70 1 22 1 -49 1 -68 1 -3 1 37 1 7 1 -73 1 -25 1 20 1 48 1 44 1 -28 1 -35 1 26 1 64 1 14 1 -78 1 -76 1 51 1 91 1 13 1 -73 1 -60 1 33 1 70 1 -10 1 -47 1 -41 1 29 1 81 1 -3 1 -38 1 -35 1 21 1 45 1 -8 1 -48 1 -37 1 43 1 60 1 19 1 -56 1 -65 1 39 1 68 1 -2 1 -64 1 -45 1 22 1 61 1 9 1 -63 1 -51 1 45 1 64 1 9 1 -32 1 -15 1 31 1 41 1 -3 1 -34 1 -42 1 7 1 56 1 5 1 -50 1 -30 1 20 1 62 1 46 1 -78 1 -26 1 27 1 16 1 -20 1 -52 1 -42 1 -8 1 40 1 16 1 -48 1 -16 1 45 1 53 1 26 1 -22 1 -2 1 16 1 38 1 -8 1 -33 1 -25 1 15 1 37 1 5 1 -48 1 -25 1 31 1 84 1 -14 1 -74 1 -33 1 -21 1 26 1 -9 1 -47 1 -25 1 54 1 49 1 43 1 -8 1 -14 1 31 1 9 1 5 1 -37 1 -49 1 13 1 15 1 -5 1 -45 1 -15 1 25 1 46 1 10 1 -25 1 -7 1 11 1 40 1 9 1 -36 1 -25 1 28 1 24 1 4 1 -45 1 -34 1 12 1 47 1 -12 1 -46 1 -37 1 22 1 40 1 28 1 -36 1 -39 1 32 1 55 1 23 1 -69 1 -29 1 -2 1 57 1 14 1 -64 1 -15 1 59 1 64 1 13 1 -46 1 -74 1 1 1 54 1 -11 1 -49 1 -30 1 39 1 77 1 34 1 -21 1 -49 1 30 1 31 1 -37 1 -71 1 -76 1 28 1 51 1 16 1 -8 1 -28 1 75 1 77 1 -17 1 -47 1 -35 1 -35 1 43 1 4 1 -89 1 -22 1 50 1 52 1 31 1 -23 1 -39 1 25 1 84 1 15 1 -103 1 -60 1 19 1 62 1 13 1 -65 1 -28 1 38 1 38 1 2 1 -34 1 -43 1 12 1 65 1 -9 1 -34 1 -3 1 26 1 66 1 18 1 -54 1 -47 1 0 1 53 1 -3"/><path vector-effect="non-scaling-stroke" d="M0 3457l1 -21 1 -14 1 28 1 33 1 -20 1 -7 1 -20 1 26 1 28 1 -4 1 -23 1 -14 1 23 1 34 1 -8 1 -39 1 -22 1 23 1 4 1 -15 1 -32 1 -10 1 37 1 23 1 7 1 -16 1 -12 1 19 1 1 1 4 1 -27 1 -17 1 36 1 13 1 15 1 -24 1 8 1 28 1 17 1 -7 1 -26 1 -24 1 15 1 17 1 -26 1 -13 1 -20 1 11 1 44 1 -3 1 -34 1 0 1 34 1 14 1 -17 1 -31 1 -30 1 7 1 13 1 2 1 -9 1 8 1 11 1 15 1 -4 1 -28 1 -1 1 -3 1 32 1 -8 1 -25 1 22 1 16 1 31 1 4 1 -27 1 -16 1 23 1 17 1 -10 1 -16 1 -9 1 20 1 25 1 -23 1 -32 1 -4 1 -7 1 9 1 -13 1 -6 1 13 1 29 1 34 1 -1 1 -22 1 -5 1 6 1 12 1 -24 1 -22 1 -7 1 21 1 50 1 3 1 -16 1 -13 1 31 1 -3 1 -9 1 -17 1 -20 1 21 1 4 1 11 1 -19 1 -12 1 10 1 24 1 6 1 -41 1 -8 1 17 1 32 1 -8 1 -19 1 -7 1 -5 1 31 1 -11 1 -36 1 -22 1 28 1 20 1 -8 1 -23 1 -14 1 24 1 1 1 -2 1 -10 1 -5 1 19 1 31 1 9 1 -13 1 -7 1 19 1 14 1 -44 1 -23 1 -17 1 6 1 26 1 4 1 -6 1 0 1 35 1 19 1 -6 1 -26 1 -22 1 19 1 26 1 -12 1 -28 1 -6 1 20 1 34 1 0 1 -30 1 3 1 24 1 20 1 5 1 -18 1 -26 1 11 1 9 1 -10 1 -35 1 -23 1 30 1 30 1 -5 1 -24 1 3 1 19 1 30 1 -2 1 -32 1 -15 1 17 1 17 1 7 1 -25 1 -9 1 6 1 10 1 -13 1 -28 1 -12 1 -1 1 31 1 -14 1 -16 1 -13 1 15 1 17 1 -10 1 -20 1 -22 1 8 1 22 1 11 1 -30 1 -8 1 20 1 28 1 -3 1 -46 1 -17 1 6 1 4 1 -9 1 -12 1 -14 1 25 1 37 1 -3 1 -33 1 6 1 20 1 8 1 9 1 -8 1 -6 1 26 1 34 1 0 1 -18 1 -9 1 6 1 12 1 2 1 -20 1 4 1 19 1 34 1 -10 1 -15 1 -14 1 11 1 12 1 -9 1 -7 1 -2 1 21 1 27 1 17 1 -25 1 -10 1 4 1 -3 1 -14 1 -7 1 -16 1 4 1 12 1 21 1 -28 1 -19 1 24 1 21 1 -12 1 -29 1 -14 1 13 1 36 1 -7 1 -7 1 -9 1 29 1 14 1 -15 1 -21 1 -27 1 7 1 6 1 -13 1 -19 1 4 1 36 1 26 1 7 1 -24 1 6 1 11 1 0 1 -5 1 -30 1 -13 1 -10 1 33 1 -6 1 -13 1 7 1 11 1 14 1 -16 1 -13 1 -25 1 -8 1 25 1 -9 1 -14 1 7 1 23 1 31 1 6 1 -18 1 -9 1 10 1 4 1 -12 1 -19 1 -11 1 12 1 7 1 8 1 -11 1 -24 1 20 1 25 1 7 1 -46 1 -3 1 22 1 15 1 3 1 -15 1 -3 1 17 1 22 1 -6 1 -9 1 -9 1 22 1 -2 1 -5 1 -25 1 -16 1 12 1 0 1 1 1 -23 1 4 1 10 1 20 1 -7 1 -23 1 -10 1 16 1 12 1 -6 1 -14 1 -16 1 27 1 14 1 5 1 -13 1 -12 1 11 1 12 1 3 1 -21 1 -19 1 22 1 9 1 7 1 -20 1 -12 1 19 1 17 1 9 1 -21 1 -2 1 15 1 29 1 -12 1 -28 1 -15 1 13 1 13 1 1 1 -23 1 -12 1 18 1 36 1 1 1 -30 1 6 1 10 1 8 1 -13 1 -22 1 1 1 17 1 7 1 9 1 -4 1 -6 1 12 1 23 1 -13 1 -38 1 -20 1 8 1 -10 1 3 1 -16 1 -9 1 17 1 28 1 -3 1 -31 1 2 1 5 1 16 1 -15 1 -24 1 -10 1 19 1 9 1 -7 1 -39 1 -5 1 25 1 14 1 3 1 -30 1 -5 1 36 1 21 1 0 1 -17 1 -25 1 20 1 22 1 -5 1 -14 1 4 1 10 1 23 1 -1 1 -32 1 -9 1 30 1 21 1 -13 1 -31 1 -7 1 15 1 22 1 -7 1 -26 1 -11 1 -8 1 11 1 -2 1 -19 1 3 1 22 1 8 1 -5 1 -31 1 -10 1 15 1 17 1 -6 1 -29 1 3 1 35 1 22 1 11 1 -11 1 -9 1 18 1 18 1 4 1 -39 1 -20 1 19 1 23 1 -3 1 -44 1 -18 1 26 1 13 1 0 1 -33 1 -19 1 22 1 30 1 3 1 -38 1 8 1 17 1 22 1 -7 1 -24 1 9 1 14 1 22 1 -7 1 -19 1 -4 1 13 1 15 1 -5 1 -27 1 -12 1 25 1 14 1 -12 1 -13 1 -7 1 17 1 23 1 -3 1 -1 1 0 1 12 1 25 1 -7 1 -27 1 -19 1 21 1 7 1 -20 1 -23 1 -21 1 6 1 22 1 5 1 -26 1 10 1 5 1 26 1 -2 1 -37 1 1 1 33 1 9 1 -9 1 -24 1 -22 1 33 1 23 1 0 1 -17 1 2 1 13 1 18 1 -5 1 -8 1 -17 1 0 1 16 1 -3 1 -17 1 5 1 22 1 18 1 1 1 -19 1 -21 1 13 1 36 1 -31 1 -19 1 -14 1 23 1 38 1 -3 1 -4 1 -21 1 10 1 27 1 -28 1 -29 1 -21 1 14 1 18 1 11 1 -5 1 -13 1 33 1 17 1 -10 1 -35 1 1 1 5 1 11 1 -2 1 -14 1 8 1 28 1 35 1 -10 1 -17 1 -12 1 -1 1 15 1 -30 1 -10 1 8 1 10 1 16 1 3 1 -8 1 -14 1 7 1 20 1 -16 1 -30 1 5 1 -5 1 26 1 2 1 -17 1 -9 1 27 1 5 1 -13 1 -12 1 -25 1 13 1 6 1 -7 1 -11 1 -5 1 15 1 32 1 -13 1 -23 1 -14 1 7 1 7 1 -15 1 -15 1 -3 1 20 1 25 1 -3 1 2 1 1 1 17 1 32 1 -5 1 -7 1 -5 1 13 1 9 1 -18 1 -20 1 -20 1 -2 1 25 1 -1 1 -5 1 -1 1 28 1 54 1 5 1 -32 1 5 1 10 1 10 1 -11 1 -27 1 -15 1 6 1 25 1 -11 1 -25 1 -16 1 15 1 14 1 4 1 -22 1 -23 1 9 1 25 1 -17 1 -27 1 -6 1 -5 1 10 1 -1 1 -29 1 -13 1 15 1 13 1 2 1 -18 1 -2 1 26 1 18 1 -11 1 -19 1 -24 1 34 1 15 1 -5 1 -15 1 -17 1 30 1 24 1 -13 1 -40 1 -7 1 5 1 22 1 -7 1 -27 1 -3 1 26 1 29 1 -4 1 -21 1 -10 1 21 1 25 1 -7 1 -46 1 -23 1 33 1 22 1 -5 1 -19 1 5 1 22 1 34 1 -1 1 -26 1 -10 1 8 1 26 1 -10 1 -42 1 -18 1 37 1 2 1 -3 1 -7 1 -5 1 15 1 17 1 10 1 -16 1 -29 1 20 1 13 1 -19 1 -40 1 -27 1 35 1 -5 1 0 1 -5 1 0 1 25 1 36 1 -5 1 -19 1 -17 1 30 1 34 1 -31 1 -36 1 -4 1 24 1 -1 1 12 1 -14 1 -7 1 13 1 33 1 1 1 -31 1 -7 1 11 1 19 1 -14 1 -20 1 -7 1 10 1 19 1 1 1 -30 1 -14 1 30 1 20 1 4 1 -31 1 -6 1 13 1 21 1 0 1 -30 1 -3 1 25 1 21 1 -11 1 -1 1 -22 1 11 1 14 1 -5 1 -33 1 -18 1 26 1 17 1 -11 1 -5 1 -8 1 14 1 26 1 -12 1 -11 1 -18 1 28 1 27 1 -12 1 -44 1 -9 1 10 1 11 1 10 1 -13 1 -5 1 25 1 27 1 -18 1 -7 1 -7 1 -1 1 12 1 -30 1 -20 1 1 1 -5 1 25 1 10 1 -25 1 4 1 25 1 11 1 3 1 -25 1 -16 1 17 1 27 1 -1 1 -28 1 -15 1 26 1 8 1 -10 1 0 1 -16 1 6 1 23 1 -10 1 -27 1 -5 1 5 1 20 1 -9 1 -28 1 -6 1 19 1 22 1 -8 1 -11 1 -6 1 26 1 20 1 6 1 -23 1 1 1 18 1 -8 1 0 1 -40 1 -8 1 -1 1 3 1 -9 1 -14 1 5 1 10 1 17 1 7 1 -4 1 -13 1 12 1 15 1 -8 1 -31 1 8 1 18 1 -3 1 7 1 -11 1 -13 1 20 1 21 1 -9 1 -24 1 14 1 5 1 22 1 10 1 -8 1 -6 1 8 1 13 1 -20 1 -15 1 -16 1 11 1 7 1 13 1 -10 1 -4 1 31 1 14 1 -12 1 -12 1 -16 1 13 1 14 1 -7 1 -5 1 -5 1 16 1 13 1 12 1 -15 1 -15 1 13 1 25 1 -16 1 -23 1 -7 1 18 1 27 1 -10 1 -10 1 -10 1 15 1 15 1 -4 1 -31 1 -3 1 26 1 15 1 7 1 -19 1 10 1 15 1 26 1 -11 1 -43 1 -9 1 -2 1 24 1 -15 1 -30 1 10 1 20 1 15 1 -4 1 -29 1 -25 1 10 1 5 1 1 1 -37 1 -15 1 28 1 25 1 13 1 -41 1 -4 1 14 1 13 1 -14 1 -23 1 -16 1 10 1 28 1 -4 1 -28 1 -21 1 30 1 36 1 0 1 -36 1 -9 1 17 1 18 1 -18 1 -23 1 -26 1 22 1 20 1 -7 1 -7 1 14 1 46 1 42 1 17 1 -43 1 -1 1 22 1 18 1 -32 1 -46 1 -13 1 17 1 34 1 8 1 -16 1 2 1 23 1 27 1 -4 1 -35 1 -19 1 6 1 20 1 -12 1 -41 1 -26 1 39 1 28 1 -4 1 -22 1 -16 1 26 1 32 1 -13 1 -27 1 -9 1 27 1 23 1 -11 1 -28 1 -15 1 55 1 18 1 -3 1 -16 1 -5 1 28 1 9 1 -17 1 -18 1 -12 1 -16 1 32 1 4 1 -40 1 1 1 30 1 36 1 1 1 -35 1 7 1 12 1 17 1 -10 1 -40 1 -12 1 30 1 10 1 -20 1 -8 1 -19 1 23 1 17 1 -13 1 -43 1 -12 1 25 1 30 1 -2 1 -16 1 2 1 12 1 19 1 -14 1 -13 1 -26 1 4 1 10 1 -5 1 -12 1 -7 1 25 1 20 1 10 1 -10 1 -20 1 18 1 6 1 -19 1 -30 1 -25 1 24 1 24 1 13 1 -24 1 16 1 21 1 22 1 2 1 -48 1 -2 1 11 1 31 1 -5 1 -8 1 -2 1 13 1 36 1 -15 1 -42 1 -4 1 7 1 16 1 16 1 -26 1 14 1 21 1 21 1 -10 1 -34 1 -24 1 -3 1 14 1 -8 1 -15 1 -12 1 34 1 15 1 -10 1 -19 1 -8 1 14 1 4 1 2 1 -14 1 17 1 4 1 20 1 2 1 -35 1 -9 1 -4 1 26 1 -19 1 -21 1 -6 1 10 1 29 1 0 1 -28 1 -13 1 6 1 18 1 -7 1 -10 1 -6 1 -4 1 42 1 -12 1 -47 1 -1 1 22 1 19 1 16 1 -18 1 4 1 38 1 38 1 2 1 -22 1 -17 1 10 1 8 1 -8 1 -28 1 -21 1 27 1 14 1 -9 1 -11 1 -1 1 19 1 31 1 -3 1 -8 1 -1 1 21 1 11 1 -6 1 -24 1 -24 1 -8 1 15 1 -9 1 -31 1 -17 1 20 1 34 1 -3 1 -33 1 -15 1 30 1 19 1 -4 1 -15 1 4 1 29 1 22 1 -12 1 -15 1 -18 1 10 1 11 1 -3"/><path vector-effect="non-scaling-stroke" d="M0 3640l1 -13 1 4 1 15 1 9 1 -42 1 -29 1 6 1 26 1 17 1 -19 1 2 1 13 1 33 1 21 1 8 1 -5 1 0 1 35 1 -14 1 -16 1 -40 1 -10 1 16 1 -1 1 -13 1 -15 1 4 1 14 1 18 1 -27 1 10 1 -5 1 27 1 20 1 -36 1 -11 1 4 1 36 1 -1 1 -5 1 -36 1 -4 1 39 1 -2 1 -46 1 -46 1 26 1 18 1 20 1 -23 1 -17 1 15 1 38 1 20 1 -46 1 -16 1 0 1 42 1 -7 1 -21 1 -6 1 14 1 29 1 2 1 -23 1 -21 1 11 1 18 1 19 1 -11 1 -35 1 19 1 42 1 -6 1 -17 1 -21 1 6 1 10 1 4 1 -21 1 -20 1 15 1 31 1 13 1 -24 1 -34 1 17 1 28 1 14 1 -18 1 -8 1 23 1 38 1 -1 1 -39 1 -36 1 -12 1 20 1 -7 1 2 1 -44 1 37 1 40 1 20 1 -4 1 -22 1 7 1 21 1 18 1 -37 1 -27 1 7 1 36 1 17 1 -19 1 -40 1 11 1 23 1 6 1 -28 1 -20 1 10 1 33 1 16 1 -9 1 -17 1 10 1 24 1 -17 1 -28 1 -28 1 13 1 21 1 -1 1 -1 1 -16 1 20 1 42 1 -12 1 -21 1 -8 1 -13 1 13 1 0 1 -40 1 -4 1 -5 1 21 1 3 1 -33 1 -28 1 2 1 39 1 7 1 -21 1 5 1 21 1 17 1 34 1 -18 1 -38 1 4 1 19 1 -11 1 -21 1 -3 1 -8 1 25 1 10 1 -22 1 -10 1 14 1 36 1 -8 1 -5 1 -17 1 9 1 22 1 5 1 -18 1 -26 1 13 1 2 1 2 1 -16 1 -29 1 12 1 27 1 16 1 -23 1 -31 1 18 1 7 1 8 1 -15 1 -38 1 14 1 24 1 13 1 -8 1 -9 1 27 1 -4 1 5 1 -5 1 -29 1 -2 1 5 1 6 1 -13 1 -23 1 6 1 28 1 10 1 -11 1 -11 1 3 1 24 1 6 1 -29 1 -16 1 -11 1 16 1 2 1 -26 1 -15 1 18 1 17 1 28 1 -11 1 5 1 13 1 -4 1 25 1 -21 1 -35 1 -5 1 40 1 -5 1 -5 1 -3 1 2 1 35 1 3 1 -15 1 -31 1 17 1 18 1 -7 1 8 1 -22 1 24 1 19 1 21 1 -9 1 -22 1 16 1 9 1 27 1 -28 1 -12 1 15 1 4 1 26 1 -8 1 -29 1 -5 1 10 1 7 1 -22 1 -9 1 2 1 39 1 8 1 -15 1 -29 1 3 1 41 1 -22 1 -37 1 -21 1 16 1 7 1 25 1 -19 1 -19 1 17 1 20 1 13 1 -28 1 -18 1 1 1 21 1 -5 1 -31 1 -24 1 -3 1 42 1 3 1 -30 1 -13 1 16 1 33 1 3 1 1 1 -36 1 -14 1 46 1 1 1 -47 1 -29 1 26 1 20 1 -6 1 -11 1 -24 1 0 1 38 1 27 1 -29 1 -16 1 31 1 26 1 5 1 -12 1 -10 1 -4 1 22 1 24 1 -41 1 -24 1 13 1 30 1 24 1 -20 1 -20 1 14 1 30 1 1 1 -22 1 -31 1 8 1 18 1 15 1 -17 1 -18 1 17 1 43 1 9 1 -40 1 -16 1 -1 1 -4 1 -7 1 -16 1 -39 1 15 1 23 1 -6 1 -21 1 -9 1 2 1 16 1 17 1 -25 1 -22 1 7 1 27 1 12 1 -4 1 -9 1 21 1 21 1 3 1 -28 1 -40 1 -5 1 31 1 12 1 -27 1 -35 1 23 1 41 1 13 1 -3 1 -28 1 10 1 29 1 0 1 -27 1 -2 1 -10 1 30 1 18 1 -16 1 -6 1 17 1 28 1 9 1 -8 1 -22 1 -1 1 32 1 28 1 -39 1 -17 1 -1 1 43 1 -15 1 -25 1 -22 1 -10 1 19 1 3 1 -6 1 -55 1 38 1 27 1 6 1 -21 1 -24 1 4 1 21 1 2 1 -33 1 -6 1 -7 1 21 1 -7 1 -19 1 -25 1 -2 1 29 1 11 1 -30 1 -26 1 21 1 21 1 13 1 -4 1 -22 1 7 1 52 1 -9 1 -23 1 -24 1 8 1 37 1 10 1 -9 1 -9 1 7 1 24 1 20 1 -51 1 -26 1 -4 1 16 1 -11 1 -16 1 -19 1 25 1 46 1 3 1 -10 1 -28 1 10 1 20 1 -10 1 -33 1 -26 1 -9 1 47 1 -1 1 -11 1 -4 1 30 1 32 1 -20 1 -19 1 -37 1 1 1 20 1 -3 1 -21 1 -11 1 30 1 35 1 7 1 -15 1 -19 1 3 1 12 1 9 1 -57 1 -2 1 9 1 9 1 11 1 -34 1 -9 1 6 1 31 1 22 1 -3 1 -14 1 27 1 38 1 14 1 -20 1 -25 1 4 1 7 1 4 1 -20 1 -24 1 22 1 28 1 2 1 -18 1 -24 1 -1 1 0 1 -3 1 -2 1 -25 1 14 1 28 1 13 1 -8 1 -31 1 32 1 11 1 2 1 -2 1 -9 1 18 1 1 1 2 1 -7 1 -14 1 -11 1 12 1 14 1 -27 1 -15 1 26 1 25 1 10 1 -17 1 -17 1 2 1 19 1 -1 1 -27 1 -19 1 16 1 41 1 -3 1 -13 1 -14 1 -1 1 32 1 -7 1 -34 1 -9 1 3 1 36 1 12 1 -21 1 -10 1 12 1 22 1 -11 1 -24 1 -32 1 11 1 41 1 25 1 -17 1 -16 1 17 1 12 1 -6 1 -41 1 -11 1 -2 1 23 1 31 1 -20 1 5 1 11 1 35 1 12 1 -28 1 -22 1 9 1 9 1 8 1 -12 1 -30 1 20 1 40 1 8 1 -41 1 -20 1 -7 1 30 1 -11 1 -20 1 -10 1 -17 1 36 1 9 1 -17 1 -18 1 18 1 23 1 15 1 3 1 -18 1 27 1 25 1 6 1 -43 1 -36 1 11 1 24 1 10 1 -40 1 -16 1 10 1 34 1 -9 1 -14 1 -25 1 6 1 25 1 2 1 -24 1 -20 1 18 1 20 1 10 1 -37 1 -10 1 -3 1 31 1 15 1 -25 1 -22 1 36 1 30 1 -24 1 -24 1 -36 1 11 1 31 1 8 1 -6 1 -16 1 34 1 45 1 21 1 -36 1 -17 1 5 1 13 1 10 1 -37 1 -14 1 1 1 59 1 -17 1 -11 1 -26 1 2 1 50 1 -19 1 -44 1 -23 1 9 1 17 1 17 1 -10 1 -15 1 -2 1 37 1 6 1 -30 1 -51 1 20 1 20 1 -11 1 -20 1 -25 1 24 1 51 1 21 1 -25 1 -7 1 4 1 29 1 3 1 -39 1 -17 1 11 1 15 1 18 1 -20 1 -22 1 15 1 39 1 0 1 -26 1 -13 1 -7 1 24 1 8 1 -36 1 -15 1 -5 1 19 1 19 1 -50 1 -28 1 2 1 45 1 22 1 -1 1 -28 1 18 1 48 1 -21 1 -12 1 -43 1 2 1 17 1 14 1 -9 1 -4 1 12 1 31 1 22 1 -29 1 -15 1 -2 1 12 1 -1 1 -16 1 -27 1 6 1 42 1 19 1 -36 1 -18 1 -2 1 33 1 -4 1 -31 1 -28 1 13 1 52 1 11 1 -19 1 -19 1 23 1 13 1 -10 1 -43 1 -14 1 1 1 24 1 5 1 -27 1 -5 1 22 1 25 1 -4 1 -8 1 -7 1 -18 1 27 1 -7 1 -26 1 -14 1 -12 1 29 1 10 1 0 1 -13 1 27 1 36 1 18 1 -22 1 -20 1 -16 1 23 1 28 1 -26 1 -23 1 15 1 31 1 -4 1 -24 1 -11 1 5 1 5 1 2 1 -6 1 1 1 5 1 39 1 11 1 -6 1 -19 1 -9 1 19 1 -1 1 -32 1 -22 1 8 1 26 1 16 1 -21 1 -13 1 4 1 -2 1 -7 1 -23 1 -14 1 7 1 15 1 16 1 -8 1 -13 1 0 1 33 1 -22 1 -12 1 -4 1 -8 1 28 1 22 1 -9 1 -11 1 15 1 -15 1 2 1 -18 1 -7 1 -4 1 4 1 24 1 -21 1 -15 1 20 1 33 1 7 1 -36 1 -13 1 9 1 25 1 7 1 -18 1 -26 1 2 1 36 1 -11 1 -27 1 -30 1 26 1 23 1 10 1 -41 1 -24 1 35 1 26 1 16 1 -24 1 5 1 18 1 33 1 2 1 -14 1 -20 1 12 1 29 1 -26 1 -45 1 -31 1 4 1 31 1 28 1 -8 1 -2 1 14 1 29 1 9 1 -18 1 -36 1 -3 1 57 1 -5 1 -32 1 -10 1 15 1 17 1 4 1 -14 1 -46 1 13 1 12 1 1 1 -20 1 -25 1 13 1 53 1 6 1 -50 1 -24 1 -1 1 24 1 13 1 -18 1 -15 1 25 1 29 1 37 1 -34 1 -46 1 1 1 6 1 8 1 -32 1 -6 1 45 1 40 1 13 1 -4 1 -7 1 -32 1 8 1 -8 1 -36 1 -35 1 -1 1 39 1 24 1 13 1 -7 1 10 1 35 1 17 1 -44 1 -21 1 -1 1 36 1 8 1 3 1 -12 1 13 1 37 1 3 1 -25 1 -25 1 13 1 12 1 10 1 -32 1 -7 1 3 1 20 1 -2 1 -23 1 -41 1 3 1 46 1 8 1 -33 1 -20 1 12 1 34 1 5 1 -36 1 -39 1 8 1 46 1 9 1 -13 1 -15 1 18 1 22 1 0 1 -42 1 -11 1 -2 1 5 1 -10 1 -12 1 -12 1 24 1 56 1 36 1 -22 1 -17 1 22 1 7 1 14 1 -66 1 -38 1 15 1 34 1 26 1 -23 1 -41 1 22 1 54 1 12 1 -26 1 -29 1 14 1 38 1 -7 1 -34 1 -20 1 4 1 23 1 -3 1 -28 1 -33 1 18 1 37 1 9 1 -12 1 -24 1 21 1 37 1 -1 1 -40 1 -39 1 14 1 35 1 3 1 -40 1 -25 1 18 1 53 1 26 1 -26 1 -40 1 20 1 47 1 -19 1 -31 1 -3 1 -4 1 23 1 5 1 -36 1 -31 1 4 1 35 1 -1 1 -20 1 -3 1 20 1 36 1 25 1 -33 1 -13 1 17 1 36 1 10 1 -38 1 -26 1 0 1 37 1 19 1 -34 1 -13 1 28 1 27 1 20 1 -28 1 -23 1 19 1 17 1 -9 1 -23 1 -20 1 4 1 26 1 0 1 -7 1 -5 1 8 1 38 1 -2 1 -22 1 -23 1 -2 1 13 1 3 1 -41 1 -35 1 14 1 19 1 31 1 -18 1 -25 1 15 1 34 1 -14 1 -22 1 -11 1 -12 1 32 1 -7 1 -22 1 -7 1 8 1 32 1 5 1 -34 1 -22 1 11 1 10 1 11 1 -12 1 -3 1 17 1 18 1 21 1 -17 1 -28 1 5 1 20 1 14 1 -29 1 2 1 13 1 16 1 36 1 -44 1 -21 1 13 1 10 1 -3 1 -26 1 -22 1 19 1 32 1 8 1 -33 1 -26 1 8 1 -6 1 12 1 -38 1 -26 1 17 1 32 1 34 1 -34 1 -17 1 27 1 34 1 -7 1 -22 1 -26 1 3 1 36 1 1 1 -15 1 -13 1 25 1 26 1 23 1 -12 1 -22 1 11 1 26 1 0 1 -35 1 -24 1 10 1 33 1 11 1 -35 1 -23 1 23 1 22 1 6 1 -19 1 -23 1 5 1 43 1 -6 1 -41 1 -16 1 0 1 28 1 9 1 -51 1 -12 1 11 1 33 1 22 1 -22 1 -30 1 23 1 42 1 -5 1 -19 1 -34 1 13 1 23 1 20 1 -42 1 -1 1 14 1 15 1 26 1 -38 1 -19 1 0 1 20 1 9 1 -25 1 -9 1 22 1 39 1 7 1 -21 1 -11 1 -3 1 50 1 -6 1 -47 1 -38 1 12 1 37 1 7 1 -20"/></g></g><rect x="48.5" y="96.5" width="548.0" height="285.0" fill="none" stroke="#555" stroke-width="1"/><text x="40.2" y="116.8" font-size="9.4" text-anchor="end" fill="#222">F7</text><line x1="48.5" x2="51.0" y1="112.6" y2="112.6" stroke="#333"/><line x1="594.0" x2="596.5" y1="112.6" y2="112.6" stroke="#333"/><text x="40.2" y="133.5" font-size="9.4" text-anchor="end" fill="#222">Fpz</text><line x1="48.5" x2="51.0" y1="129.3" y2="129.3" stroke="#333"/><line x1="594.0" x2="596.5" y1="129.3" y2="129.3" stroke="#333"/><text x="40.2" y="150.3" font-size="9.4" text-anchor="end" fill="#222">F8</text><line x1="48.5" x2="51.0" y1="146.1" y2="146.1" stroke="#333"/><line x1="594.0" x2="596.5" y1="146.1" y2="146.1" stroke="#333"/><text x="40.2" y="167.0" font-size="9.4" text-anchor="end" fill="#222">F3</text><line x1="48.5" x2="51.0" y1="162.8" y2="162.8" stroke="#333"/><line x1="594.0" x2="596.5" y1="162.8" y2="162.8" stroke="#333"/><text x="40.2" y="183.8" font-size="9.4" text-anchor="end" fill="#222">Fz</text><line x1="48.5" x2="51.0" y1="179.6" y2="179.6" stroke="#333"/><line x1="594.0" x2="596.5" y1="179.6" y2="179.6" stroke="#333"/><text x="40.2" y="200.5" font-size="9.4" text-anchor="end" fill="#222">F4</text><line x1="48.5" x2="51.0" y1="196.3" y2="196.3" stroke="#333"/><line x1="594.0" x2="596.5" y1="196.3" y2="196.3" stroke="#333"/><text x="40.2" y="217.3" font-size="9.4" text-anchor="end" fill="#222">C3</text><line x1="48.5" x2="51.0" y1="213.1" y2="213.1" stroke="#333"/><line x1="594.0" x2="596.5" y1="213.1" y2="213.1" stroke="#333"/><text x="40.2" y="234.0" font-size="9.4" text-anchor="end" fill="#222">Cz</text><line x1="48.5" x2="51.0" y1="229.8" y2="229.8" stroke="#333"/><line x1="594.0" x2="596.5" y1="229.8" y2="229.8" stroke="#333"/><text x="40.2" y="250.8" font-size="9.4" text-anchor="end" fill="#222">C4</text><line x1="48.5" x2="51.0" y1="246.6" y2="246.6" stroke="#333"/><line x1="594.0" x2="596.5" y1="246.6" y2="246.6" stroke="#333"/><text x="40.2" y="267.6" font-size="9.4" text-anchor="end" fill="#222">P3</text><line x1="48.5" x2="51.0" y1="263.4" y2="263.4" stroke="#333"/><line x1="594.0" x2="596.5" y1="263.4" y2="263.4" stroke="#333"/><text x="40.2" y="284.3" font-size="9.4" text-anchor="end" fill="#222">Pz</text><line x1="48.5" x2="51.0" y1="280.1" y2="280.1" stroke="#333"/><line x1="594.0" x2="596.5" y1="280.1" y2="280.1" stroke="#333"/><text x="40.2" y="301.1" font-size="9.4" text-anchor="end" fill="#222">P4</text><line x1="48.5" x2="51.0" y1="296.9" y2="296.9" stroke="#333"/><line x1="594.0" x2="596.5" y1="296.9" y2="296.9" stroke="#333"/><text x="40.2" y="317.8" font-size="9.4" text-anchor="end" fill="#222">O1</text><line x1="48.5" x2="51.0" y1="313.6" y2="313.6" stroke="#333"/><line x1="594.0" x2="596.5" y1="313.6" y2="313.6" stroke="#333"/><text x="40.2" y="334.6" font-size="9.4" text-anchor="end" fill="#222">P7</text><line x1="48.5" x2="51.0" y1="330.4" y2="330.4" stroke="#333"/><line x1="594.0" x2="596.5" y1="330.4" y2="330.4" stroke="#333"/><text x="40.2" y="351.3" font-size="9.4" text-anchor="end" fill="#222">O2</text><line x1="48.5" x2="51.0" y1="347.1" y2="347.1" stroke="#333"/><line x1="594.0" x2="596.5" y1="347.1" y2="347.1" stroke="#333"/><text x="40.2" y="368.1" font-size="9.4" text-anchor="end" fill="#222">P8</text><line x1="48.5" x2="51.0" y1="363.9" y2="363.9" stroke="#333"/><line x1="594.0" x2="596.5" y1="363.9" y2="363.9" stroke="#333"/><line x1="157.5" x2="157.5" y1="96.5" y2="99.0" stroke="#333"/><line x1="157.5" x2="157.5" y1="379.0" y2="381.5" stroke="#333"/><line x1="267.5" x2="267.5" y1="96.5" y2="99.0" stroke="#333"/><line x1="267.5" x2="267.5" y1="379.0" y2="381.5" stroke="#333"/><line x1="377.5" x2="377.5" y1="96.5" y2="99.0" stroke="#333"/><line x1="377.5" x2="377.5" y1="379.0" y2="381.5" stroke="#333"/><line x1="487.5" x2="487.5" y1="96.5" y2="99.0" stroke="#333"/><line x1="487.5" x2="487.5" y1="379.0" y2="381.5" stroke="#333"/><rect x="670" y="103.8" width="288" height="272" fill="#fbfcfd"/><rect x="714.4" y="257" width="224.2" height="85.6" fill="#fff"/><text x="726" y="114.8" font-size="11.3" font-weight="bold" text-anchor="middle" fill="#111">IC5</text><defs><clipPath id="hc"><circle cx="725.8" cy="166.6" r="44.0"/></clipPath><filter id="bl" x="-50%" y="-50%" width="200%" height="200%"><feGaussianBlur stdDeviation="4"/></filter><filter id="bl3" x="-50%" y="-50%" width="200%" height="200%"><feGaussianBlur stdDeviation="3"/></filter><filter id="bl2" x="-50%" y="-50%" width="200%" height="200%"><feGaussianBlur stdDeviation="2"/></filter></defs><g clip-path="url(#hc)"><rect x="681.8" y="122.6" width="88.0" height="88.0" fill="#2ad4f0"/><g filter="url(#bl)"><ellipse cx="721" cy="160" rx="40" ry="41" fill="#6ee8a6"/><ellipse cx="706" cy="138" rx="14" ry="10" fill="#90ec84"/></g><g filter="url(#bl3)"><path d="M748.7 127 C753 130 758 134 761.6 149.7 C763.5 158 764 170 762 180 C760 188 752 196 739.7 200 C730 201.5 722 201 717.3 201.8 C712 203 708 204 706.1 205.1 C703 207 701 208.5 699 210 L690 215 L676 200 L676 163 Q690 146 711 143 Q719 140 719 130 Q728 118 748.7 127 Z" fill="#c8f040"/></g><g filter="url(#bl2)"><path d="M680 162 Q700 150 716 150 L722 152 L722 135 Q730 122 745 124 Q760 140 760 165 Q760 190 740 197 Q720 196 712 188 Q700 196 685 200 Z" fill="#f8e818"/></g><g filter="url(#bl3)"><path d="M682.7 159 C690 153 700 149 711 147.5 C716 147 719 148.5 721 149 C724 150 723.5 146 722.5 140 C722 135 723 130 727 128 C731 125.5 736 124.3 740 124.5 C745 125 749 130 751.7 139.8 C754 146 756 155 756.6 164.6 C757 172 756 178 753 184 C750 188 745 192 740 192.5 C734 193 729 192.5 726.6 191.6 C723 190 721 188.5 719.2 187.4 C716 185 714 183.7 712.6 183.7 C709 183.5 707 184 705 186 C702 189 698 192.5 693 194.4 L678 197 L678 159 Z" fill="none" stroke="#f4f018" stroke-width="14"/></g><g filter="url(#bl2)"><path d="M682.7 159 C690 153 700 149 711 147.5 C716 147 719 148.5 721 149 C724 150 723.5 146 722.5 140 C722 135 723 130 727 128 C731 125.5 736 124.3 740 124.5 C745 125 749 130 751.7 139.8 C754 146 756 155 756.6 164.6 C757 172 756 178 753 184 C750 188 745 192 740 192.5 C734 193 729 192.5 726.6 191.6 C723 190 721 188.5 719.2 187.4 C716 185 714 183.7 712.6 183.7 C709 183.5 707 184 705 186 C702 189 698 192.5 693 194.4 L678 197 L678 159 Z" fill="#ffa400"/></g><g filter="url(#bl2)"><path d="M684 166 Q697 157 712 156 Q726 158 730 150 Q734 140 744 142 Q752 155 751 172 Q748 186 736 187 Q722 186 714 180 Q700 180 688 186 Z" fill="#ff7a00"/><ellipse cx="705" cy="169" rx="15" ry="10" fill="#ff5400"/><path d="M733 142 C733 137 737 136 740 136.4 C745 136.5 748 140 748.2 150 C748.5 160 748 172 745 178 C742 181 737 181 735 179 C733 176 732.5 165 732.5 155 C732.3 150 732.5 145 733 142 Z" fill="#ff3000"/></g><g filter="url(#bl2)" ><ellipse cx="740.3" cy="157" rx="7" ry="20" fill="#ff1400"/><ellipse cx="704.8" cy="167.3" rx="6" ry="5" fill="#ff3000"/><ellipse cx="740" cy="148" rx="4.5" ry="9" fill="#c40000"/></g><g fill="none" stroke="#4a4a3a" stroke-width="0.7"><ellipse cx="704.8" cy="167.3" rx="6" ry="4.8"/><path d="M733 142 C733 137 737 136 740 136.4 C745 136.5 748 140 748.2 150 C748.5 160 748 172 745 178 C742 181 737 181 735 179 C733 176 732.5 165 732.5 155 C732.3 150 732.5 145 733 142 Z"/><path d="M682.7 159 C690 153 700 149 711 147.5 C716 147 719 148.5 721 149 C724 150 723.5 146 722.5 140 C722 135 723 130 727 128 C731 125.5 736 124.3 740 124.5 C745 125 749 130 751.7 139.8 C754 146 756 155 756.6 164.6 C757 172 756 178 753 184 C750 188 745 192 740 192.5 C734 193 729 192.5 726.6 191.6 C723 190 721 188.5 719.2 187.4 C716 185 714 183.7 712.6 183.7 C709 183.5 707 184 705 186 C702 189 698 192.5 693 194.4"/><path d="M748.7 127 C753 130 758 134 761.6 149.7 C763.5 158 764 170 762 180 C760 188 752 196 739.7 200 C730 201.5 722 201 717.3 201.8 C712 203 708 204 706.1 205.1 C703 207 701 208.5 699 210"/></g></g><circle cx="725.8" cy="166.6" r="44.0" fill="none" stroke="#111" stroke-width="1"/><g fill="none" stroke="#111" stroke-width="1.3"><path d="M718 123 Q718.6 121 720.6 120"/><path d="M733.8 123 Q733.2 121 731.2 120"/><path d="M682.3 158.4 Q680.5 156.5 678.4 155.4"/><path d="M682.3 176.8 Q680.5 178.7 678.4 179.8"/><path d="M769.3 158.4 Q771.1 156.5 773.2 155.4"/><path d="M769.3 176.8 Q771.1 178.7 773.2 179.8"/></g><circle cx="725.6" cy="130.6" r="1.1" fill="#000"/><circle cx="696.1" cy="145.2" r="1.1" fill="#000"/><circle cx="711.4" cy="146.8" r="1.1" fill="#000"/><circle cx="725.3" cy="148.7" r="1.1" fill="#000"/><circle cx="739.9" cy="146.8" r="1.1" fill="#000"/><circle cx="754.8" cy="145.6" r="1.1" fill="#000"/><circle cx="707.4" cy="167.1" r="1.1" fill="#000"/><circle cx="725.6" cy="167.1" r="1.1" fill="#000"/><circle cx="743.9" cy="167.1" r="1.1" fill="#000"/><circle cx="725.6" cy="183.3" r="1.1" fill="#000"/><circle cx="696.1" cy="188.1" r="1.1" fill="#000"/><circle cx="711.4" cy="187" r="1.1" fill="#000"/><circle cx="739.9" cy="187" r="1.1" fill="#000"/><circle cx="754.8" cy="188.1" r="1.1" fill="#000"/><circle cx="714.7" cy="201.6" r="1.1" fill="#000"/><circle cx="737" cy="201.6" r="1.1" fill="#000"/><text x="864.5" y="115.5" font-size="9" font-weight="bold" text-anchor="middle" fill="#1a1a1a">Continous data</text><defs><pattern id="pD" width="30" height="26" patternUnits="userSpaceOnUse" x="808" y="120"><path fill="#542390" d="M22 0h1v1h-1zM25 0h1v1h-1zM1 1h1v1h-1zM13 3h1v1h-1zM27 3h1v1h-1zM4 4h1v1h-1zM19 7h1v1h-1zM7 8h1v1h-1zM13 8h1v1h-1zM29 8h1v1h-1zM12 9h1v1h-1zM17 9h1v1h-1zM6 13h1v1h-1zM9 13h1v1h-1zM14 15h1v1h-1zM17 15h1v1h-1zM27 16h1v1h-1zM21 17h1v1h-1zM18 19h1v1h-1zM14 21h1v1h-1zM11 22h1v1h-1zM26 22h1v1h-1zM1 23h1v1h-1zM5 23h1v1h-1zM11 23h1v1h-1zM28 23h1v1h-1zM7 24h1v1h-1z"/><path fill="#54239e" d="M2 0h1v1h-1zM27 1h1v1h-1zM20 3h1v1h-1zM13 5h1v1h-1zM4 9h1v1h-1zM16 11h1v1h-1zM28 14h1v1h-1zM25 17h1v1h-1zM28 17h1v1h-1zM11 19h1v1h-1zM17 19h1v1h-1zM15 21h1v1h-1zM18 23h1v1h-1zM8 25h1v1h-1zM23 25h1v1h-1zM28 25h1v1h-1z"/><path fill="#5423ac" d="M17 0h1v1h-1zM4 1h1v1h-1zM0 2h1v1h-1zM10 2h1v1h-1zM16 3h1v1h-1zM23 3h1v1h-1zM25 3h1v1h-1zM5 4h1v1h-1zM11 7h1v1h-1zM2 8h1v1h-1zM3 8h1v1h-1zM5 8h1v1h-1zM21 8h1v1h-1zM2 9h1v1h-1zM7 9h1v1h-1zM7 12h1v1h-1zM25 12h1v1h-1zM29 13h1v1h-1zM9 15h1v1h-1zM13 17h1v1h-1zM3 18h1v1h-1zM4 18h1v1h-1zM5 20h1v1h-1zM16 21h1v1h-1zM14 22h1v1h-1zM17 23h1v1h-1zM4 25h1v1h-1z"/><path fill="#5429b3" d="M22 1h1v1h-1zM8 2h1v1h-1zM27 2h1v1h-1zM28 2h1v1h-1zM3 4h1v1h-1zM18 5h1v1h-1zM26 5h1v1h-1zM10 6h1v1h-1zM15 6h1v1h-1zM17 6h1v1h-1zM3 7h1v1h-1zM27 7h1v1h-1zM24 8h1v1h-1zM18 9h1v1h-1zM10 11h1v1h-1zM3 13h1v1h-1zM26 13h1v1h-1zM21 14h1v1h-1zM19 15h1v1h-1zM20 17h1v1h-1zM23 17h1v1h-1zM12 18h1v1h-1zM14 18h1v1h-1zM14 19h1v1h-1zM20 20h1v1h-1zM3 22h1v1h-1zM21 23h1v1h-1zM2 24h1v1h-1zM13 25h1v1h-1zM21 25h1v1h-1z"/><path fill="#5437b3" d="M8 0h1v1h-1zM20 0h1v1h-1zM16 2h1v1h-1zM2 3h1v1h-1zM4 3h1v1h-1zM1 4h1v1h-1zM7 4h1v1h-1zM19 4h1v1h-1zM3 6h1v1h-1zM22 6h1v1h-1zM0 8h1v1h-1zM6 8h1v1h-1zM10 8h1v1h-1zM16 8h1v1h-1zM23 8h1v1h-1zM26 8h1v1h-1zM25 9h1v1h-1zM4 10h1v1h-1zM14 10h1v1h-1zM19 10h1v1h-1zM29 11h1v1h-1zM19 12h1v1h-1zM24 12h1v1h-1zM11 13h1v1h-1zM27 13h1v1h-1zM5 14h1v1h-1zM7 14h1v1h-1zM22 15h1v1h-1zM1 16h1v1h-1zM3 16h1v1h-1zM13 16h1v1h-1zM0 17h1v1h-1zM5 17h1v1h-1zM6 19h1v1h-1zM13 20h1v1h-1zM26 20h1v1h-1zM12 23h1v1h-1zM27 25h1v1h-1z"/><path fill="#5445b3" d="M12 0h1v1h-1zM13 0h1v1h-1zM11 1h1v1h-1zM12 1h1v1h-1zM11 2h1v1h-1zM9 4h1v1h-1zM11 4h1v1h-1zM16 5h1v1h-1zM5 6h1v1h-1zM20 6h1v1h-1zM4 7h1v1h-1zM7 7h1v1h-1zM9 7h1v1h-1zM16 7h1v1h-1zM25 7h1v1h-1zM29 7h1v1h-1zM8 8h1v1h-1zM10 9h1v1h-1zM19 9h1v1h-1zM6 10h1v1h-1zM17 10h1v1h-1zM24 10h1v1h-1zM29 10h1v1h-1zM26 11h1v1h-1zM5 12h1v1h-1zM29 12h1v1h-1zM0 13h1v1h-1zM1 13h1v1h-1zM13 13h1v1h-1zM21 13h1v1h-1zM0 14h1v1h-1zM8 16h1v1h-1zM11 16h1v1h-1zM16 16h1v1h-1zM18 16h1v1h-1zM19 16h1v1h-1zM24 16h1v1h-1zM10 17h1v1h-1zM15 18h1v1h-1zM12 19h1v1h-1zM13 19h1v1h-1zM16 19h1v1h-1zM19 19h1v1h-1zM21 19h1v1h-1zM24 19h1v1h-1zM0 20h1v1h-1zM4 21h1v1h-1zM16 22h1v1h-1zM19 22h1v1h-1zM9 23h1v1h-1zM1 24h1v1h-1zM11 25h1v1h-1zM18 25h1v1h-1z"/><path fill="#5452b3" d="M7 0h1v1h-1zM21 0h1v1h-1zM28 0h1v1h-1zM29 1h1v1h-1zM13 2h1v1h-1zM26 2h1v1h-1zM14 3h1v1h-1zM17 3h1v1h-1zM8 4h1v1h-1zM12 4h1v1h-1zM27 4h1v1h-1zM4 6h1v1h-1zM23 6h1v1h-1zM6 7h1v1h-1zM14 7h1v1h-1zM28 7h1v1h-1zM14 9h1v1h-1zM22 9h1v1h-1zM23 9h1v1h-1zM1 10h1v1h-1zM11 10h1v1h-1zM27 10h1v1h-1zM18 11h1v1h-1zM3 12h1v1h-1zM10 12h1v1h-1zM17 12h1v1h-1zM18 12h1v1h-1zM20 12h1v1h-1zM1 15h1v1h-1zM27 15h1v1h-1zM26 16h1v1h-1zM4 17h1v1h-1zM7 17h1v1h-1zM20 18h1v1h-1zM27 18h1v1h-1zM4 20h1v1h-1zM17 20h1v1h-1zM18 20h1v1h-1zM22 21h1v1h-1zM0 22h1v1h-1zM29 22h1v1h-1zM6 23h1v1h-1zM7 23h1v1h-1zM10 23h1v1h-1zM17 24h1v1h-1zM3 25h1v1h-1z"/><path fill="#5460b3" d="M6 1h1v1h-1zM21 2h1v1h-1zM29 2h1v1h-1zM5 3h1v1h-1zM7 3h1v1h-1zM10 3h1v1h-1zM15 3h1v1h-1zM21 3h1v1h-1zM6 4h1v1h-1zM17 4h1v1h-1zM29 5h1v1h-1zM1 7h1v1h-1zM9 9h1v1h-1zM0 11h1v1h-1zM4 11h1v1h-1zM6 12h1v1h-1zM15 12h1v1h-1zM16 13h1v1h-1zM15 14h1v1h-1zM23 14h1v1h-1zM25 15h1v1h-1zM29 16h1v1h-1zM18 17h1v1h-1zM17 18h1v1h-1zM19 18h1v1h-1zM22 18h1v1h-1zM25 18h1v1h-1zM22 19h1v1h-1zM29 19h1v1h-1zM8 20h1v1h-1zM2 21h1v1h-1zM28 21h1v1h-1zM20 22h1v1h-1zM21 22h1v1h-1zM15 23h1v1h-1zM9 24h1v1h-1zM19 24h1v1h-1zM22 24h1v1h-1zM25 24h1v1h-1zM7 25h1v1h-1zM15 25h1v1h-1z"/><path fill="#546db3" d="M10 0h1v1h-1zM9 1h1v1h-1zM17 1h1v1h-1zM20 1h1v1h-1zM1 2h1v1h-1zM6 2h1v1h-1zM24 2h1v1h-1zM0 3h1v1h-1zM18 3h1v1h-1zM14 4h1v1h-1zM5 5h1v1h-1zM8 5h1v1h-1zM16 6h1v1h-1zM26 7h1v1h-1zM15 9h1v1h-1zM28 9h1v1h-1zM2 10h1v1h-1zM3 10h1v1h-1zM5 11h1v1h-1zM9 12h1v1h-1zM6 14h1v1h-1zM14 14h1v1h-1zM17 14h1v1h-1zM26 14h1v1h-1zM6 15h1v1h-1zM23 16h1v1h-1zM1 17h1v1h-1zM8 17h1v1h-1zM1 18h1v1h-1zM11 18h1v1h-1zM23 18h1v1h-1zM29 18h1v1h-1zM28 19h1v1h-1zM15 20h1v1h-1zM29 20h1v1h-1zM19 21h1v1h-1zM25 21h1v1h-1zM17 22h1v1h-1zM13 23h1v1h-1z"/><path fill="#5a74ac" d="M15 0h1v1h-1zM16 0h1v1h-1zM3 1h1v1h-1zM24 1h1v1h-1zM1 3h1v1h-1zM28 3h1v1h-1zM16 4h1v1h-1zM18 4h1v1h-1zM24 4h1v1h-1zM25 4h1v1h-1zM1 6h1v1h-1zM2 6h1v1h-1zM12 6h1v1h-1zM14 6h1v1h-1zM25 6h1v1h-1zM0 7h1v1h-1zM17 7h1v1h-1zM18 7h1v1h-1zM11 8h1v1h-1zM19 8h1v1h-1zM27 8h1v1h-1zM8 11h1v1h-1zM17 13h1v1h-1zM19 13h1v1h-1zM12 15h1v1h-1zM14 16h1v1h-1zM3 19h1v1h-1zM7 20h1v1h-1zM12 20h1v1h-1zM7 21h1v1h-1zM9 21h1v1h-1zM11 21h1v1h-1zM1 22h1v1h-1zM4 22h1v1h-1zM14 23h1v1h-1zM29 23h1v1h-1zM8 24h1v1h-1zM27 24h1v1h-1zM5 25h1v1h-1zM24 25h1v1h-1z"/><path fill="#68749e" d="M18 0h1v1h-1zM14 1h1v1h-1zM3 5h1v1h-1zM6 5h1v1h-1zM29 6h1v1h-1zM22 7h1v1h-1zM12 8h1v1h-1zM15 8h1v1h-1zM20 9h1v1h-1zM27 9h1v1h-1zM21 10h1v1h-1zM22 12h1v1h-1zM4 13h1v1h-1zM14 13h1v1h-1zM29 14h1v1h-1zM7 15h1v1h-1zM23 15h1v1h-1zM0 16h1v1h-1zM11 17h1v1h-1zM9 18h1v1h-1zM26 18h1v1h-1zM8 19h1v1h-1zM21 20h1v1h-1zM27 20h1v1h-1zM24 22h1v1h-1zM27 22h1v1h-1zM2 23h1v1h-1zM16 23h1v1h-1zM20 24h1v1h-1zM21 24h1v1h-1zM9 25h1v1h-1zM17 25h1v1h-1zM29 25h1v1h-1z"/><path fill="#767490" d="M23 0h1v1h-1zM5 1h1v1h-1zM19 1h1v1h-1zM4 2h1v1h-1zM6 3h1v1h-1zM29 4h1v1h-1zM24 6h1v1h-1zM18 8h1v1h-1zM1 9h1v1h-1zM5 10h1v1h-1zM7 10h1v1h-1zM12 10h1v1h-1zM16 10h1v1h-1zM3 11h1v1h-1zM13 11h1v1h-1zM26 12h1v1h-1zM2 13h1v1h-1zM18 13h1v1h-1zM25 13h1v1h-1zM25 14h1v1h-1zM20 15h1v1h-1zM23 20h1v1h-1zM10 21h1v1h-1zM20 21h1v1h-1zM27 21h1v1h-1zM8 22h1v1h-1zM10 22h1v1h-1zM20 23h1v1h-1zM15 24h1v1h-1zM12 25h1v1h-1z"/><path fill="#837483" d="M0 0h1v1h-1zM4 0h1v1h-1zM2 1h1v1h-1zM7 2h1v1h-1zM20 4h1v1h-1zM26 4h1v1h-1zM0 5h1v1h-1zM17 5h1v1h-1zM22 5h1v1h-1zM23 5h1v1h-1zM27 6h1v1h-1zM13 7h1v1h-1zM16 9h1v1h-1zM8 10h1v1h-1zM15 11h1v1h-1zM20 11h1v1h-1zM7 13h1v1h-1zM22 13h1v1h-1zM9 14h1v1h-1zM10 14h1v1h-1zM13 14h1v1h-1zM29 15h1v1h-1zM9 16h1v1h-1zM15 16h1v1h-1zM15 17h1v1h-1zM29 17h1v1h-1zM21 18h1v1h-1zM1 19h1v1h-1zM9 19h1v1h-1zM10 20h1v1h-1zM24 20h1v1h-1zM1 21h1v1h-1zM2 22h1v1h-1zM5 22h1v1h-1zM13 22h1v1h-1zM12 24h1v1h-1zM13 24h1v1h-1zM24 24h1v1h-1z"/><path fill="#917475" d="M5 0h1v1h-1zM22 3h1v1h-1zM15 5h1v1h-1zM7 6h1v1h-1zM9 8h1v1h-1zM10 10h1v1h-1zM13 10h1v1h-1zM20 10h1v1h-1zM0 12h1v1h-1zM2 12h1v1h-1zM4 12h1v1h-1zM27 12h1v1h-1zM10 13h1v1h-1zM15 13h1v1h-1zM24 14h1v1h-1zM24 15h1v1h-1zM17 16h1v1h-1zM22 17h1v1h-1zM0 18h1v1h-1zM2 18h1v1h-1zM5 19h1v1h-1zM2 20h1v1h-1zM22 20h1v1h-1zM25 20h1v1h-1zM17 21h1v1h-1zM24 21h1v1h-1zM15 22h1v1h-1zM28 22h1v1h-1zM0 23h1v1h-1zM25 23h1v1h-1zM26 23h1v1h-1zM27 23h1v1h-1zM14 24h1v1h-1zM10 25h1v1h-1z"/><path fill="#9e7468" d="M9 0h1v1h-1zM11 0h1v1h-1zM26 0h1v1h-1zM3 2h1v1h-1zM9 2h1v1h-1zM18 2h1v1h-1zM12 3h1v1h-1zM24 3h1v1h-1zM29 3h1v1h-1zM15 4h1v1h-1zM22 4h1v1h-1zM24 5h1v1h-1zM28 5h1v1h-1zM19 6h1v1h-1zM2 7h1v1h-1zM23 7h1v1h-1zM24 7h1v1h-1zM21 9h1v1h-1zM2 11h1v1h-1zM11 11h1v1h-1zM12 11h1v1h-1zM14 11h1v1h-1zM23 12h1v1h-1zM24 13h1v1h-1zM28 13h1v1h-1zM4 14h1v1h-1zM18 14h1v1h-1zM20 14h1v1h-1zM27 14h1v1h-1zM4 15h1v1h-1zM11 15h1v1h-1zM6 16h1v1h-1zM9 17h1v1h-1zM6 18h1v1h-1zM16 18h1v1h-1zM28 18h1v1h-1zM23 19h1v1h-1zM26 19h1v1h-1zM11 20h1v1h-1zM28 24h1v1h-1zM2 25h1v1h-1zM14 25h1v1h-1z"/><path fill="#a56d61" d="M1 0h1v1h-1zM29 0h1v1h-1zM28 1h1v1h-1zM5 2h1v1h-1zM12 2h1v1h-1zM22 2h1v1h-1zM19 3h1v1h-1zM21 4h1v1h-1zM1 5h1v1h-1zM10 5h1v1h-1zM20 5h1v1h-1zM11 6h1v1h-1zM8 7h1v1h-1zM10 7h1v1h-1zM20 8h1v1h-1zM6 9h1v1h-1zM11 9h1v1h-1zM29 9h1v1h-1zM23 10h1v1h-1zM7 11h1v1h-1zM22 11h1v1h-1zM23 11h1v1h-1zM21 12h1v1h-1zM28 12h1v1h-1zM8 14h1v1h-1zM12 14h1v1h-1zM13 15h1v1h-1zM10 16h1v1h-1zM21 16h1v1h-1zM28 16h1v1h-1zM2 17h1v1h-1zM14 17h1v1h-1zM27 17h1v1h-1zM7 18h1v1h-1zM10 19h1v1h-1zM9 20h1v1h-1zM23 21h1v1h-1zM6 25h1v1h-1zM19 25h1v1h-1z"/><path fill="#a56061" d="M6 0h1v1h-1zM0 1h1v1h-1zM8 1h1v1h-1zM10 1h1v1h-1zM18 1h1v1h-1zM4 5h1v1h-1zM21 5h1v1h-1zM6 6h1v1h-1zM8 6h1v1h-1zM18 6h1v1h-1zM20 7h1v1h-1zM14 8h1v1h-1zM25 8h1v1h-1zM5 9h1v1h-1zM24 9h1v1h-1zM28 10h1v1h-1zM6 11h1v1h-1zM20 13h1v1h-1zM2 15h1v1h-1zM15 15h1v1h-1zM28 15h1v1h-1zM3 17h1v1h-1zM12 17h1v1h-1zM16 17h1v1h-1zM26 17h1v1h-1zM3 21h1v1h-1zM8 21h1v1h-1zM18 21h1v1h-1zM26 21h1v1h-1zM23 22h1v1h-1zM0 24h1v1h-1zM18 24h1v1h-1zM26 24h1v1h-1zM29 24h1v1h-1zM22 25h1v1h-1z"/><path fill="#a55261" d="M14 0h1v1h-1zM13 1h1v1h-1zM16 1h1v1h-1zM25 1h1v1h-1zM15 2h1v1h-1zM17 2h1v1h-1zM19 2h1v1h-1zM26 3h1v1h-1zM7 5h1v1h-1zM9 5h1v1h-1zM5 7h1v1h-1zM12 7h1v1h-1zM28 8h1v1h-1zM22 10h1v1h-1zM25 10h1v1h-1zM21 11h1v1h-1zM11 12h1v1h-1zM2 14h1v1h-1zM11 14h1v1h-1zM18 15h1v1h-1zM5 16h1v1h-1zM13 18h1v1h-1zM20 19h1v1h-1zM28 20h1v1h-1zM6 21h1v1h-1zM12 22h1v1h-1zM24 23h1v1h-1zM10 24h1v1h-1zM11 24h1v1h-1zM16 25h1v1h-1zM25 25h1v1h-1z"/><path fill="#a54561" d="M26 1h1v1h-1zM28 4h1v1h-1zM11 5h1v1h-1zM25 5h1v1h-1zM9 6h1v1h-1zM13 6h1v1h-1zM26 6h1v1h-1zM4 8h1v1h-1zM22 8h1v1h-1zM0 9h1v1h-1zM3 9h1v1h-1zM9 10h1v1h-1zM25 11h1v1h-1zM27 11h1v1h-1zM5 13h1v1h-1zM8 13h1v1h-1zM2 16h1v1h-1zM7 16h1v1h-1zM12 16h1v1h-1zM25 16h1v1h-1zM17 17h1v1h-1zM19 17h1v1h-1zM24 18h1v1h-1zM2 19h1v1h-1zM1 20h1v1h-1zM3 20h1v1h-1zM6 20h1v1h-1zM19 20h1v1h-1zM12 21h1v1h-1zM18 22h1v1h-1zM22 22h1v1h-1zM0 25h1v1h-1z"/><path fill="#a53761" d="M19 0h1v1h-1zM15 1h1v1h-1zM14 2h1v1h-1zM3 3h1v1h-1zM9 3h1v1h-1zM27 5h1v1h-1zM21 6h1v1h-1zM28 6h1v1h-1zM21 7h1v1h-1zM1 8h1v1h-1zM26 9h1v1h-1zM26 10h1v1h-1zM24 11h1v1h-1zM8 12h1v1h-1zM13 12h1v1h-1zM14 12h1v1h-1zM12 13h1v1h-1zM1 14h1v1h-1zM3 14h1v1h-1zM22 14h1v1h-1zM21 15h1v1h-1zM5 18h1v1h-1zM0 19h1v1h-1zM15 19h1v1h-1zM13 21h1v1h-1zM21 21h1v1h-1zM6 22h1v1h-1zM25 22h1v1h-1zM4 24h1v1h-1zM26 25h1v1h-1z"/><path fill="#a52961" d="M27 0h1v1h-1zM2 2h1v1h-1zM20 2h1v1h-1zM25 2h1v1h-1zM11 3h1v1h-1zM2 4h1v1h-1zM12 5h1v1h-1zM15 7h1v1h-1zM8 9h1v1h-1zM18 10h1v1h-1zM9 11h1v1h-1zM28 11h1v1h-1zM12 12h1v1h-1zM16 12h1v1h-1zM16 14h1v1h-1zM19 14h1v1h-1zM4 16h1v1h-1zM20 16h1v1h-1zM22 16h1v1h-1zM6 17h1v1h-1zM4 19h1v1h-1zM7 19h1v1h-1zM14 20h1v1h-1zM0 21h1v1h-1zM29 21h1v1h-1zM9 22h1v1h-1zM3 23h1v1h-1zM23 23h1v1h-1z"/><path fill="#9e2361" d="M7 1h1v1h-1zM21 1h1v1h-1zM23 1h1v1h-1zM23 2h1v1h-1zM0 4h1v1h-1zM2 5h1v1h-1zM0 10h1v1h-1zM1 11h1v1h-1zM23 13h1v1h-1zM5 15h1v1h-1zM8 15h1v1h-1zM10 15h1v1h-1zM18 18h1v1h-1zM27 19h1v1h-1zM4 23h1v1h-1zM3 24h1v1h-1zM23 24h1v1h-1z"/><path fill="#912361" d="M3 0h1v1h-1zM8 3h1v1h-1zM10 4h1v1h-1zM13 4h1v1h-1zM13 9h1v1h-1zM1 12h1v1h-1zM3 15h1v1h-1zM16 15h1v1h-1zM26 15h1v1h-1zM25 19h1v1h-1zM7 22h1v1h-1zM6 24h1v1h-1zM1 25h1v1h-1zM20 25h1v1h-1z"/><path fill="#832361" d="M24 0h1v1h-1zM23 4h1v1h-1zM14 5h1v1h-1zM19 5h1v1h-1zM0 6h1v1h-1zM17 8h1v1h-1zM15 10h1v1h-1zM17 11h1v1h-1zM19 11h1v1h-1zM0 15h1v1h-1zM24 17h1v1h-1zM8 18h1v1h-1zM10 18h1v1h-1zM16 20h1v1h-1zM5 21h1v1h-1zM8 23h1v1h-1zM19 23h1v1h-1zM22 23h1v1h-1zM5 24h1v1h-1zM16 24h1v1h-1z"/></pattern><pattern id="pK" width="30" height="26" patternUnits="userSpaceOnUse" x="808" y="120"><path fill="#300589" d="M1 1h1v1h-1zM19 1h1v1h-1zM3 2h1v1h-1zM6 2h1v1h-1zM26 2h1v1h-1zM15 3h1v1h-1zM23 3h1v1h-1zM26 3h1v1h-1zM1 6h1v1h-1zM9 7h1v1h-1zM19 7h1v1h-1zM24 7h1v1h-1zM13 8h1v1h-1zM16 8h1v1h-1zM26 8h1v1h-1zM4 9h1v1h-1zM9 9h1v1h-1zM1 10h1v1h-1zM8 11h1v1h-1zM9 12h1v1h-1zM15 12h1v1h-1zM20 12h1v1h-1zM6 13h1v1h-1zM5 14h1v1h-1zM10 14h1v1h-1zM1 15h1v1h-1zM7 15h1v1h-1zM3 16h1v1h-1zM11 16h1v1h-1zM2 17h1v1h-1zM13 17h1v1h-1zM15 17h1v1h-1zM15 18h1v1h-1zM20 18h1v1h-1zM22 18h1v1h-1zM23 18h1v1h-1zM8 19h1v1h-1zM13 19h1v1h-1zM29 19h1v1h-1zM4 20h1v1h-1zM1 21h1v1h-1zM25 21h1v1h-1zM3 22h1v1h-1zM5 23h1v1h-1zM7 23h1v1h-1zM1 24h1v1h-1zM8 25h1v1h-1zM21 25h1v1h-1zM29 25h1v1h-1z"/><path fill="#30059e" d="M24 2h1v1h-1zM25 3h1v1h-1zM21 5h1v1h-1zM23 6h1v1h-1zM16 7h1v1h-1zM6 10h1v1h-1zM0 11h1v1h-1zM10 13h1v1h-1zM26 13h1v1h-1zM13 14h1v1h-1zM15 14h1v1h-1zM23 14h1v1h-1zM20 15h1v1h-1zM11 18h1v1h-1zM2 20h1v1h-1zM4 23h1v1h-1z"/><path fill="#3005b3" d="M18 2h1v1h-1zM22 2h1v1h-1zM23 2h1v1h-1zM15 4h1v1h-1zM19 4h1v1h-1zM11 5h1v1h-1zM7 6h1v1h-1zM11 7h1v1h-1zM27 7h1v1h-1zM7 8h1v1h-1zM28 8h1v1h-1zM0 10h1v1h-1zM9 10h1v1h-1zM19 10h1v1h-1zM3 11h1v1h-1zM21 11h1v1h-1zM27 12h1v1h-1zM9 13h1v1h-1zM19 13h1v1h-1zM12 14h1v1h-1zM20 14h1v1h-1zM2 15h1v1h-1zM6 15h1v1h-1zM9 15h1v1h-1zM25 15h1v1h-1zM6 16h1v1h-1zM21 19h1v1h-1zM26 19h1v1h-1zM0 20h1v1h-1zM26 20h1v1h-1zM14 22h1v1h-1zM29 22h1v1h-1zM2 23h1v1h-1zM6 24h1v1h-1zM28 24h1v1h-1z"/><path fill="#3010be" d="M10 0h1v1h-1zM23 0h1v1h-1zM9 1h1v1h-1zM16 1h1v1h-1zM22 1h1v1h-1zM1 2h1v1h-1zM2 5h1v1h-1zM15 5h1v1h-1zM21 7h1v1h-1zM7 9h1v1h-1zM27 9h1v1h-1zM29 9h1v1h-1zM20 10h1v1h-1zM24 10h1v1h-1zM5 11h1v1h-1zM15 11h1v1h-1zM17 11h1v1h-1zM28 11h1v1h-1zM12 12h1v1h-1zM21 13h1v1h-1zM18 16h1v1h-1zM19 16h1v1h-1zM26 16h1v1h-1zM18 17h1v1h-1zM24 17h1v1h-1zM7 19h1v1h-1zM9 19h1v1h-1zM22 19h1v1h-1zM24 19h1v1h-1zM27 19h1v1h-1zM0 22h1v1h-1zM11 22h1v1h-1zM26 22h1v1h-1zM18 23h1v1h-1zM21 23h1v1h-1zM24 23h1v1h-1zM29 23h1v1h-1zM13 24h1v1h-1zM19 24h1v1h-1z"/><path fill="#3025be" d="M14 0h1v1h-1zM15 0h1v1h-1zM12 1h1v1h-1zM14 1h1v1h-1zM25 1h1v1h-1zM27 1h1v1h-1zM21 2h1v1h-1zM28 2h1v1h-1zM0 3h1v1h-1zM9 3h1v1h-1zM10 3h1v1h-1zM9 4h1v1h-1zM12 4h1v1h-1zM0 5h1v1h-1zM7 5h1v1h-1zM10 5h1v1h-1zM24 5h1v1h-1zM15 6h1v1h-1zM20 6h1v1h-1zM0 7h1v1h-1zM1 7h1v1h-1zM4 7h1v1h-1zM29 7h1v1h-1zM2 9h1v1h-1zM20 9h1v1h-1zM25 9h1v1h-1zM17 10h1v1h-1zM27 10h1v1h-1zM9 11h1v1h-1zM26 11h1v1h-1zM24 13h1v1h-1zM24 14h1v1h-1zM23 16h1v1h-1zM5 17h1v1h-1zM17 17h1v1h-1zM9 18h1v1h-1zM5 19h1v1h-1zM2 21h1v1h-1zM14 21h1v1h-1zM21 22h1v1h-1zM26 23h1v1h-1z"/><path fill="#303abe" d="M18 0h1v1h-1zM24 1h1v1h-1zM13 2h1v1h-1zM4 3h1v1h-1zM17 3h1v1h-1zM13 5h1v1h-1zM18 5h1v1h-1zM14 7h1v1h-1zM28 7h1v1h-1zM5 8h1v1h-1zM1 9h1v1h-1zM23 9h1v1h-1zM22 10h1v1h-1zM29 10h1v1h-1zM2 11h1v1h-1zM13 11h1v1h-1zM23 11h1v1h-1zM17 12h1v1h-1zM11 13h1v1h-1zM29 13h1v1h-1zM3 14h1v1h-1zM17 14h1v1h-1zM0 16h1v1h-1zM13 16h1v1h-1zM10 17h1v1h-1zM23 17h1v1h-1zM12 20h1v1h-1zM20 20h1v1h-1zM21 20h1v1h-1zM4 21h1v1h-1zM19 21h1v1h-1zM10 22h1v1h-1zM12 23h1v1h-1zM4 24h1v1h-1zM14 24h1v1h-1zM20 24h1v1h-1z"/><path fill="#304fbe" d="M2 0h1v1h-1zM17 1h1v1h-1zM8 2h1v1h-1zM20 3h1v1h-1zM6 4h1v1h-1zM11 4h1v1h-1zM17 4h1v1h-1zM20 4h1v1h-1zM8 5h1v1h-1zM20 5h1v1h-1zM2 6h1v1h-1zM12 6h1v1h-1zM17 9h1v1h-1zM24 9h1v1h-1zM2 10h1v1h-1zM4 10h1v1h-1zM18 11h1v1h-1zM2 12h1v1h-1zM22 13h1v1h-1zM0 14h1v1h-1zM18 14h1v1h-1zM29 14h1v1h-1zM14 15h1v1h-1zM18 15h1v1h-1zM14 16h1v1h-1zM24 16h1v1h-1zM29 16h1v1h-1zM7 17h1v1h-1zM11 17h1v1h-1zM20 17h1v1h-1zM28 17h1v1h-1zM12 18h1v1h-1zM10 19h1v1h-1zM10 20h1v1h-1zM15 20h1v1h-1zM23 20h1v1h-1zM22 21h1v1h-1zM23 21h1v1h-1zM17 22h1v1h-1zM19 22h1v1h-1zM15 23h1v1h-1zM23 23h1v1h-1zM29 24h1v1h-1zM5 25h1v1h-1zM12 25h1v1h-1z"/><path fill="#3065be" d="M7 0h1v1h-1zM12 0h1v1h-1zM26 0h1v1h-1zM7 3h1v1h-1zM4 4h1v1h-1zM14 4h1v1h-1zM13 6h1v1h-1zM15 7h1v1h-1zM10 9h1v1h-1zM12 9h1v1h-1zM14 9h1v1h-1zM14 10h1v1h-1zM11 12h1v1h-1zM25 12h1v1h-1zM17 15h1v1h-1zM19 15h1v1h-1zM21 15h1v1h-1zM28 15h1v1h-1zM8 17h1v1h-1zM1 18h1v1h-1zM10 18h1v1h-1zM3 20h1v1h-1zM22 20h1v1h-1zM28 20h1v1h-1zM29 20h1v1h-1zM9 21h1v1h-1zM17 21h1v1h-1zM27 21h1v1h-1zM3 25h1v1h-1zM26 25h1v1h-1z"/><path fill="#307abe" d="M4 0h1v1h-1zM17 0h1v1h-1zM29 0h1v1h-1zM23 1h1v1h-1zM27 4h1v1h-1zM29 4h1v1h-1zM5 5h1v1h-1zM28 5h1v1h-1zM29 5h1v1h-1zM4 6h1v1h-1zM17 7h1v1h-1zM15 8h1v1h-1zM24 8h1v1h-1zM7 10h1v1h-1zM12 10h1v1h-1zM14 12h1v1h-1zM22 12h1v1h-1zM4 15h1v1h-1zM11 15h1v1h-1zM8 16h1v1h-1zM4 17h1v1h-1zM7 20h1v1h-1zM8 20h1v1h-1zM7 21h1v1h-1zM8 21h1v1h-1zM28 22h1v1h-1zM3 23h1v1h-1zM9 24h1v1h-1zM17 24h1v1h-1zM25 24h1v1h-1zM27 24h1v1h-1z"/><path fill="#3a85b3" d="M5 0h1v1h-1zM0 2h1v1h-1zM9 2h1v1h-1zM29 2h1v1h-1zM29 3h1v1h-1zM26 5h1v1h-1zM3 6h1v1h-1zM25 6h1v1h-1zM28 6h1v1h-1zM3 7h1v1h-1zM3 8h1v1h-1zM10 8h1v1h-1zM23 8h1v1h-1zM29 8h1v1h-1zM8 10h1v1h-1zM16 10h1v1h-1zM24 11h1v1h-1zM1 12h1v1h-1zM23 12h1v1h-1zM28 12h1v1h-1zM28 13h1v1h-1zM7 14h1v1h-1zM26 14h1v1h-1zM27 15h1v1h-1zM9 16h1v1h-1zM10 16h1v1h-1zM1 17h1v1h-1zM21 17h1v1h-1zM3 19h1v1h-1zM11 19h1v1h-1zM8 23h1v1h-1zM10 23h1v1h-1zM15 25h1v1h-1zM16 25h1v1h-1zM19 25h1v1h-1zM23 25h1v1h-1z"/><path fill="#4f859e" d="M5 2h1v1h-1zM11 2h1v1h-1zM11 3h1v1h-1zM3 5h1v1h-1zM14 5h1v1h-1zM6 7h1v1h-1zM10 11h1v1h-1zM25 11h1v1h-1zM7 12h1v1h-1zM1 13h1v1h-1zM16 13h1v1h-1zM25 13h1v1h-1zM2 14h1v1h-1zM21 14h1v1h-1zM24 18h1v1h-1zM16 19h1v1h-1zM1 22h1v1h-1zM6 22h1v1h-1zM8 22h1v1h-1zM13 22h1v1h-1zM16 22h1v1h-1zM28 23h1v1h-1zM25 25h1v1h-1z"/><path fill="#658589" d="M10 1h1v1h-1zM19 2h1v1h-1zM3 3h1v1h-1zM9 5h1v1h-1zM9 6h1v1h-1zM11 6h1v1h-1zM20 7h1v1h-1zM6 11h1v1h-1zM12 11h1v1h-1zM19 11h1v1h-1zM20 11h1v1h-1zM13 13h1v1h-1zM28 14h1v1h-1zM16 16h1v1h-1zM21 16h1v1h-1zM25 17h1v1h-1zM4 19h1v1h-1zM6 20h1v1h-1zM11 20h1v1h-1zM7 22h1v1h-1zM24 22h1v1h-1zM25 22h1v1h-1zM25 23h1v1h-1zM23 24h1v1h-1zM2 25h1v1h-1zM18 25h1v1h-1z"/><path fill="#7a8574" d="M1 0h1v1h-1zM6 1h1v1h-1zM0 4h1v1h-1zM3 4h1v1h-1zM16 4h1v1h-1zM23 4h1v1h-1zM23 5h1v1h-1zM7 7h1v1h-1zM18 7h1v1h-1zM26 12h1v1h-1zM27 13h1v1h-1zM16 14h1v1h-1zM12 15h1v1h-1zM26 15h1v1h-1zM28 16h1v1h-1zM16 18h1v1h-1zM18 20h1v1h-1zM10 21h1v1h-1zM20 22h1v1h-1zM20 23h1v1h-1zM16 24h1v1h-1zM22 24h1v1h-1zM9 25h1v1h-1z"/><path fill="#8f855e" d="M24 0h1v1h-1zM25 0h1v1h-1zM24 3h1v1h-1zM2 4h1v1h-1zM19 5h1v1h-1zM19 6h1v1h-1zM22 6h1v1h-1zM13 9h1v1h-1zM3 10h1v1h-1zM11 10h1v1h-1zM21 10h1v1h-1zM7 11h1v1h-1zM5 12h1v1h-1zM4 14h1v1h-1zM25 14h1v1h-1zM16 15h1v1h-1zM12 17h1v1h-1zM19 17h1v1h-1zM4 18h1v1h-1zM9 20h1v1h-1zM15 22h1v1h-1zM12 24h1v1h-1zM27 25h1v1h-1z"/><path fill="#a48549" d="M28 0h1v1h-1zM16 2h1v1h-1zM17 2h1v1h-1zM25 2h1v1h-1zM12 5h1v1h-1zM18 6h1v1h-1zM22 7h1v1h-1zM1 8h1v1h-1zM6 9h1v1h-1zM11 9h1v1h-1zM22 9h1v1h-1zM28 9h1v1h-1zM13 12h1v1h-1zM16 12h1v1h-1zM29 12h1v1h-1zM18 13h1v1h-1zM10 15h1v1h-1zM24 15h1v1h-1zM3 17h1v1h-1zM13 20h1v1h-1zM14 20h1v1h-1zM24 20h1v1h-1zM25 20h1v1h-1zM18 22h1v1h-1zM9 23h1v1h-1zM11 25h1v1h-1z"/><path fill="#af7a3f" d="M20 0h1v1h-1zM2 2h1v1h-1zM1 3h1v1h-1zM12 3h1v1h-1zM8 6h1v1h-1zM24 6h1v1h-1zM13 7h1v1h-1zM14 8h1v1h-1zM21 8h1v1h-1zM5 10h1v1h-1zM25 10h1v1h-1zM4 12h1v1h-1zM19 12h1v1h-1zM14 13h1v1h-1zM11 14h1v1h-1zM0 17h1v1h-1zM29 17h1v1h-1zM7 18h1v1h-1zM17 18h1v1h-1zM19 18h1v1h-1zM25 18h1v1h-1zM6 21h1v1h-1zM23 22h1v1h-1zM27 22h1v1h-1zM7 24h1v1h-1zM15 24h1v1h-1zM21 24h1v1h-1zM10 25h1v1h-1zM24 25h1v1h-1z"/><path fill="#af653f" d="M21 0h1v1h-1zM15 1h1v1h-1zM4 2h1v1h-1zM15 2h1v1h-1zM16 3h1v1h-1zM1 4h1v1h-1zM10 4h1v1h-1zM22 4h1v1h-1zM6 6h1v1h-1zM10 6h1v1h-1zM27 6h1v1h-1zM2 8h1v1h-1zM8 8h1v1h-1zM9 8h1v1h-1zM13 10h1v1h-1zM23 10h1v1h-1zM27 11h1v1h-1zM6 12h1v1h-1zM10 12h1v1h-1zM3 13h1v1h-1zM4 13h1v1h-1zM8 13h1v1h-1zM15 13h1v1h-1zM17 13h1v1h-1zM23 15h1v1h-1zM4 16h1v1h-1zM15 16h1v1h-1zM20 16h1v1h-1zM6 17h1v1h-1zM1 19h1v1h-1zM27 20h1v1h-1zM5 21h1v1h-1zM13 21h1v1h-1zM4 22h1v1h-1zM12 22h1v1h-1zM22 23h1v1h-1zM27 23h1v1h-1zM1 25h1v1h-1zM14 25h1v1h-1zM17 25h1v1h-1zM28 25h1v1h-1z"/><path fill="#af4f3f" d="M0 0h1v1h-1zM6 0h1v1h-1zM11 0h1v1h-1zM2 3h1v1h-1zM28 3h1v1h-1zM13 4h1v1h-1zM18 4h1v1h-1zM1 5h1v1h-1zM4 5h1v1h-1zM5 6h1v1h-1zM26 7h1v1h-1zM12 8h1v1h-1zM18 8h1v1h-1zM22 11h1v1h-1zM18 12h1v1h-1zM2 13h1v1h-1zM5 13h1v1h-1zM27 16h1v1h-1zM2 18h1v1h-1zM21 18h1v1h-1zM16 20h1v1h-1zM3 21h1v1h-1zM16 21h1v1h-1zM16 23h1v1h-1zM10 24h1v1h-1z"/><path fill="#af3a3f" d="M13 0h1v1h-1zM16 0h1v1h-1zM0 1h1v1h-1zM3 1h1v1h-1zM7 1h1v1h-1zM11 1h1v1h-1zM21 1h1v1h-1zM29 1h1v1h-1zM19 3h1v1h-1zM24 4h1v1h-1zM25 4h1v1h-1zM16 5h1v1h-1zM22 5h1v1h-1zM8 7h1v1h-1zM12 7h1v1h-1zM0 8h1v1h-1zM27 8h1v1h-1zM0 9h1v1h-1zM3 9h1v1h-1zM16 11h1v1h-1zM29 11h1v1h-1zM0 12h1v1h-1zM8 12h1v1h-1zM7 16h1v1h-1zM9 17h1v1h-1zM16 17h1v1h-1zM15 19h1v1h-1zM19 19h1v1h-1zM1 20h1v1h-1zM5 20h1v1h-1zM12 21h1v1h-1zM2 22h1v1h-1zM6 23h1v1h-1zM11 24h1v1h-1zM18 24h1v1h-1zM24 24h1v1h-1zM26 24h1v1h-1zM7 25h1v1h-1z"/><path fill="#af253f" d="M9 0h1v1h-1zM27 0h1v1h-1zM20 1h1v1h-1zM10 2h1v1h-1zM12 2h1v1h-1zM8 3h1v1h-1zM21 3h1v1h-1zM7 4h1v1h-1zM8 4h1v1h-1zM6 5h1v1h-1zM26 6h1v1h-1zM29 6h1v1h-1zM11 8h1v1h-1zM19 8h1v1h-1zM15 10h1v1h-1zM4 11h1v1h-1zM14 11h1v1h-1zM14 14h1v1h-1zM27 14h1v1h-1zM8 15h1v1h-1zM15 15h1v1h-1zM22 15h1v1h-1zM1 16h1v1h-1zM17 16h1v1h-1zM14 17h1v1h-1zM0 19h1v1h-1zM6 19h1v1h-1zM18 19h1v1h-1zM28 19h1v1h-1zM17 20h1v1h-1zM22 22h1v1h-1zM19 23h1v1h-1zM2 24h1v1h-1zM3 24h1v1h-1zM4 25h1v1h-1z"/><path fill="#af103f" d="M3 0h1v1h-1zM8 0h1v1h-1zM19 0h1v1h-1zM2 1h1v1h-1zM4 1h1v1h-1zM5 1h1v1h-1zM27 2h1v1h-1zM5 3h1v1h-1zM6 3h1v1h-1zM13 3h1v1h-1zM27 3h1v1h-1zM16 6h1v1h-1zM17 6h1v1h-1zM5 7h1v1h-1zM21 9h1v1h-1zM10 10h1v1h-1zM3 12h1v1h-1zM21 12h1v1h-1zM24 12h1v1h-1zM20 13h1v1h-1zM8 14h1v1h-1zM22 14h1v1h-1zM5 16h1v1h-1zM22 16h1v1h-1zM6 18h1v1h-1zM13 18h1v1h-1zM14 18h1v1h-1zM28 18h1v1h-1zM17 19h1v1h-1zM23 19h1v1h-1zM19 20h1v1h-1zM18 21h1v1h-1zM28 21h1v1h-1zM5 22h1v1h-1zM5 24h1v1h-1z"/><path fill="#a4053f" d="M8 1h1v1h-1zM13 1h1v1h-1zM18 1h1v1h-1zM26 1h1v1h-1zM7 2h1v1h-1zM18 3h1v1h-1zM21 4h1v1h-1zM26 4h1v1h-1zM0 6h1v1h-1zM21 6h1v1h-1zM23 7h1v1h-1zM6 8h1v1h-1zM8 9h1v1h-1zM16 9h1v1h-1zM26 10h1v1h-1zM6 14h1v1h-1zM3 15h1v1h-1zM5 15h1v1h-1zM13 15h1v1h-1zM12 16h1v1h-1zM22 17h1v1h-1zM27 17h1v1h-1zM0 18h1v1h-1zM5 18h1v1h-1zM21 21h1v1h-1zM0 23h1v1h-1zM13 23h1v1h-1zM0 24h1v1h-1zM8 24h1v1h-1z"/><path fill="#8f053f" d="M28 1h1v1h-1zM14 2h1v1h-1zM20 2h1v1h-1zM22 3h1v1h-1zM28 4h1v1h-1zM2 7h1v1h-1zM10 7h1v1h-1zM17 8h1v1h-1zM15 9h1v1h-1zM26 9h1v1h-1zM0 13h1v1h-1zM1 14h1v1h-1zM9 14h1v1h-1zM0 15h1v1h-1zM8 18h1v1h-1zM26 18h1v1h-1zM29 18h1v1h-1zM12 19h1v1h-1zM25 19h1v1h-1zM15 21h1v1h-1zM26 21h1v1h-1zM29 21h1v1h-1zM14 23h1v1h-1zM0 25h1v1h-1z"/><path fill="#7a053f" d="M22 0h1v1h-1zM14 3h1v1h-1zM5 4h1v1h-1zM17 5h1v1h-1zM25 5h1v1h-1zM27 5h1v1h-1zM14 6h1v1h-1zM25 7h1v1h-1zM4 8h1v1h-1zM20 8h1v1h-1zM22 8h1v1h-1zM25 8h1v1h-1zM5 9h1v1h-1zM18 9h1v1h-1zM19 9h1v1h-1zM18 10h1v1h-1zM28 10h1v1h-1zM1 11h1v1h-1zM11 11h1v1h-1zM7 13h1v1h-1zM12 13h1v1h-1zM23 13h1v1h-1zM19 14h1v1h-1zM29 15h1v1h-1zM2 16h1v1h-1zM25 16h1v1h-1zM26 17h1v1h-1zM3 18h1v1h-1zM18 18h1v1h-1zM27 18h1v1h-1zM2 19h1v1h-1zM14 19h1v1h-1zM20 19h1v1h-1zM0 21h1v1h-1zM11 21h1v1h-1zM20 21h1v1h-1zM24 21h1v1h-1zM9 22h1v1h-1zM1 23h1v1h-1zM11 23h1v1h-1zM17 23h1v1h-1zM6 25h1v1h-1zM13 25h1v1h-1zM20 25h1v1h-1zM22 25h1v1h-1z"/></pattern><pattern id="pM" width="30" height="26" patternUnits="userSpaceOnUse" x="808" y="120"><path fill="#513f8d" d="M2 5h1v1h-1zM8 5h1v1h-1z"/><path fill="#513f9c" d="M22 1h1v1h-1zM22 4h1v1h-1zM18 11h1v1h-1zM17 18h1v1h-1zM19 18h1v1h-1zM13 22h1v1h-1z"/><path fill="#513faa" d="M6 3h1v1h-1zM0 8h1v1h-1zM1 9h1v1h-1zM21 11h1v1h-1zM23 14h1v1h-1zM26 16h1v1h-1zM5 17h1v1h-1zM8 17h1v1h-1zM7 20h1v1h-1zM8 20h1v1h-1zM26 20h1v1h-1zM9 21h1v1h-1zM1 24h1v1h-1z"/><path fill="#5146b1" d="M18 2h1v1h-1zM6 5h1v1h-1zM28 6h1v1h-1zM28 8h1v1h-1zM9 9h1v1h-1zM20 9h1v1h-1zM3 10h1v1h-1zM5 12h1v1h-1zM29 13h1v1h-1zM12 14h1v1h-1zM4 15h1v1h-1zM8 16h1v1h-1zM2 20h1v1h-1zM25 20h1v1h-1zM18 22h1v1h-1zM23 22h1v1h-1zM13 25h1v1h-1z"/><path fill="#5155b1" d="M15 3h1v1h-1zM22 3h1v1h-1zM10 8h1v1h-1zM18 8h1v1h-1zM11 10h1v1h-1zM24 10h1v1h-1zM28 10h1v1h-1zM23 11h1v1h-1zM28 11h1v1h-1zM4 12h1v1h-1zM20 12h1v1h-1zM19 13h1v1h-1zM25 15h1v1h-1zM23 18h1v1h-1zM24 18h1v1h-1zM25 18h1v1h-1zM27 18h1v1h-1zM11 19h1v1h-1zM11 21h1v1h-1zM20 21h1v1h-1zM27 21h1v1h-1zM3 25h1v1h-1zM6 25h1v1h-1zM24 25h1v1h-1z"/><path fill="#5163b1" d="M24 1h1v1h-1zM26 2h1v1h-1zM13 6h1v1h-1zM27 7h1v1h-1zM3 8h1v1h-1zM23 8h1v1h-1zM7 9h1v1h-1zM14 10h1v1h-1zM0 11h1v1h-1zM5 11h1v1h-1zM11 11h1v1h-1zM9 12h1v1h-1zM0 15h1v1h-1zM12 15h1v1h-1zM9 16h1v1h-1zM20 17h1v1h-1zM11 18h1v1h-1zM28 18h1v1h-1zM3 19h1v1h-1zM17 19h1v1h-1zM29 19h1v1h-1zM10 20h1v1h-1zM1 21h1v1h-1zM6 22h1v1h-1zM19 22h1v1h-1zM24 22h1v1h-1zM2 23h1v1h-1zM17 23h1v1h-1zM18 23h1v1h-1zM19 23h1v1h-1zM14 24h1v1h-1zM24 24h1v1h-1zM27 24h1v1h-1z"/><path fill="#5172b1" d="M14 1h1v1h-1zM19 1h1v1h-1zM3 2h1v1h-1zM8 2h1v1h-1zM22 2h1v1h-1zM7 3h1v1h-1zM10 3h1v1h-1zM10 5h1v1h-1zM2 6h1v1h-1zM9 6h1v1h-1zM2 7h1v1h-1zM9 7h1v1h-1zM6 8h1v1h-1zM13 8h1v1h-1zM18 9h1v1h-1zM17 10h1v1h-1zM8 11h1v1h-1zM16 11h1v1h-1zM2 12h1v1h-1zM16 13h1v1h-1zM26 14h1v1h-1zM21 16h1v1h-1zM10 17h1v1h-1zM1 18h1v1h-1zM5 20h1v1h-1zM23 21h1v1h-1zM16 22h1v1h-1zM0 23h1v1h-1zM25 23h1v1h-1zM8 25h1v1h-1z"/><path fill="#5180b1" d="M12 0h1v1h-1zM20 1h1v1h-1zM1 2h1v1h-1zM16 2h1v1h-1zM21 2h1v1h-1zM4 4h1v1h-1zM9 4h1v1h-1zM0 5h1v1h-1zM11 5h1v1h-1zM16 5h1v1h-1zM21 5h1v1h-1zM4 6h1v1h-1zM17 6h1v1h-1zM23 6h1v1h-1zM6 7h1v1h-1zM12 7h1v1h-1zM19 7h1v1h-1zM24 7h1v1h-1zM2 8h1v1h-1zM5 8h1v1h-1zM16 8h1v1h-1zM13 9h1v1h-1zM15 9h1v1h-1zM17 9h1v1h-1zM22 9h1v1h-1zM25 9h1v1h-1zM7 10h1v1h-1zM12 11h1v1h-1zM13 11h1v1h-1zM1 12h1v1h-1zM17 12h1v1h-1zM24 13h1v1h-1zM0 14h1v1h-1zM7 15h1v1h-1zM9 15h1v1h-1zM10 15h1v1h-1zM13 15h1v1h-1zM15 15h1v1h-1zM19 16h1v1h-1zM21 17h1v1h-1zM16 18h1v1h-1zM20 20h1v1h-1zM17 21h1v1h-1zM18 21h1v1h-1zM19 21h1v1h-1zM3 22h1v1h-1zM11 22h1v1h-1zM14 22h1v1h-1zM7 23h1v1h-1zM15 23h1v1h-1zM20 23h1v1h-1zM28 23h1v1h-1zM9 24h1v1h-1zM16 25h1v1h-1z"/><path fill="#518eb1" d="M10 0h1v1h-1zM15 0h1v1h-1zM26 0h1v1h-1zM13 2h1v1h-1zM15 2h1v1h-1zM20 2h1v1h-1zM29 2h1v1h-1zM0 3h1v1h-1zM4 3h1v1h-1zM18 3h1v1h-1zM19 3h1v1h-1zM26 3h1v1h-1zM1 4h1v1h-1zM3 4h1v1h-1zM19 5h1v1h-1zM23 5h1v1h-1zM7 6h1v1h-1zM20 6h1v1h-1zM4 7h1v1h-1zM7 7h1v1h-1zM8 7h1v1h-1zM11 7h1v1h-1zM22 8h1v1h-1zM6 9h1v1h-1zM11 9h1v1h-1zM1 10h1v1h-1zM6 10h1v1h-1zM9 10h1v1h-1zM20 11h1v1h-1zM12 12h1v1h-1zM23 12h1v1h-1zM1 13h1v1h-1zM10 14h1v1h-1zM28 15h1v1h-1zM3 16h1v1h-1zM4 17h1v1h-1zM14 17h1v1h-1zM1 19h1v1h-1zM2 19h1v1h-1zM13 19h1v1h-1zM14 19h1v1h-1zM19 19h1v1h-1zM21 19h1v1h-1zM15 20h1v1h-1zM24 20h1v1h-1zM12 21h1v1h-1zM9 22h1v1h-1zM17 22h1v1h-1zM21 22h1v1h-1zM10 23h1v1h-1zM26 25h1v1h-1z"/><path fill="#5896aa" d="M2 0h1v1h-1zM4 0h1v1h-1zM7 0h1v1h-1zM22 0h1v1h-1zM25 0h1v1h-1zM27 1h1v1h-1zM0 2h1v1h-1zM2 2h1v1h-1zM5 2h1v1h-1zM28 2h1v1h-1zM20 3h1v1h-1zM28 3h1v1h-1zM6 4h1v1h-1zM17 4h1v1h-1zM26 5h1v1h-1zM3 6h1v1h-1zM10 6h1v1h-1zM12 6h1v1h-1zM1 7h1v1h-1zM9 8h1v1h-1zM12 8h1v1h-1zM12 9h1v1h-1zM12 10h1v1h-1zM19 10h1v1h-1zM26 10h1v1h-1zM2 11h1v1h-1zM3 11h1v1h-1zM6 13h1v1h-1zM14 13h1v1h-1zM8 14h1v1h-1zM11 14h1v1h-1zM13 14h1v1h-1zM18 14h1v1h-1zM5 15h1v1h-1zM17 15h1v1h-1zM24 16h1v1h-1zM0 17h1v1h-1zM15 17h1v1h-1zM16 17h1v1h-1zM18 17h1v1h-1zM7 18h1v1h-1zM9 18h1v1h-1zM14 18h1v1h-1zM8 19h1v1h-1zM9 19h1v1h-1zM28 20h1v1h-1zM15 21h1v1h-1zM25 21h1v1h-1zM27 22h1v1h-1zM8 23h1v1h-1zM21 23h1v1h-1zM26 23h1v1h-1zM6 24h1v1h-1zM15 24h1v1h-1zM17 24h1v1h-1zM19 24h1v1h-1zM20 24h1v1h-1zM23 25h1v1h-1zM25 25h1v1h-1zM29 25h1v1h-1z"/><path fill="#66969c" d="M5 0h1v1h-1zM21 0h1v1h-1zM3 1h1v1h-1zM4 1h1v1h-1zM12 1h1v1h-1zM4 2h1v1h-1zM11 2h1v1h-1zM23 2h1v1h-1zM3 3h1v1h-1zM5 3h1v1h-1zM23 3h1v1h-1zM2 4h1v1h-1zM14 4h1v1h-1zM25 4h1v1h-1zM18 5h1v1h-1zM27 5h1v1h-1zM26 6h1v1h-1zM14 7h1v1h-1zM16 7h1v1h-1zM29 7h1v1h-1zM11 8h1v1h-1zM15 8h1v1h-1zM3 9h1v1h-1zM28 9h1v1h-1zM0 10h1v1h-1zM8 10h1v1h-1zM16 10h1v1h-1zM18 10h1v1h-1zM21 10h1v1h-1zM22 10h1v1h-1zM7 11h1v1h-1zM10 11h1v1h-1zM25 12h1v1h-1zM7 13h1v1h-1zM10 13h1v1h-1zM15 13h1v1h-1zM28 13h1v1h-1zM20 14h1v1h-1zM21 14h1v1h-1zM16 15h1v1h-1zM27 15h1v1h-1zM1 16h1v1h-1zM4 16h1v1h-1zM14 16h1v1h-1zM18 16h1v1h-1zM2 17h1v1h-1zM12 17h1v1h-1zM22 17h1v1h-1zM4 18h1v1h-1zM5 18h1v1h-1zM6 18h1v1h-1zM12 18h1v1h-1zM18 18h1v1h-1zM22 18h1v1h-1zM16 19h1v1h-1zM4 20h1v1h-1zM13 20h1v1h-1zM18 20h1v1h-1zM21 20h1v1h-1zM5 21h1v1h-1zM22 21h1v1h-1zM24 21h1v1h-1zM12 22h1v1h-1zM14 23h1v1h-1zM23 23h1v1h-1zM3 24h1v1h-1zM11 24h1v1h-1zM25 24h1v1h-1zM21 25h1v1h-1z"/><path fill="#75968d" d="M13 0h1v1h-1zM16 0h1v1h-1zM20 0h1v1h-1zM1 1h1v1h-1zM10 2h1v1h-1zM1 3h1v1h-1zM2 3h1v1h-1zM12 3h1v1h-1zM14 3h1v1h-1zM27 3h1v1h-1zM8 4h1v1h-1zM20 4h1v1h-1zM5 5h1v1h-1zM0 6h1v1h-1zM18 6h1v1h-1zM25 6h1v1h-1zM3 7h1v1h-1zM20 8h1v1h-1zM24 8h1v1h-1zM27 8h1v1h-1zM10 9h1v1h-1zM4 10h1v1h-1zM29 10h1v1h-1zM17 11h1v1h-1zM22 12h1v1h-1zM26 12h1v1h-1zM18 13h1v1h-1zM21 13h1v1h-1zM22 13h1v1h-1zM27 13h1v1h-1zM2 14h1v1h-1zM6 14h1v1h-1zM28 14h1v1h-1zM3 15h1v1h-1zM6 15h1v1h-1zM14 15h1v1h-1zM19 15h1v1h-1zM20 15h1v1h-1zM5 16h1v1h-1zM11 16h1v1h-1zM16 16h1v1h-1zM22 16h1v1h-1zM29 16h1v1h-1zM10 19h1v1h-1zM22 19h1v1h-1zM23 19h1v1h-1zM24 19h1v1h-1zM3 21h1v1h-1zM4 21h1v1h-1zM7 21h1v1h-1zM1 22h1v1h-1zM15 22h1v1h-1zM12 23h1v1h-1zM13 23h1v1h-1zM29 23h1v1h-1zM5 24h1v1h-1zM11 25h1v1h-1z"/><path fill="#83967f" d="M23 0h1v1h-1zM6 1h1v1h-1zM0 4h1v1h-1zM19 4h1v1h-1zM24 4h1v1h-1zM3 5h1v1h-1zM4 5h1v1h-1zM13 5h1v1h-1zM6 6h1v1h-1zM14 6h1v1h-1zM15 6h1v1h-1zM21 6h1v1h-1zM22 6h1v1h-1zM27 6h1v1h-1zM4 8h1v1h-1zM8 8h1v1h-1zM26 8h1v1h-1zM2 10h1v1h-1zM13 10h1v1h-1zM20 10h1v1h-1zM4 11h1v1h-1zM3 12h1v1h-1zM6 12h1v1h-1zM7 12h1v1h-1zM14 12h1v1h-1zM9 13h1v1h-1zM12 13h1v1h-1zM1 14h1v1h-1zM27 14h1v1h-1zM29 14h1v1h-1zM1 15h1v1h-1zM29 17h1v1h-1zM0 18h1v1h-1zM3 18h1v1h-1zM29 18h1v1h-1zM5 19h1v1h-1zM1 20h1v1h-1zM12 20h1v1h-1zM16 20h1v1h-1zM8 21h1v1h-1zM10 22h1v1h-1zM25 22h1v1h-1zM26 22h1v1h-1zM29 22h1v1h-1zM7 24h1v1h-1zM15 25h1v1h-1zM17 25h1v1h-1zM22 25h1v1h-1z"/><path fill="#929670" d="M1 0h1v1h-1zM27 0h1v1h-1zM7 1h1v1h-1zM8 1h1v1h-1zM9 1h1v1h-1zM16 1h1v1h-1zM26 1h1v1h-1zM6 2h1v1h-1zM19 2h1v1h-1zM25 2h1v1h-1zM13 3h1v1h-1zM25 3h1v1h-1zM11 4h1v1h-1zM16 4h1v1h-1zM1 5h1v1h-1zM9 5h1v1h-1zM12 5h1v1h-1zM10 7h1v1h-1zM20 7h1v1h-1zM21 8h1v1h-1zM8 9h1v1h-1zM21 9h1v1h-1zM27 9h1v1h-1zM10 10h1v1h-1zM28 12h1v1h-1zM2 13h1v1h-1zM4 13h1v1h-1zM8 13h1v1h-1zM11 15h1v1h-1zM24 15h1v1h-1zM29 15h1v1h-1zM0 16h1v1h-1zM27 16h1v1h-1zM3 17h1v1h-1zM13 17h1v1h-1zM17 17h1v1h-1zM23 17h1v1h-1zM24 17h1v1h-1zM26 17h1v1h-1zM0 19h1v1h-1zM7 19h1v1h-1zM27 19h1v1h-1zM0 20h1v1h-1zM7 22h1v1h-1zM11 23h1v1h-1zM22 23h1v1h-1zM10 24h1v1h-1zM12 24h1v1h-1zM18 24h1v1h-1zM4 25h1v1h-1zM10 25h1v1h-1zM12 25h1v1h-1z"/><path fill="#a09662" d="M9 0h1v1h-1zM28 0h1v1h-1zM17 1h1v1h-1zM25 1h1v1h-1zM9 2h1v1h-1zM14 2h1v1h-1zM8 3h1v1h-1zM21 3h1v1h-1zM24 3h1v1h-1zM7 5h1v1h-1zM14 5h1v1h-1zM29 5h1v1h-1zM5 6h1v1h-1zM16 6h1v1h-1zM18 7h1v1h-1zM23 7h1v1h-1zM14 8h1v1h-1zM17 8h1v1h-1zM19 8h1v1h-1zM0 9h1v1h-1zM29 9h1v1h-1zM27 10h1v1h-1zM29 11h1v1h-1zM18 12h1v1h-1zM27 12h1v1h-1zM29 12h1v1h-1zM11 13h1v1h-1zM25 13h1v1h-1zM4 14h1v1h-1zM14 14h1v1h-1zM19 14h1v1h-1zM22 14h1v1h-1zM13 16h1v1h-1zM17 16h1v1h-1zM25 16h1v1h-1zM9 17h1v1h-1zM27 17h1v1h-1zM10 18h1v1h-1zM12 19h1v1h-1zM11 20h1v1h-1zM22 20h1v1h-1zM23 20h1v1h-1zM0 21h1v1h-1zM2 21h1v1h-1zM16 21h1v1h-1zM26 21h1v1h-1zM28 21h1v1h-1zM29 21h1v1h-1zM0 22h1v1h-1zM3 23h1v1h-1zM27 23h1v1h-1zM0 25h1v1h-1zM7 25h1v1h-1zM19 25h1v1h-1z"/><path fill="#a78e5b" d="M14 0h1v1h-1zM0 1h1v1h-1zM11 1h1v1h-1zM13 1h1v1h-1zM29 1h1v1h-1zM12 2h1v1h-1zM16 3h1v1h-1zM17 3h1v1h-1zM12 4h1v1h-1zM27 4h1v1h-1zM28 4h1v1h-1zM25 5h1v1h-1zM24 6h1v1h-1zM17 7h1v1h-1zM25 8h1v1h-1zM2 9h1v1h-1zM24 9h1v1h-1zM15 10h1v1h-1zM23 10h1v1h-1zM27 11h1v1h-1zM5 13h1v1h-1zM24 14h1v1h-1zM25 14h1v1h-1zM2 15h1v1h-1zM26 15h1v1h-1zM7 17h1v1h-1zM25 17h1v1h-1zM8 18h1v1h-1zM20 18h1v1h-1zM20 19h1v1h-1zM25 19h1v1h-1zM26 19h1v1h-1zM17 20h1v1h-1zM19 20h1v1h-1zM27 20h1v1h-1zM6 21h1v1h-1zM14 21h1v1h-1zM4 22h1v1h-1zM22 22h1v1h-1zM26 24h1v1h-1zM1 25h1v1h-1zM5 25h1v1h-1zM9 25h1v1h-1zM14 25h1v1h-1zM27 25h1v1h-1z"/><path fill="#a7805b" d="M3 0h1v1h-1zM8 0h1v1h-1zM18 0h1v1h-1zM29 0h1v1h-1zM17 2h1v1h-1zM9 3h1v1h-1zM5 4h1v1h-1zM10 4h1v1h-1zM15 4h1v1h-1zM17 5h1v1h-1zM1 6h1v1h-1zM8 6h1v1h-1zM21 7h1v1h-1zM22 7h1v1h-1zM25 7h1v1h-1zM28 7h1v1h-1zM1 8h1v1h-1zM4 9h1v1h-1zM19 9h1v1h-1zM25 10h1v1h-1zM1 11h1v1h-1zM24 11h1v1h-1zM25 11h1v1h-1zM26 11h1v1h-1zM0 12h1v1h-1zM11 12h1v1h-1zM24 12h1v1h-1zM3 13h1v1h-1zM13 13h1v1h-1zM17 13h1v1h-1zM26 13h1v1h-1zM5 14h1v1h-1zM7 14h1v1h-1zM9 14h1v1h-1zM15 14h1v1h-1zM8 15h1v1h-1zM20 16h1v1h-1zM28 17h1v1h-1zM2 18h1v1h-1zM13 18h1v1h-1zM15 18h1v1h-1zM26 18h1v1h-1zM18 19h1v1h-1zM28 19h1v1h-1zM3 20h1v1h-1zM10 21h1v1h-1zM4 23h1v1h-1zM24 23h1v1h-1z"/><path fill="#a7725b" d="M0 0h1v1h-1zM15 1h1v1h-1zM21 1h1v1h-1zM28 1h1v1h-1zM27 2h1v1h-1zM11 3h1v1h-1zM7 4h1v1h-1zM18 4h1v1h-1zM21 4h1v1h-1zM26 4h1v1h-1zM15 5h1v1h-1zM29 6h1v1h-1zM0 7h1v1h-1zM15 7h1v1h-1zM29 8h1v1h-1zM6 11h1v1h-1zM19 11h1v1h-1zM13 12h1v1h-1zM3 14h1v1h-1zM7 16h1v1h-1zM12 16h1v1h-1zM28 16h1v1h-1zM11 17h1v1h-1zM6 19h1v1h-1zM20 22h1v1h-1zM16 23h1v1h-1zM4 24h1v1h-1zM13 24h1v1h-1zM16 24h1v1h-1zM21 24h1v1h-1zM22 24h1v1h-1zM28 25h1v1h-1z"/><path fill="#a7635b" d="M17 0h1v1h-1zM5 1h1v1h-1zM10 1h1v1h-1zM29 3h1v1h-1zM13 4h1v1h-1zM23 4h1v1h-1zM22 5h1v1h-1zM28 5h1v1h-1zM14 11h1v1h-1zM10 12h1v1h-1zM15 12h1v1h-1zM16 12h1v1h-1zM17 14h1v1h-1zM18 15h1v1h-1zM21 15h1v1h-1zM23 15h1v1h-1zM2 16h1v1h-1zM6 16h1v1h-1zM15 16h1v1h-1zM4 19h1v1h-1zM15 19h1v1h-1zM9 20h1v1h-1zM14 20h1v1h-1zM1 23h1v1h-1zM23 24h1v1h-1zM18 25h1v1h-1z"/><path fill="#a7555b" d="M19 0h1v1h-1zM23 1h1v1h-1zM24 2h1v1h-1zM29 4h1v1h-1zM20 5h1v1h-1zM5 7h1v1h-1zM7 8h1v1h-1zM9 11h1v1h-1zM22 11h1v1h-1zM23 13h1v1h-1zM10 16h1v1h-1zM1 17h1v1h-1zM6 17h1v1h-1zM21 18h1v1h-1zM5 22h1v1h-1zM8 22h1v1h-1zM0 24h1v1h-1zM2 24h1v1h-1zM28 24h1v1h-1zM29 24h1v1h-1zM20 25h1v1h-1z"/><path fill="#a7465b" d="M11 0h1v1h-1zM2 1h1v1h-1zM11 6h1v1h-1zM16 9h1v1h-1zM23 9h1v1h-1zM5 10h1v1h-1zM15 11h1v1h-1zM8 12h1v1h-1zM19 12h1v1h-1zM16 14h1v1h-1zM22 15h1v1h-1zM23 16h1v1h-1zM19 17h1v1h-1zM29 20h1v1h-1zM13 21h1v1h-1zM2 22h1v1h-1zM2 25h1v1h-1z"/><path fill="#a03f5b" d="M7 2h1v1h-1zM24 5h1v1h-1zM13 7h1v1h-1zM14 9h1v1h-1zM26 9h1v1h-1zM6 20h1v1h-1zM21 21h1v1h-1zM28 22h1v1h-1z"/><path fill="#923f5b" d="M24 0h1v1h-1zM18 1h1v1h-1zM19 6h1v1h-1zM21 12h1v1h-1zM5 23h1v1h-1zM6 23h1v1h-1zM8 24h1v1h-1z"/><path fill="#833f5b" d="M6 0h1v1h-1zM26 7h1v1h-1zM5 9h1v1h-1zM0 13h1v1h-1zM20 13h1v1h-1zM9 23h1v1h-1z"/></pattern><pattern id="pL" width="30" height="26" patternUnits="userSpaceOnUse" x="808" y="120"><path fill="#4a68ad" d="M17 21h1v1h-1z"/><path fill="#4a78ad" d="M22 4h1v1h-1zM22 18h1v1h-1zM13 19h1v1h-1z"/><path fill="#4a88ad" d="M16 0h1v1h-1zM28 2h1v1h-1zM17 4h1v1h-1zM15 9h1v1h-1zM24 11h1v1h-1zM4 18h1v1h-1zM5 18h1v1h-1zM6 18h1v1h-1zM6 19h1v1h-1zM2 20h1v1h-1zM11 24h1v1h-1zM3 25h1v1h-1z"/><path fill="#4a98ad" d="M25 0h1v1h-1zM26 0h1v1h-1zM19 7h1v1h-1zM22 7h1v1h-1zM3 8h1v1h-1zM16 10h1v1h-1zM29 10h1v1h-1zM12 18h1v1h-1zM25 18h1v1h-1zM19 21h1v1h-1zM10 23h1v1h-1zM26 25h1v1h-1z"/><path fill="#4aa9ad" d="M10 0h1v1h-1zM20 0h1v1h-1zM4 1h1v1h-1zM21 5h1v1h-1zM25 6h1v1h-1zM11 7h1v1h-1zM12 7h1v1h-1zM16 8h1v1h-1zM25 9h1v1h-1zM0 10h1v1h-1zM21 10h1v1h-1zM12 12h1v1h-1zM6 13h1v1h-1zM16 13h1v1h-1zM18 14h1v1h-1zM25 16h1v1h-1zM26 16h1v1h-1zM17 18h1v1h-1zM9 21h1v1h-1zM7 23h1v1h-1zM16 24h1v1h-1zM19 24h1v1h-1zM5 25h1v1h-1zM13 25h1v1h-1zM27 25h1v1h-1z"/><path fill="#4ab9ad" d="M9 0h1v1h-1zM21 0h1v1h-1zM23 0h1v1h-1zM28 0h1v1h-1zM12 1h1v1h-1zM17 1h1v1h-1zM16 2h1v1h-1zM18 2h1v1h-1zM1 4h1v1h-1zM16 4h1v1h-1zM27 4h1v1h-1zM2 5h1v1h-1zM16 5h1v1h-1zM17 6h1v1h-1zM20 7h1v1h-1zM12 8h1v1h-1zM21 8h1v1h-1zM4 9h1v1h-1zM20 9h1v1h-1zM23 10h1v1h-1zM27 10h1v1h-1zM13 11h1v1h-1zM18 11h1v1h-1zM20 12h1v1h-1zM24 12h1v1h-1zM5 13h1v1h-1zM15 13h1v1h-1zM24 13h1v1h-1zM29 14h1v1h-1zM9 15h1v1h-1zM15 15h1v1h-1zM0 16h1v1h-1zM13 16h1v1h-1zM21 16h1v1h-1zM0 17h1v1h-1zM7 17h1v1h-1zM16 19h1v1h-1zM19 19h1v1h-1zM7 21h1v1h-1zM22 21h1v1h-1zM25 21h1v1h-1zM3 22h1v1h-1zM5 22h1v1h-1zM13 22h1v1h-1zM29 22h1v1h-1zM0 23h1v1h-1zM19 23h1v1h-1zM1 24h1v1h-1zM10 24h1v1h-1zM2 25h1v1h-1zM16 25h1v1h-1z"/><path fill="#52c1a5" d="M3 0h1v1h-1zM7 0h1v1h-1zM16 1h1v1h-1zM13 2h1v1h-1zM11 3h1v1h-1zM6 4h1v1h-1zM9 4h1v1h-1zM19 4h1v1h-1zM0 5h1v1h-1zM20 5h1v1h-1zM10 6h1v1h-1zM26 6h1v1h-1zM29 7h1v1h-1zM10 8h1v1h-1zM17 8h1v1h-1zM6 10h1v1h-1zM10 10h1v1h-1zM19 10h1v1h-1zM20 10h1v1h-1zM8 11h1v1h-1zM14 11h1v1h-1zM20 11h1v1h-1zM2 12h1v1h-1zM4 12h1v1h-1zM9 12h1v1h-1zM14 12h1v1h-1zM17 12h1v1h-1zM0 14h1v1h-1zM6 14h1v1h-1zM20 14h1v1h-1zM26 14h1v1h-1zM6 15h1v1h-1zM19 15h1v1h-1zM20 15h1v1h-1zM6 16h1v1h-1zM22 16h1v1h-1zM28 17h1v1h-1zM1 18h1v1h-1zM28 18h1v1h-1zM21 19h1v1h-1zM24 19h1v1h-1zM8 20h1v1h-1zM18 20h1v1h-1zM26 20h1v1h-1zM28 20h1v1h-1zM4 21h1v1h-1zM12 21h1v1h-1zM14 21h1v1h-1zM19 22h1v1h-1zM27 22h1v1h-1zM5 23h1v1h-1zM13 23h1v1h-1zM26 23h1v1h-1zM29 23h1v1h-1zM9 24h1v1h-1zM27 24h1v1h-1zM28 24h1v1h-1zM21 25h1v1h-1z"/><path fill="#62c195" d="M1 1h1v1h-1zM25 1h1v1h-1zM8 2h1v1h-1zM11 2h1v1h-1zM19 2h1v1h-1zM21 2h1v1h-1zM29 2h1v1h-1zM5 3h1v1h-1zM23 3h1v1h-1zM4 4h1v1h-1zM12 4h1v1h-1zM7 5h1v1h-1zM13 5h1v1h-1zM18 5h1v1h-1zM2 6h1v1h-1zM11 6h1v1h-1zM12 6h1v1h-1zM15 6h1v1h-1zM0 7h1v1h-1zM1 7h1v1h-1zM4 7h1v1h-1zM9 7h1v1h-1zM10 7h1v1h-1zM14 7h1v1h-1zM2 8h1v1h-1zM4 8h1v1h-1zM11 8h1v1h-1zM28 8h1v1h-1zM17 9h1v1h-1zM14 10h1v1h-1zM17 10h1v1h-1zM25 10h1v1h-1zM10 11h1v1h-1zM19 11h1v1h-1zM28 11h1v1h-1zM1 12h1v1h-1zM19 12h1v1h-1zM25 12h1v1h-1zM4 13h1v1h-1zM8 13h1v1h-1zM26 13h1v1h-1zM27 13h1v1h-1zM29 13h1v1h-1zM3 14h1v1h-1zM23 14h1v1h-1zM0 15h1v1h-1zM4 15h1v1h-1zM12 15h1v1h-1zM19 16h1v1h-1zM27 16h1v1h-1zM4 17h1v1h-1zM18 17h1v1h-1zM29 17h1v1h-1zM14 19h1v1h-1zM15 19h1v1h-1zM26 19h1v1h-1zM27 19h1v1h-1zM7 20h1v1h-1zM20 20h1v1h-1zM6 21h1v1h-1zM26 21h1v1h-1zM29 21h1v1h-1zM14 22h1v1h-1zM9 23h1v1h-1zM12 23h1v1h-1zM23 23h1v1h-1zM4 24h1v1h-1zM6 24h1v1h-1zM0 25h1v1h-1zM4 25h1v1h-1zM8 25h1v1h-1zM11 25h1v1h-1z"/><path fill="#72c184" d="M5 0h1v1h-1zM11 0h1v1h-1zM13 0h1v1h-1zM14 0h1v1h-1zM17 0h1v1h-1zM9 1h1v1h-1zM24 1h1v1h-1zM27 1h1v1h-1zM4 2h1v1h-1zM22 2h1v1h-1zM23 2h1v1h-1zM17 3h1v1h-1zM18 3h1v1h-1zM20 3h1v1h-1zM26 3h1v1h-1zM28 3h1v1h-1zM14 4h1v1h-1zM18 4h1v1h-1zM3 5h1v1h-1zM8 5h1v1h-1zM10 5h1v1h-1zM24 5h1v1h-1zM25 5h1v1h-1zM29 5h1v1h-1zM1 6h1v1h-1zM20 6h1v1h-1zM28 6h1v1h-1zM29 6h1v1h-1zM17 7h1v1h-1zM29 8h1v1h-1zM8 9h1v1h-1zM10 9h1v1h-1zM18 9h1v1h-1zM19 9h1v1h-1zM5 11h1v1h-1zM7 11h1v1h-1zM23 11h1v1h-1zM0 12h1v1h-1zM14 13h1v1h-1zM23 13h1v1h-1zM2 14h1v1h-1zM5 14h1v1h-1zM7 14h1v1h-1zM10 14h1v1h-1zM16 14h1v1h-1zM19 14h1v1h-1zM22 14h1v1h-1zM28 14h1v1h-1zM10 15h1v1h-1zM11 15h1v1h-1zM17 15h1v1h-1zM28 15h1v1h-1zM1 16h1v1h-1zM5 16h1v1h-1zM7 16h1v1h-1zM9 16h1v1h-1zM18 16h1v1h-1zM6 17h1v1h-1zM9 17h1v1h-1zM17 17h1v1h-1zM23 17h1v1h-1zM3 18h1v1h-1zM14 18h1v1h-1zM15 18h1v1h-1zM4 19h1v1h-1zM11 19h1v1h-1zM9 20h1v1h-1zM10 20h1v1h-1zM0 21h1v1h-1zM1 21h1v1h-1zM10 21h1v1h-1zM28 21h1v1h-1zM1 22h1v1h-1zM8 22h1v1h-1zM10 22h1v1h-1zM24 22h1v1h-1zM15 23h1v1h-1zM20 23h1v1h-1zM0 24h1v1h-1zM12 24h1v1h-1zM22 24h1v1h-1zM24 24h1v1h-1zM25 24h1v1h-1zM1 25h1v1h-1zM6 25h1v1h-1zM7 25h1v1h-1zM15 25h1v1h-1zM18 25h1v1h-1zM19 25h1v1h-1zM28 25h1v1h-1z"/><path fill="#82c175" d="M12 0h1v1h-1zM15 0h1v1h-1zM24 0h1v1h-1zM11 1h1v1h-1zM15 1h1v1h-1zM0 2h1v1h-1zM3 2h1v1h-1zM7 2h1v1h-1zM7 3h1v1h-1zM10 3h1v1h-1zM27 3h1v1h-1zM2 4h1v1h-1zM13 4h1v1h-1zM26 4h1v1h-1zM6 5h1v1h-1zM11 5h1v1h-1zM19 5h1v1h-1zM22 5h1v1h-1zM23 5h1v1h-1zM28 5h1v1h-1zM4 6h1v1h-1zM5 6h1v1h-1zM13 6h1v1h-1zM22 6h1v1h-1zM23 6h1v1h-1zM24 7h1v1h-1zM25 7h1v1h-1zM0 8h1v1h-1zM18 8h1v1h-1zM24 8h1v1h-1zM1 9h1v1h-1zM2 9h1v1h-1zM22 9h1v1h-1zM1 10h1v1h-1zM3 10h1v1h-1zM9 10h1v1h-1zM12 10h1v1h-1zM13 10h1v1h-1zM18 10h1v1h-1zM0 11h1v1h-1zM12 11h1v1h-1zM16 11h1v1h-1zM27 11h1v1h-1zM29 11h1v1h-1zM10 12h1v1h-1zM15 12h1v1h-1zM23 12h1v1h-1zM28 12h1v1h-1zM1 13h1v1h-1zM12 13h1v1h-1zM13 13h1v1h-1zM17 13h1v1h-1zM19 13h1v1h-1zM20 13h1v1h-1zM8 14h1v1h-1zM21 14h1v1h-1zM1 15h1v1h-1zM3 15h1v1h-1zM24 15h1v1h-1zM3 16h1v1h-1zM8 16h1v1h-1zM24 16h1v1h-1zM5 17h1v1h-1zM10 17h1v1h-1zM21 17h1v1h-1zM25 17h1v1h-1zM0 18h1v1h-1zM19 18h1v1h-1zM21 18h1v1h-1zM5 19h1v1h-1zM7 19h1v1h-1zM17 19h1v1h-1zM25 19h1v1h-1zM29 19h1v1h-1zM6 20h1v1h-1zM15 20h1v1h-1zM5 21h1v1h-1zM18 21h1v1h-1zM6 22h1v1h-1zM18 22h1v1h-1zM26 22h1v1h-1zM2 23h1v1h-1zM4 23h1v1h-1zM18 24h1v1h-1zM10 25h1v1h-1zM17 25h1v1h-1zM20 25h1v1h-1zM22 25h1v1h-1zM23 25h1v1h-1zM24 25h1v1h-1zM25 25h1v1h-1z"/><path fill="#93c164" d="M18 0h1v1h-1zM19 0h1v1h-1zM3 1h1v1h-1zM7 1h1v1h-1zM8 1h1v1h-1zM22 1h1v1h-1zM23 1h1v1h-1zM12 2h1v1h-1zM15 2h1v1h-1zM27 2h1v1h-1zM0 3h1v1h-1zM1 3h1v1h-1zM2 3h1v1h-1zM6 3h1v1h-1zM15 3h1v1h-1zM24 3h1v1h-1zM7 4h1v1h-1zM11 4h1v1h-1zM15 4h1v1h-1zM23 4h1v1h-1zM29 4h1v1h-1zM4 5h1v1h-1zM5 5h1v1h-1zM15 5h1v1h-1zM26 5h1v1h-1zM0 6h1v1h-1zM6 6h1v1h-1zM7 6h1v1h-1zM8 6h1v1h-1zM14 6h1v1h-1zM3 7h1v1h-1zM21 7h1v1h-1zM27 7h1v1h-1zM7 8h1v1h-1zM14 8h1v1h-1zM20 8h1v1h-1zM23 8h1v1h-1zM26 8h1v1h-1zM27 8h1v1h-1zM3 9h1v1h-1zM13 9h1v1h-1zM16 9h1v1h-1zM5 10h1v1h-1zM7 10h1v1h-1zM8 10h1v1h-1zM22 10h1v1h-1zM24 10h1v1h-1zM2 11h1v1h-1zM3 11h1v1h-1zM6 11h1v1h-1zM9 11h1v1h-1zM21 11h1v1h-1zM22 11h1v1h-1zM6 12h1v1h-1zM21 12h1v1h-1zM22 12h1v1h-1zM3 13h1v1h-1zM11 13h1v1h-1zM4 14h1v1h-1zM9 14h1v1h-1zM12 14h1v1h-1zM2 15h1v1h-1zM21 15h1v1h-1zM22 15h1v1h-1zM25 15h1v1h-1zM11 16h1v1h-1zM14 16h1v1h-1zM1 17h1v1h-1zM2 17h1v1h-1zM8 17h1v1h-1zM12 17h1v1h-1zM16 17h1v1h-1zM2 18h1v1h-1zM3 20h1v1h-1zM4 20h1v1h-1zM13 20h1v1h-1zM16 20h1v1h-1zM24 20h1v1h-1zM27 20h1v1h-1zM15 21h1v1h-1zM16 21h1v1h-1zM27 21h1v1h-1zM2 22h1v1h-1zM11 22h1v1h-1zM21 22h1v1h-1zM11 23h1v1h-1zM16 23h1v1h-1zM18 23h1v1h-1zM3 24h1v1h-1zM7 24h1v1h-1zM13 24h1v1h-1zM17 24h1v1h-1zM21 24h1v1h-1zM12 25h1v1h-1zM29 25h1v1h-1z"/><path fill="#a3c154" d="M1 0h1v1h-1zM4 0h1v1h-1zM29 0h1v1h-1zM0 1h1v1h-1zM10 1h1v1h-1zM2 2h1v1h-1zM5 2h1v1h-1zM6 2h1v1h-1zM9 2h1v1h-1zM20 2h1v1h-1zM24 2h1v1h-1zM3 3h1v1h-1zM9 3h1v1h-1zM12 3h1v1h-1zM0 4h1v1h-1zM10 4h1v1h-1zM20 4h1v1h-1zM24 4h1v1h-1zM25 4h1v1h-1zM9 5h1v1h-1zM12 5h1v1h-1zM14 5h1v1h-1zM17 5h1v1h-1zM18 6h1v1h-1zM21 6h1v1h-1zM16 7h1v1h-1zM1 8h1v1h-1zM8 8h1v1h-1zM15 8h1v1h-1zM0 9h1v1h-1zM5 9h1v1h-1zM6 9h1v1h-1zM9 9h1v1h-1zM11 9h1v1h-1zM4 10h1v1h-1zM11 10h1v1h-1zM1 11h1v1h-1zM4 11h1v1h-1zM15 11h1v1h-1zM26 11h1v1h-1zM3 12h1v1h-1zM5 12h1v1h-1zM13 12h1v1h-1zM26 12h1v1h-1zM29 12h1v1h-1zM1 14h1v1h-1zM17 14h1v1h-1zM27 14h1v1h-1zM13 15h1v1h-1zM16 15h1v1h-1zM18 15h1v1h-1zM2 16h1v1h-1zM10 16h1v1h-1zM12 16h1v1h-1zM15 16h1v1h-1zM16 16h1v1h-1zM17 16h1v1h-1zM13 17h1v1h-1zM15 17h1v1h-1zM20 17h1v1h-1zM22 17h1v1h-1zM9 18h1v1h-1zM10 18h1v1h-1zM16 18h1v1h-1zM18 18h1v1h-1zM26 18h1v1h-1zM27 18h1v1h-1zM29 18h1v1h-1zM0 19h1v1h-1zM1 19h1v1h-1zM2 19h1v1h-1zM8 19h1v1h-1zM9 19h1v1h-1zM18 19h1v1h-1zM23 19h1v1h-1zM0 20h1v1h-1zM17 20h1v1h-1zM25 20h1v1h-1zM11 21h1v1h-1zM23 21h1v1h-1zM24 21h1v1h-1zM0 22h1v1h-1zM7 22h1v1h-1zM22 22h1v1h-1zM28 22h1v1h-1zM21 23h1v1h-1zM27 23h1v1h-1zM28 23h1v1h-1zM2 24h1v1h-1zM23 24h1v1h-1zM26 24h1v1h-1zM29 24h1v1h-1z"/><path fill="#abb94c" d="M8 0h1v1h-1zM13 1h1v1h-1zM14 1h1v1h-1zM20 1h1v1h-1zM21 1h1v1h-1zM1 2h1v1h-1zM25 2h1v1h-1zM13 3h1v1h-1zM14 3h1v1h-1zM16 3h1v1h-1zM19 3h1v1h-1zM21 3h1v1h-1zM29 3h1v1h-1zM5 4h1v1h-1zM1 5h1v1h-1zM9 6h1v1h-1zM24 6h1v1h-1zM5 7h1v1h-1zM6 7h1v1h-1zM7 7h1v1h-1zM8 7h1v1h-1zM9 8h1v1h-1zM22 8h1v1h-1zM25 8h1v1h-1zM12 9h1v1h-1zM26 9h1v1h-1zM27 9h1v1h-1zM26 10h1v1h-1zM28 10h1v1h-1zM25 11h1v1h-1zM7 12h1v1h-1zM8 12h1v1h-1zM18 12h1v1h-1zM0 13h1v1h-1zM7 13h1v1h-1zM9 13h1v1h-1zM21 13h1v1h-1zM28 13h1v1h-1zM11 14h1v1h-1zM14 14h1v1h-1zM15 14h1v1h-1zM14 15h1v1h-1zM26 15h1v1h-1zM29 15h1v1h-1zM4 16h1v1h-1zM20 16h1v1h-1zM28 16h1v1h-1zM3 17h1v1h-1zM14 17h1v1h-1zM19 17h1v1h-1zM24 18h1v1h-1zM3 19h1v1h-1zM12 19h1v1h-1zM20 19h1v1h-1zM22 19h1v1h-1zM5 20h1v1h-1zM11 20h1v1h-1zM21 20h1v1h-1zM22 20h1v1h-1zM23 20h1v1h-1zM9 22h1v1h-1zM12 22h1v1h-1zM16 22h1v1h-1zM17 22h1v1h-1zM1 23h1v1h-1zM3 23h1v1h-1zM8 24h1v1h-1zM14 24h1v1h-1zM20 24h1v1h-1zM14 25h1v1h-1z"/><path fill="#aba94c" d="M2 0h1v1h-1zM27 0h1v1h-1zM5 1h1v1h-1zM6 1h1v1h-1zM28 1h1v1h-1zM17 2h1v1h-1zM26 2h1v1h-1zM8 3h1v1h-1zM22 3h1v1h-1zM25 3h1v1h-1zM27 5h1v1h-1zM27 6h1v1h-1zM13 7h1v1h-1zM18 7h1v1h-1zM23 7h1v1h-1zM6 8h1v1h-1zM19 8h1v1h-1zM7 9h1v1h-1zM21 9h1v1h-1zM24 9h1v1h-1zM28 9h1v1h-1zM29 9h1v1h-1zM16 12h1v1h-1zM18 13h1v1h-1zM22 13h1v1h-1zM25 14h1v1h-1zM8 15h1v1h-1zM27 15h1v1h-1zM29 16h1v1h-1zM7 18h1v1h-1zM11 18h1v1h-1zM20 18h1v1h-1zM10 19h1v1h-1zM14 20h1v1h-1zM2 21h1v1h-1zM13 21h1v1h-1zM20 21h1v1h-1zM21 21h1v1h-1zM6 23h1v1h-1zM8 23h1v1h-1zM14 23h1v1h-1zM22 23h1v1h-1zM15 24h1v1h-1z"/><path fill="#ab984c" d="M22 0h1v1h-1zM2 1h1v1h-1zM18 1h1v1h-1zM19 1h1v1h-1zM26 1h1v1h-1zM14 2h1v1h-1zM4 3h1v1h-1zM8 4h1v1h-1zM21 4h1v1h-1zM28 4h1v1h-1zM3 6h1v1h-1zM26 7h1v1h-1zM5 8h1v1h-1zM13 8h1v1h-1zM23 9h1v1h-1zM2 10h1v1h-1zM15 10h1v1h-1zM11 11h1v1h-1zM27 12h1v1h-1zM10 13h1v1h-1zM24 14h1v1h-1zM5 15h1v1h-1zM7 15h1v1h-1zM23 15h1v1h-1zM23 16h1v1h-1zM26 17h1v1h-1zM27 17h1v1h-1zM23 18h1v1h-1zM1 20h1v1h-1zM19 20h1v1h-1zM29 20h1v1h-1zM3 21h1v1h-1zM4 22h1v1h-1zM15 22h1v1h-1zM23 22h1v1h-1zM17 23h1v1h-1zM24 23h1v1h-1zM25 23h1v1h-1z"/><path fill="#ab884c" d="M0 0h1v1h-1zM29 1h1v1h-1zM10 2h1v1h-1zM3 4h1v1h-1zM19 6h1v1h-1zM2 7h1v1h-1zM15 7h1v1h-1zM17 11h1v1h-1zM11 12h1v1h-1zM2 13h1v1h-1zM13 14h1v1h-1zM13 18h1v1h-1zM28 19h1v1h-1zM12 20h1v1h-1zM8 21h1v1h-1zM20 22h1v1h-1zM25 22h1v1h-1zM5 24h1v1h-1z"/><path fill="#ab784c" d="M16 6h1v1h-1zM28 7h1v1h-1zM11 17h1v1h-1zM8 18h1v1h-1z"/><path fill="#ab684c" d="M24 17h1v1h-1zM9 25h1v1h-1z"/><path fill="#a3604c" d="M6 0h1v1h-1zM25 13h1v1h-1z"/><path fill="#93604c" d="M14 9h1v1h-1z"/></pattern></defs><rect x="808" y="120" width="112" height="5.8" fill="url(#pM)"/><rect x="808" y="125.8" width="112" height="2.6" fill="url(#pD)"/><rect x="808" y="128.4" width="112" height="13.4" fill="url(#pL)"/><rect x="808" y="141.8" width="112" height="2.0" fill="url(#pK)"/><rect x="808" y="143.8" width="112" height="2.2" fill="url(#pM)"/><rect x="808" y="146" width="112" height="2.0" fill="url(#pD)"/><rect x="808" y="148" width="112" height="2.3" fill="url(#pM)"/><rect x="808" y="150.3" width="112" height="7.7" fill="url(#pL)"/><rect x="808" y="158" width="112" height="16.8" fill="url(#pD)"/><rect x="808" y="174.8" width="112" height="7.8" fill="url(#pL)"/><rect x="808" y="182.6" width="112" height="20.6" fill="url(#pD)"/><rect x="808" y="203.2" width="112" height="10.8" fill="url(#pL)"/><rect x="807" y="120" width="2.2" height="94" fill="#000"/><rect x="919.8" y="120" width="2.2" height="94" fill="#000"/><defs><linearGradient id="jet" x1="0" y1="1" x2="0" y2="0"><stop offset="0.000" stop-color="#00007f"/><stop offset="0.125" stop-color="#0000ff"/><stop offset="0.250" stop-color="#007fff"/><stop offset="0.375" stop-color="#00ffff"/><stop offset="0.500" stop-color="#7fff7f"/><stop offset="0.625" stop-color="#ffff00"/><stop offset="0.750" stop-color="#ff7f00"/><stop offset="0.875" stop-color="#ff0000"/><stop offset="1.000" stop-color="#7f0000"/></linearGradient></defs><rect x="927.6" y="120.2" width="9.1" height="93.8" fill="url(#jet)"/><text x="939.3" y="123.9" font-size="8.2" fill="#444">13.5</text><text x="939.3" y="147.9" font-size="8.2" fill="#444">6.8</text><text x="939.3" y="170.70000000000002" font-size="8.2" fill="#444">0</text><text x="937.6" y="194.5" font-size="8.2" fill="#444">-6.8</text><text x="937.6" y="217.6" font-size="8.2" fill="#444">-13.5</text><text transform="translate(786.6,166.8) rotate(-90)" font-size="9.6" text-anchor="middle" fill="#555">Trials</text><text x="804.6" y="171" font-size="7.8" text-anchor="end" fill="#555">100</text><text x="807.9" y="226" font-size="8" text-anchor="middle" fill="#555">0</text><text x="851.6" y="226" font-size="8" text-anchor="middle" fill="#555">100</text><text x="894.8" y="226" font-size="8" text-anchor="middle" fill="#555">200</text><text x="865.4" y="237.2" font-size="7.8" text-anchor="middle" fill="#666">Time (ms)</text><text x="826" y="251.4" font-size="11.5" font-weight="bold" text-anchor="middle" fill="#111">Activity power spectrum</text><path d="M714.4 257V342.6H938.6" fill="none" stroke="#555" stroke-width="0.9"/><line x1="714.4" x2="717.4" y1="275.4" y2="275.4" stroke="#555" stroke-width="0.9"/><line x1="714.4" x2="717.4" y1="308.9" y2="308.9" stroke="#555" stroke-width="0.9"/><line x1="714.4" x2="717.4" y1="342.4" y2="342.4" stroke="#555" stroke-width="0.9"/><line x1="714.2" x2="714.2" y1="342.6" y2="339.6" stroke="#555" stroke-width="0.9"/><text x="714.2" y="358" font-size="10.2" text-anchor="middle" fill="#444">0</text><line x1="751.6" x2="751.6" y1="342.6" y2="339.6" stroke="#555" stroke-width="0.9"/><text x="751.6" y="358" font-size="10.2" text-anchor="middle" fill="#444">10</text><line x1="789.0" x2="789.0" y1="342.6" y2="339.6" stroke="#555" stroke-width="0.9"/><text x="789.0" y="358" font-size="10.2" text-anchor="middle" fill="#444">20</text><line x1="826.4" x2="826.4" y1="342.6" y2="339.6" stroke="#555" stroke-width="0.9"/><text x="826.4" y="358" font-size="10.2" text-anchor="middle" fill="#444">30</text><line x1="863.8" x2="863.8" y1="342.6" y2="339.6" stroke="#555" stroke-width="0.9"/><text x="863.8" y="358" font-size="10.2" text-anchor="middle" fill="#444">40</text><line x1="901.2" x2="901.2" y1="342.6" y2="339.6" stroke="#555" stroke-width="0.9"/><text x="901.2" y="358" font-size="10.2" text-anchor="middle" fill="#444">50</text><line x1="938.6" x2="938.6" y1="342.6" y2="339.6" stroke="#555" stroke-width="0.9"/><text x="938.6" y="358" font-size="10.2" text-anchor="middle" fill="#444">60</text><text x="709.9" y="279.0" font-size="10.2" text-anchor="end" fill="#444">20</text><text x="709.9" y="312.5" font-size="10.2" text-anchor="end" fill="#444">0</text><text x="709.9" y="346.0" font-size="10.2" text-anchor="end" fill="#444">-20</text><text x="826.8" y="372.5" font-size="10.6" text-anchor="middle" fill="#333" textLength="78.7" lengthAdjust="spacingAndGlyphs">Frequency (Hz)</text><text transform="translate(684.9,362.9) rotate(-90)" font-size="11.4" fill="#333" textLength="125" lengthAdjust="spacing">Power 10*log<tspan font-size="8.6" dy="3">10</tspan><tspan dy="-3">(</tspan>μV<tspan font-size="8.6" dy="-4.6">2</tspan><tspan dy="4.6">/Hz)</tspan></text><path d="M714.2 302.2 L715.3 298.0 L716.8 297.2 L718.7 300.5 L720.6 307.2 L722.4 312.2 L724.3 313.9 L726.2 314.8 L728.0 317.3 L729.9 319.8 L732.9 321.5 L734.8 321.5 L736.6 323.1 L740.4 323.1 L744.1 324.0 L747.9 324.8 L749.7 325.6 L751.6 325.6 L753.5 326.5 L755.3 324.8 L757.2 323.1 L759.1 322.3 L761.0 322.8 L762.8 324.0 L766.6 325.6 L770.3 326.5 L774.0 328.2 L775.9 327.3 L777.8 326.5 L779.7 326.8 L781.5 328.2 L785.3 327.3 L789.0 328.2 L792.7 327.8 L796.5 327.3 L798.4 326.5 L800.2 327.3 L804.0 328.2 L807.7 329.0 L811.4 328.2 L815.2 329.8 L817.1 328.2 L818.9 329.0 L822.7 329.8 L826.4 329.8 L830.1 329.0 L833.9 329.8 L837.6 329.8 L841.4 330.7 L845.1 330.7 L848.8 329.8 L850.7 328.2 L852.6 329.8 L856.3 330.7 L860.1 330.7 L863.8 329.8 L867.5 330.7 L871.3 329.0 L875.0 331.5 L878.8 329.8 L882.5 329.0 L886.2 329.8 L890.0 329.0 L893.7 328.2 L895.6 325.6 L897.5 318.9 L899.3 292.1 L900.5 272.0 L901.2 267.0 L902.3 272.0 L903.4 292.1 L904.9 317.3 L906.8 325.6 L908.7 329.0 L912.4 329.8 L916.2 329.0 L919.9 330.7 L921.8 329.0 L923.6 324.8 L925.5 328.2 L927.4 330.7 L931.1 331.5 L933.0 330.7 L934.9 331.5 L938.6 333.2" fill="none" stroke="#1a62f5" stroke-width="1.8" stroke-linejoin="round"/></svg>
</body></html>
